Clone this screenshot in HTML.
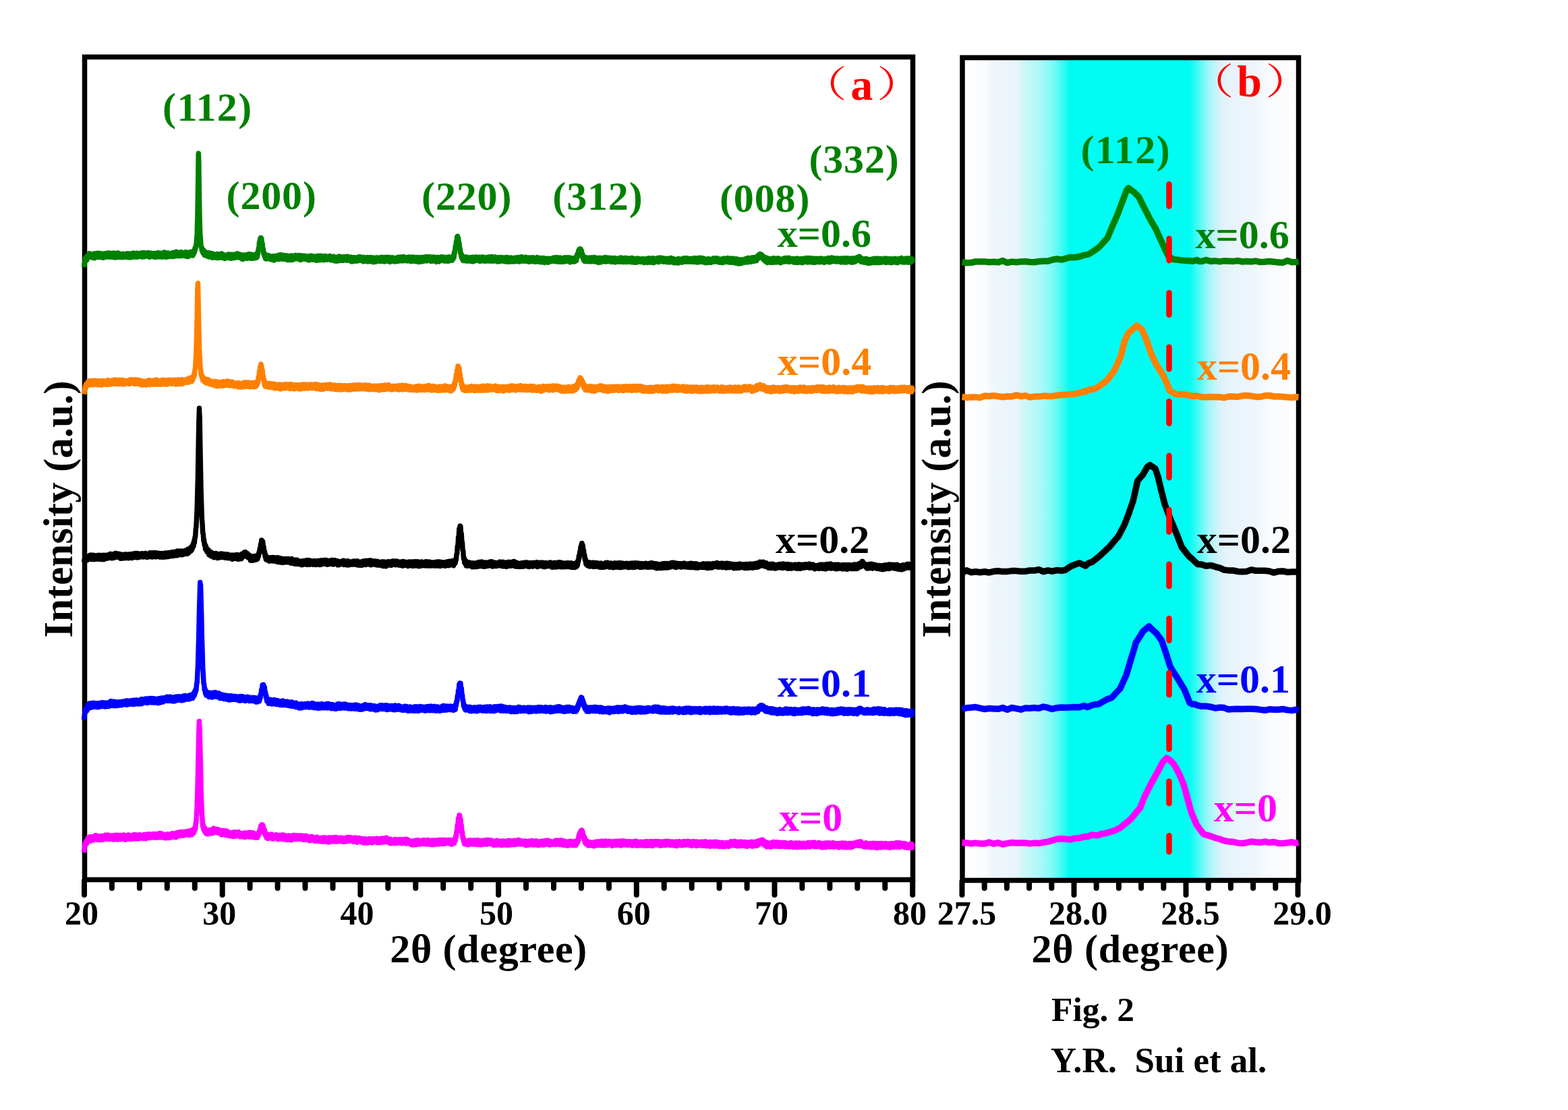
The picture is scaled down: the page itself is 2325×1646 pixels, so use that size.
<!DOCTYPE html>
<html><head><meta charset="utf-8"><title>Fig. 2</title>
<style>html,body{margin:0;padding:0;background:#fff;}svg{display:block;}</style>
</head><body>
<svg width="2325" height="1646" viewBox="0 0 2325 1646">
<defs><linearGradient id="cy" gradientUnits="userSpaceOnUse" x1="1430" y1="0" x2="1922" y2="0">
<stop offset="0.0000" stop-color="#ffffff"/>
<stop offset="0.0650" stop-color="#fafcfd"/>
<stop offset="0.0854" stop-color="#eff6fc"/>
<stop offset="0.1585" stop-color="#e8f4fb"/>
<stop offset="0.1707" stop-color="#d4f7f9"/>
<stop offset="0.2236" stop-color="#b0f9f9"/>
<stop offset="0.2642" stop-color="#80faf7"/>
<stop offset="0.2947" stop-color="#40fbf4"/>
<stop offset="0.3171" stop-color="#00fcf2"/>
<stop offset="0.6768" stop-color="#00fcf2"/>
<stop offset="0.7073" stop-color="#50faf5"/>
<stop offset="0.7358" stop-color="#a0f6f7"/>
<stop offset="0.7683" stop-color="#d8f2fa"/>
<stop offset="0.7927" stop-color="#e6f3fb"/>
<stop offset="0.8780" stop-color="#eff6fb"/>
<stop offset="0.9146" stop-color="#f8fafd"/>
<stop offset="1.0000" stop-color="#ffffff"/>
</linearGradient></defs>
<rect width="2325" height="1646" fill="#ffffff"/>
<rect x="1427" y="85.5" width="498.5" height="1220" fill="url(#cy)"/>
<g fill="none" stroke="#000" stroke-width="7.5">
<rect x="125.5" y="84.5" width="1228" height="1220"/>
<rect x="1427" y="85.5" width="498.5" height="1220"/>
</g>
<path d="M125 1306V1327M165.9 1306V1317M206.9 1306V1317M247.8 1306V1317M288.8 1306V1317M329.7 1306V1327M370.6 1306V1317M411.6 1306V1317M452.5 1306V1317M493.5 1306V1317M534.4 1306V1327M575.3 1306V1317M616.3 1306V1317M657.2 1306V1317M698.2 1306V1317M739.1 1306V1327M780 1306V1317M821 1306V1317M861.9 1306V1317M902.9 1306V1317M943.8 1306V1327M984.7 1306V1317M1025.7 1306V1317M1066.6 1306V1317M1107.6 1306V1317M1148.5 1306V1327M1189.4 1306V1317M1230.4 1306V1317M1271.3 1306V1317M1312.3 1306V1317M1353.2 1306V1327M1426.5 1307V1327M1459.7 1307V1317M1492.9 1307V1317M1526.1 1307V1317M1559.3 1307V1317M1592.5 1307V1327M1625.7 1307V1317M1658.9 1307V1317M1692.1 1307V1317M1725.3 1307V1317M1758.5 1307V1327M1791.7 1307V1317M1824.9 1307V1317M1858.1 1307V1317M1891.3 1307V1317M1924.5 1307V1327" stroke="#000" stroke-width="8" stroke-linecap="round" fill="none"/>
<g fill="none" stroke-linejoin="round" stroke-linecap="butt" stroke-width="7.5">
<path stroke="#008000" d="M124.5 396.1L125.2 390.3L125.8 388.3L126.5 382.3L127.1 387L127.8 381.6L128.4 386.2L129.1 380L129.7 384L130.4 379L131 382.5L131.7 376.3L132.3 380.9L133 375.9L133.6 381L134.3 376.5L134.9 381L135.6 376.9L136.2 381.3L136.9 377.3L137.5 382.3L138.2 377.3L138.8 381.8L139.5 376L140.1 382.7L140.8 376.7L141.4 381.9L142.1 377.4L142.7 380.9L143.4 375.5L144 381L144.7 376.7L145.3 381.3L146 375.4L146.6 381.2L147.3 375.4L147.9 380.1L148.6 376.1L149.2 381.2L149.9 377.2L150.5 381.8L151.2 376L151.8 381.7L152.5 377.1L153.1 382.3L153.8 376.9L154.4 381.6L155.1 375.9L155.7 380.7L156.4 375.8L157 381.2L157.7 375.7L158.3 380.5L159 375.2L159.6 380.1L160.3 376.1L160.9 381.1L161.6 374.9L162.2 381.2L162.9 375.7L163.5 380.3L164.2 376.7L164.8 381L165.5 375.4L166.1 381.2L166.8 376.4L167.4 380.2L168.1 375.4L168.7 381.5L169.4 375.3L170 380.4L170.7 376.2L171.3 382L172 376.5L172.6 381.2L173.3 376.7L173.9 381.1L174.6 375L175.2 381.3L175.9 375.2L176.5 381.1L177.2 376.3L177.8 381.4L178.5 376.7L179.1 381.5L179.8 377.1L180.4 381.7L181.1 376.7L181.7 380.5L182.4 376.3L183 381.5L183.7 376.9L184.3 381.3L185 377.6L185.6 381.2L186.3 376.7L186.9 380.8L187.6 376.6L188.2 381.1L188.9 375.9L189.5 381.5L190.2 376.3L190.8 381.7L191.5 375.9L192.1 381.9L192.8 376.5L193.4 381.1L194.1 376.3L194.7 381.7L195.4 376.2L196 380.5L196.7 376.8L197.3 380.2L198 375.1L198.6 381.1L199.3 376.5L199.9 380.6L200.6 376.1L201.2 381.1L201.9 375.5L202.5 380.8L203.2 375.2L203.8 381.2L204.5 375.8L205.1 380.4L205.8 375.7L206.4 379.8L207.1 376.3L207.7 380.3L208.4 375.9L209 380L209.7 375.1L210.3 381.1L211 374.8L211.6 381.1L212.3 375L212.9 380.6L213.6 374.8L214.2 380.8L214.9 375.5L215.5 379.8L216.2 375.5L216.8 379.6L217.5 375.8L218.1 380L218.8 374.8L219.4 379.7L220.1 374.7L220.7 380.3L221.4 376.1L222 381.3L222.7 375.7L223.3 380L224 375.4L224.6 380.2L225.3 375.5L225.9 380.2L226.6 376.2L227.2 380.7L227.9 376L228.5 381L229.2 375.4L229.8 381.5L230.5 375.7L231.1 381.1L231.8 376.4L232.4 380.7L233.1 375.2L233.7 380.1L234.4 374.8L235 381.1L235.7 376L236.3 380.9L237 375.6L237.6 380.1L238.3 375.3L238.9 379.5L239.6 375.5L240.2 381.2L240.9 375.5L241.5 380.2L242.2 375.1L242.8 379.3L243.5 374L244.1 378.9L244.8 375.4L245.4 381L246.1 375.9L246.7 381.3L247.4 375.1L248 381L248.7 375.3L249.3 380.3L250 375.1L250.6 379.5L251.3 375.8L251.9 380.5L252.6 375.7L253.2 379.9L253.9 376L254.5 380.4L255.2 375.4L255.8 380.4L256.5 374.6L257.1 380.6L257.8 374.3L258.4 379.7L259.1 374.9L259.7 379.9L260.4 375L261 378.6L261.7 373.4L262.3 379.4L263 373.9L263.6 379.5L264.3 374.2L264.9 378.4L265.6 375.1L266.2 379.8L266.9 374.3L267.5 378.9L268.2 373.8L268.8 378.8L269.5 374.9L270.1 379.1L270.8 374.4L271.4 379.4L272.1 375.6L272.7 378.8L273.4 375L274 379.1L274.7 374.5L275.3 379.3L276 373.6L276.6 380.4L277.3 374.2L277.9 380.2L278.6 374.4L279.2 380.5L279.9 375.7L280.5 378.8L281.2 374.5L281.8 378.2L282.5 373.6L283.1 378.7L283.8 374.5L284.4 378.5L285.1 374.4L285.7 379L286.4 372.5L287 377.1L287.7 371.8L288.3 374.6L289 368.1L289.6 370.8L290.3 364.4L290.9 364.3L291.6 354.4L292.2 346.2L292.9 319.3L293.5 283.2L294.2 228.5L294.4 227.4L294.8 238.7L295.5 294.9L296.1 325.9L296.8 348.5L297.4 354.2L298.1 366.6L298.7 365.4L299.4 371.7L300 369.2L300.7 374.6L301.3 370.2L302 376.3L302.6 372.9L303.3 378.5L303.9 373L304.6 377.9L305.2 374.3L305.9 378.9L306.5 375.2L307.2 379.9L307.8 374.9L308.5 379.3L309.1 374.7L309.8 380.8L310.4 375L311.1 381L311.7 375.7L312.4 380.7L313 377.3L313.7 380.6L314.3 375.6L315 382.3L315.6 376.4L316.3 381.8L316.9 376.7L317.6 381.1L318.2 377.6L318.9 381.7L319.5 377.3L320.2 382.3L320.8 377.3L321.5 381.8L322.1 376.6L322.8 382.6L323.4 376.8L324.1 382.6L324.7 377.8L325.4 381.6L326 376.7L326.7 381.7L327.3 377.2L328 381.7L328.6 376.1L329.3 382.2L329.9 376.8L330.6 381.4L331.2 378.1L331.9 381.8L332.5 378.2L333.2 383.6L333.8 378.5L334.5 382L335.1 378.1L335.8 382.4L336.4 378.3L337.1 381.6L337.7 378.2L338.4 381.8L339 377L339.7 382.9L340.3 377.7L341 382.3L341.6 377.2L342.3 383L342.9 378.3L343.6 383.2L344.2 377.2L344.9 382L345.5 377.7L346.2 382.3L346.8 378.4L347.5 382.4L348.1 377.7L348.8 382.4L349.4 377.1L350.1 381.7L350.7 376.3L351.4 381.1L352 375.9L352.7 381.8L353.3 377.3L354 381.2L354.6 377.3L355.3 382L355.9 377.1L356.6 382.3L357.2 378.5L357.9 383.3L358.5 379.1L359.2 384.3L359.8 378.1L360.5 384.4L361.1 378.5L361.8 383.2L362.4 378.8L363.1 383L363.7 378.1L364.4 382.8L365 377.7L365.7 382.4L366.3 378.4L367 383.4L367.6 378.5L368.3 382.4L368.9 376.8L369.6 382.8L370.2 377.2L370.9 382.6L371.5 377L372.2 383.2L372.8 377.2L373.5 382.6L374.1 378.5L374.8 383.2L375.4 378.3L376.1 382.8L376.7 378.7L377.4 382.7L378 377.7L378.7 382.7L379.3 376.9L380 382.2L380.6 377.3L381.3 381.4L381.9 374.2L382.6 376.1L383.2 368.6L383.9 369.9L384.5 359.2L385.2 361.4L385.8 353.8L386.5 357.4L386.8 352.5L387.1 356.6L387.8 353.5L388.4 361.5L389.1 361.1L389.7 370.4L390.4 369.1L391 376.8L391.7 375L392.3 380.4L393 377.8L393.6 383.6L394.3 377.8L394.9 384L395.6 379.2L396.2 383.8L396.9 378.6L397.5 383.5L398.2 378.6L398.8 383.5L399.5 379.3L400.1 384L400.8 380.1L401.4 384.8L402.1 380.5L402.7 384.6L403.4 380.6L404 385.3L404.7 379.8L405.3 385.6L406 380.1L406.6 386.1L407.3 380.7L407.9 384.1L408.6 379.8L409.2 383.6L409.9 379.2L410.5 384.2L411.2 380L411.8 384.5L412.5 379L413.1 383.8L413.8 378.1L414.4 384.4L415.1 379.1L415.7 383L416.4 377.8L417 382.9L417.7 378.1L418.3 383.5L419 379.6L419.6 384.3L420.3 378.5L420.9 383.1L421.6 379.9L422.2 384.6L422.9 379.6L423.5 384.1L424.2 378.8L424.8 384.1L425.5 379.3L426.1 385.5L426.8 379.4L427.4 385.3L428.1 379.7L428.7 385.4L429.4 380.4L430 385.2L430.7 379.5L431.3 385.5L432 379L432.6 385.4L433.3 380.3L433.9 384.1L434.6 379.6L435.2 385.1L435.9 379.4L436.5 383.6L437.2 380.1L437.8 383.6L438.5 378.4L439.1 382.9L439.8 379.6L440.4 383.8L441.1 379.3L441.7 384.1L442.4 378.7L443 383.7L443.7 379.5L444.3 384.9L445 378.8L445.6 385.4L446.3 380.5L446.9 385L447.6 379.2L448.2 384.5L448.9 380.6L449.5 383.9L450.2 379.2L450.8 383.9L451.5 380.3L452.1 384.3L452.8 379.4L453.4 384.5L454.1 380.6L454.7 384.7L455.4 380.3L456 385.4L456.7 380.5L457.3 385.6L458 380.1L458.6 385.9L459.3 379.5L459.9 384.8L460.6 379.8L461.2 384.6L461.9 379.2L462.5 384.3L463.2 380L463.8 385.2L464.5 380.2L465.1 385.3L465.8 380.3L466.4 385.2L467.1 380.1L467.7 385.1L468.4 380.4L469 386.2L469.7 381.2L470.3 385L471 379.5L471.6 386.1L472.3 379.4L472.9 384.6L473.6 379.7L474.2 385.8L474.9 379.3L475.5 385.2L476.2 379.5L476.8 385.1L477.5 379.8L478.1 385.4L478.8 379.7L479.4 384.4L480.1 381L480.7 385.7L481.4 379.7L482 384.2L482.7 379.5L483.3 384.7L484 380L484.6 385L485.3 381.1L485.9 385.1L486.6 381.4L487.2 384.5L487.9 381.1L488.5 384.5L489.2 379.5L489.8 385.3L490.5 381.4L491.1 385.6L491.8 380.7L492.4 385.7L493.1 381.5L493.7 385.9L494.4 380.3L495 385.6L495.7 380.9L496.3 386.9L497 381.9L497.6 386.8L498.3 381.7L498.9 387.2L499.6 381.9L500.2 386.5L500.9 381.7L501.5 386.9L502.2 380.3L502.8 386.1L503.5 380.2L504.1 386.3L504.8 380.4L505.4 386.4L506.1 381.2L506.7 386.5L507.4 380.9L508 385.6L508.7 381.3L509.3 386.4L510 380.8L510.6 385.8L511.3 380.8L511.9 385L512.6 380.7L513.2 385L513.9 381.8L514.5 386.2L515.2 380.2L515.8 385.6L516.5 381.8L517.1 385.8L517.8 381.8L518.4 386.3L519.1 381.3L519.7 386.8L520.4 381.3L521 387.8L521.7 381.4L522.3 387.9L523 381.9L523.6 387L524.3 382.7L524.9 386.1L525.6 381.7L526.2 387.2L526.9 381.8L527.5 385.6L528.2 382.5L528.8 387.2L529.5 382.1L530.1 385.7L530.8 381.9L531.4 386.8L532.1 380.8L532.7 385.7L533.4 380.9L534 386.3L534.7 381.6L535.3 386.6L536 381.1L536.6 386.3L537.3 382.2L537.9 386.3L538.6 382.2L539.2 387.9L539.9 381.4L540.5 387.1L541.2 382.4L541.8 386.9L542.5 382.3L543.1 386.4L543.8 382L544.4 387.7L545.1 381.5L545.7 388L546.4 382.4L547 386.6L547.7 382.8L548.3 386.9L549 381.7L549.6 386.7L550.3 381.7L550.9 388L551.6 383.5L552.2 387.8L552.9 382.3L553.5 388.7L554.2 383.2L554.8 388L555.5 382.3L556.1 387.2L556.8 383.3L557.4 388.4L558.1 382.5L558.7 386.8L559.4 381.9L560 386.6L560.7 382.3L561.3 387L562 382.6L562.6 387.5L563.3 382.1L563.9 387.3L564.6 381.8L565.2 387.6L565.9 381.3L566.5 386.9L567.2 381.9L567.8 387.3L568.5 382.7L569.1 387.7L569.8 381.5L570.4 387.9L571.1 382.6L571.7 386.4L572.4 381.6L573 387.3L573.7 381.2L574.3 386.1L575 381.6L575.6 387L576.3 382.7L576.9 387L577.6 381.5L578.2 388.4L578.9 383.3L579.5 387.1L580.2 382.1L580.8 386.4L581.5 383.3L582.1 386.5L582.8 381.9L583.4 387.3L584.1 383.2L584.7 388.1L585.4 382.8L586 387.9L586.7 382.6L587.3 386.8L588 382.2L588.6 386.3L589.3 382.6L589.9 387.5L590.6 381.3L591.2 386.6L591.9 381.4L592.5 387.1L593.2 381.8L593.8 386.8L594.5 381L595.1 385.6L595.8 381.9L596.4 386.9L597.1 381L597.7 385.7L598.4 380.6L599 386.7L599.7 381.2L600.3 385.7L601 381.9L601.6 386.2L602.3 382.4L602.9 386.6L603.6 381.5L604.2 386.9L604.9 382.5L605.5 386.6L606.2 381L606.8 385.9L607.5 381.2L608.1 387.2L608.8 382.4L609.4 387.7L610.1 381.2L610.7 387.3L611.4 380.9L612 386L612.7 381.3L613.3 387.2L614 382.3L614.6 387.3L615.3 382.4L615.9 387.5L616.6 381.6L617.2 387.8L617.9 382.4L618.5 386.9L619.2 381.4L619.8 386.3L620.5 383.2L621.1 388.6L621.8 381.9L622.4 386.9L623.1 381.7L623.7 386.9L624.4 381.5L625 388L625.7 383L626.3 386L627 382.2L627.6 387.6L628.3 381.4L628.9 386.4L629.6 380.9L630.2 386.1L630.9 381.6L631.5 385.7L632.2 380.7L632.8 387.1L633.5 381.7L634.1 386L634.8 380.7L635.4 386.2L636.1 382.1L636.7 386.3L637.4 380.8L638 386.9L638.7 382.3L639.3 387.6L640 381.4L640.6 385.8L641.3 381.2L641.9 387.2L642.6 380.9L643.2 385.6L643.9 381.9L644.5 387.1L645.2 381.6L645.8 387.3L646.5 383.2L647.1 388.4L647.8 381.4L648.4 387.2L649.1 382.9L649.7 387.5L650.4 381.6L651 387.9L651.7 383.1L652.3 386.8L653 382.4L653.6 386L654.3 380.9L654.9 386.1L655.6 382.3L656.2 385.6L656.9 381L657.5 386.8L658.2 382.2L658.8 387.1L659.5 382.5L660.1 387.2L660.8 381.5L661.4 385.7L662.1 381.7L662.7 387L663.4 381.4L664 387.3L664.7 381L665.3 387.2L666 381.1L666.6 386.5L667.3 382.7L667.9 386L668.6 382.1L669.2 385.7L669.9 382L670.5 386.2L671.2 381.4L671.8 384.4L672.5 378L673.1 382L673.8 373.4L674.4 375.2L675.1 366L675.7 367.9L676.4 358.6L677 358.6L677.7 351.2L678.3 354.4L678.5 350.3L679 355L679.6 352.9L680.3 359.7L680.9 360L681.6 368.1L682.2 368.4L682.9 376L683.5 375.4L684.2 381.7L684.8 378L685.5 384.4L686.1 379.8L686.8 386.6L687.4 382L688.1 385.9L688.7 381.4L689.4 386.3L690 382.3L690.7 386.9L691.3 380.9L692 386.6L692.6 382.1L693.3 387.2L693.9 381.8L694.6 386.7L695.2 381.9L695.9 387L696.5 381.9L697.2 386.1L697.8 382.6L698.5 387.6L699.1 381.4L699.8 387.4L700.4 381.3L701.1 387.9L701.7 382.1L702.4 387.2L703 381.7L703.7 387.2L704.3 381.8L705 386.6L705.6 381.1L706.3 386.6L706.9 382.8L707.6 386L708.2 381.8L708.9 386.3L709.5 381.2L710.2 386.3L710.8 382.1L711.5 387.4L712.1 381.9L712.8 387.4L713.4 381.3L714.1 385.8L714.7 382.4L715.4 386.7L716 381.1L716.7 386.4L717.3 382.1L718 387L718.6 382.5L719.3 387.4L719.9 382.6L720.6 386.2L721.2 381.4L721.9 387.1L722.5 381.8L723.2 386.5L723.8 382.9L724.5 387L725.1 381.1L725.8 387L726.4 381.6L727.1 387.3L727.7 380.8L728.4 387.2L729 380.6L729.7 386.8L730.3 381.9L731 386.8L731.6 381.9L732.3 387.4L732.9 382.4L733.6 386.5L734.2 381.1L734.9 386.7L735.5 381.8L736.2 386.4L736.8 382.7L737.5 388L738.1 382.1L738.8 387.1L739.4 382.3L740.1 387.6L740.7 381.6L741.4 387.7L742 382.3L742.7 386.6L743.3 381.7L744 386.8L744.6 381.7L745.3 386.5L745.9 382.3L746.6 387.5L747.2 382.1L747.9 387.3L748.5 382.8L749.2 387.9L749.8 382.8L750.5 387.2L751.1 381.6L751.8 387.1L752.4 383.1L753.1 388.4L753.7 382L754.4 387.8L755 383.6L755.7 388.1L756.3 383.3L757 387.4L757.6 382L758.3 388L758.9 382.8L759.6 386.7L760.2 382.7L760.9 388.1L761.5 382.7L762.2 386.8L762.8 382.3L763.5 387.1L764.1 382.3L764.8 387.9L765.4 382.6L766.1 386.9L766.7 381.8L767.4 386.8L768 382.6L768.7 386.4L769.3 382L770 388L770.6 382.8L771.3 387.6L771.9 381.1L772.6 386.9L773.2 380.8L773.9 387.2L774.5 381.4L775.2 386.2L775.8 381.8L776.5 387.1L777.1 382.5L777.8 387.3L778.4 381.9L779.1 387.4L779.7 381.3L780.4 386.9L781 382.5L781.7 386.8L782.3 383.2L783 387.6L783.6 382L784.3 388.3L784.9 382.5L785.6 387.6L786.2 382.1L786.9 386.7L787.5 382.7L788.2 387.6L788.8 382.8L789.5 387.1L790.1 381.7L790.8 387.1L791.4 383.1L792.1 388.3L792.7 383.3L793.4 388.3L794 383.1L794.7 387L795.3 382.4L796 387.4L796.6 381.4L797.3 388.1L797.9 382.8L798.6 387.9L799.2 383.1L799.9 388.5L800.5 383L801.2 388.6L801.8 382.6L802.5 388.7L803.1 383.2L803.8 387.8L804.4 383.5L805.1 388.8L805.7 382.4L806.4 389.1L807 383.9L807.7 389.5L808.3 383.3L809 388.6L809.6 384.5L810.3 388.2L810.9 383.3L811.6 388L812.2 383.8L812.9 389.3L813.5 383.3L814.2 388.5L814.8 383.8L815.5 387.9L816.1 384L816.8 387.1L817.4 383.3L818.1 387.8L818.7 382.9L819.4 386.8L820 382.6L820.7 387.3L821.3 381.9L822 387.6L822.6 383.2L823.3 387.4L823.9 382.9L824.6 388L825.2 381.5L825.9 387.7L826.5 382.2L827.2 388L827.8 382.2L828.5 387.2L829.1 383.5L829.8 388.5L830.4 381.9L831.1 387.3L831.7 382.7L832.4 388L833 383.2L833.7 388.4L834.3 383.5L835 387.7L835.6 382.6L836.3 388.2L836.9 382.1L837.6 387.7L838.2 381.7L838.9 386.9L839.5 382.2L840.2 386.3L840.8 382.9L841.5 387.5L842.1 381.7L842.8 387.4L843.4 382.2L844.1 387.9L844.7 381.9L845.4 388.9L846 382.6L846.7 388L847.3 383L848 388L848.6 382.8L849.3 388L849.9 382.7L850.6 388L851.2 384L851.9 388.1L852.5 383.2L853.2 387.3L853.8 382.7L854.5 386.7L855.1 378.8L855.8 382.4L856.4 376.3L857.1 379L857.7 371.8L858.4 376.2L859 369.9L859.7 375L860 369.1L860.3 373.7L861 369.1L861.6 375.9L862.3 371.8L862.9 379.4L863.6 376.3L864.2 382.9L864.9 379L865.5 385.6L866.2 381.5L866.8 387.3L867.5 383.2L868.1 387.8L868.8 381.7L869.4 387L870.1 383.6L870.7 387.6L871.4 382.6L872 387.3L872.7 382.6L873.3 387.8L874 382L874.6 386.5L875.3 382.9L875.9 387.7L876.6 383.2L877.2 388L877.9 381.7L878.5 387.2L879.2 382.5L879.8 386.5L880.5 382.9L881.1 387.5L881.8 381.5L882.4 388.2L883.1 383.8L883.7 387L884.4 383L885 387.9L885.7 382.8L886.3 389L887 382.6L887.6 389.4L888.3 383.7L888.9 388.2L889.6 382.3L890.2 388.9L890.9 384.1L891.5 388.7L892.2 382.7L892.8 387.1L893.5 382.9L894.1 387.6L894.8 382.4L895.4 387.5L896.1 382.1L896.7 387.6L897.4 381.6L898 388.2L898.7 383.2L899.3 386.8L900 382.1L900.6 387.8L901.3 382.1L901.9 387.8L902.6 383.8L903.2 387.3L903.9 382.4L904.5 387L905.2 382.6L905.8 388L906.5 382.7L907.1 388.6L907.8 383.2L908.4 387.9L909.1 382.6L909.7 387.3L910.4 384.2L911 387.6L911.7 382.6L912.3 389L913 383.9L913.6 387.6L914.3 383.4L914.9 388.3L915.6 384.2L916.2 387.7L916.9 383.7L917.5 388.1L918.2 382.5L918.8 388.3L919.5 382.3L920.1 388.5L920.8 382.1L921.4 387.7L922.1 382.6L922.7 388.1L923.4 384.1L924 388.6L924.7 383.2L925.3 387.7L926 382.5L926.6 388.4L927.3 382.9L927.9 388.3L928.6 382.5L929.2 388.5L929.9 382.8L930.5 388.4L931.2 383.6L931.8 387.6L932.5 383.4L933.1 387L933.8 383.6L934.4 388.6L935.1 383.1L935.7 387.9L936.4 382.5L937 388.8L937.7 382.7L938.3 388.2L939 382.9L939.6 389.1L940.3 384.4L940.9 388.7L941.6 384.6L942.2 389L942.9 383.9L943.5 389.3L944.2 383.9L944.8 388.2L945.5 383L946.1 388.5L946.8 384.2L947.4 388L948.1 383.8L948.7 387.6L949.4 384.3L950 388.4L950.7 384L951.3 388.6L952 384.1L952.6 388.5L953.3 383.8L953.9 388.6L954.6 383.7L955.2 389.6L955.9 384.9L956.5 388.2L957.2 384.6L957.8 388.7L958.5 384.3L959.1 389.3L959.8 383.3L960.4 389.4L961.1 383.4L961.7 388.9L962.4 382.8L963 388.9L963.7 383.6L964.3 387.7L965 384.4L965.6 389.2L966.3 383.3L966.9 388.4L967.6 382.8L968.2 389.1L968.9 383.9L969.5 389.7L970.2 383.2L970.8 388.7L971.5 383.6L972.1 387.9L972.8 384.3L973.4 388.2L974.1 383.8L974.7 387.1L975.4 382.5L976 388.6L976.7 382.7L977.3 388.7L978 382.2L978.6 387.8L979.3 382.3L979.9 386.9L980.6 382.4L981.2 387.1L981.9 383.3L982.5 387.6L983.2 382.7L983.8 388.3L984.5 383L985.1 388.1L985.8 384.4L986.4 387.7L987.1 383.7L987.7 388.1L988.4 383.4L989 388.8L989.7 383.9L990.3 388.2L991 384.6L991.6 388.8L992.3 383L992.9 389L993.6 382.7L994.2 387.8L994.9 382.4L995.5 388.5L996.2 384L996.8 387.9L997.5 384.8L998.1 389.3L998.8 383.8L999.4 389.8L1000.1 384.2L1000.7 389.1L1001.4 384.8L1002 389.5L1002.7 385.5L1003.3 389.9L1004 385.1L1004.6 388.7L1005.3 383.8L1005.9 390.1L1006.6 383.7L1007.2 388.4L1007.9 384.1L1008.5 388.5L1009.2 384.3L1009.8 387.8L1010.5 384.3L1011.1 389.2L1011.8 383.8L1012.4 387.7L1013.1 383.3L1013.7 388.1L1014.4 382.8L1015 388.2L1015.7 383.9L1016.3 387.6L1017 382.9L1017.6 388.2L1018.3 382.7L1018.9 387.4L1019.6 383.7L1020.2 388.3L1020.9 383.6L1021.5 388.2L1022.2 383.2L1022.8 387.7L1023.5 384.3L1024.1 388.1L1024.8 384.4L1025.4 388.3L1026.1 383.4L1026.7 387.9L1027.4 383.8L1028 388.5L1028.7 383.1L1029.3 387.2L1030 382.6L1030.6 388.5L1031.3 383.7L1031.9 388.3L1032.6 382.9L1033.2 388.9L1033.9 384.1L1034.5 389.1L1035.2 383.6L1035.8 388.9L1036.5 382.2L1037.1 387.6L1037.8 383.3L1038.4 388.3L1039.1 382.5L1039.7 387.8L1040.4 383.3L1041 388.5L1041.7 382.6L1042.3 387.4L1043 383.2L1043.6 388.1L1044.3 383.5L1044.9 389.5L1045.6 384.8L1046.2 389.4L1046.9 384.7L1047.5 389.8L1048.2 384.2L1048.8 389.2L1049.5 384.7L1050.1 389.3L1050.8 383.6L1051.4 388.7L1052.1 384.4L1052.7 388.5L1053.4 384.7L1054 389.6L1054.7 384.3L1055.3 389L1056 384.4L1056.6 388.4L1057.3 383.6L1057.9 387.9L1058.6 382.9L1059.2 388L1059.9 383.6L1060.5 388.1L1061.2 383L1061.8 388L1062.5 384.1L1063.1 387.6L1063.8 382.9L1064.4 387.9L1065.1 383.9L1065.7 389L1066.4 384.2L1067 388.6L1067.7 384L1068.3 389.3L1069 384.6L1069.6 388.1L1070.3 385L1070.9 389.3L1071.6 383.7L1072.2 389.5L1072.9 383.2L1073.5 388.7L1074.2 383.2L1074.8 388.6L1075.5 383.9L1076.1 388.1L1076.8 383.3L1077.4 388.5L1078.1 383.7L1078.7 388.4L1079.4 382.6L1080 387.7L1080.7 383.3L1081.3 389L1082 384.2L1082.6 389.2L1083.3 383.8L1083.9 388.1L1084.6 383.1L1085.2 388.9L1085.9 384L1086.5 389.4L1087.2 383.2L1087.8 388.5L1088.5 385L1089.1 389.6L1089.8 384L1090.4 389.1L1091.1 384L1091.7 390.4L1092.4 384.1L1093 390L1093.7 384.3L1094.3 391L1095 384.9L1095.6 389.8L1096.3 385.8L1096.9 391L1097.6 385.1L1098.2 390.5L1098.9 385L1099.5 390.6L1100.2 385.9L1100.8 389.5L1101.5 386L1102.1 388.8L1102.8 384.8L1103.4 388.6L1104.1 384.3L1104.7 389.2L1105.4 384L1106 387.4L1106.7 383.2L1107.3 387.2L1108 384L1108.6 389L1109.3 382.6L1109.9 387.2L1110.6 382.6L1111.2 386.9L1111.9 383L1112.5 388.2L1113.2 382.7L1113.8 388.4L1114.5 382.3L1115.1 386.9L1115.8 381.9L1116.4 387.3L1117.1 382.8L1117.7 387.6L1118.4 381.8L1119 386.5L1119.7 382.7L1120.3 386.7L1121 381.3L1121.6 386.7L1122.3 380.9L1122.9 384.7L1123.6 379.3L1124.2 383.7L1124.9 378.4L1125.5 382.4L1126.2 376.9L1126.8 382L1127.5 376.6L1127.6 381.9L1128.1 377.6L1128.8 381L1129.4 377.5L1130.1 382.4L1130.7 379.3L1131.4 383.7L1132 380.1L1132.7 385.5L1133.3 381.1L1134 386L1134.6 381.5L1135.3 387.8L1135.9 383.5L1136.6 388.3L1137.2 382.6L1137.9 389.6L1138.5 383.4L1139.2 388.4L1139.8 383.3L1140.5 388.6L1141.1 384.4L1141.8 388.2L1142.4 384L1143.1 389.6L1143.7 383.8L1144.4 387.9L1145 383.2L1145.7 388.6L1146.3 383.6L1147 389.4L1147.6 382.8L1148.3 388.4L1148.9 383.1L1149.6 387.7L1150.2 383.7L1150.9 389L1151.5 383.2L1152.2 388.4L1152.8 383.1L1153.5 388.3L1154.1 382.9L1154.8 388.3L1155.4 384.3L1156.1 389.1L1156.7 384.6L1157.4 389.8L1158 383.9L1158.7 388.5L1159.3 384.7L1160 388.7L1160.6 384.5L1161.3 387.6L1161.9 383.8L1162.6 388.1L1163.2 382.7L1163.9 387.7L1164.5 382.6L1165.2 388L1165.8 382.5L1166.5 387.6L1167.1 384.1L1167.8 387.8L1168.4 383.5L1169.1 387.7L1169.7 382.2L1170.4 388.6L1171 384.1L1171.7 388L1172.3 383.9L1173 387.8L1173.6 383.5L1174.3 387.5L1174.9 384L1175.6 387.6L1176.2 383.5L1176.9 389.1L1177.5 384.2L1178.2 389.3L1178.8 384.3L1179.5 389.4L1180.1 383.4L1180.8 389.1L1181.4 383.2L1182.1 389.3L1182.7 383.2L1183.4 389.6L1184 384.5L1184.7 388.7L1185.3 384.8L1186 388.9L1186.6 384.7L1187.3 388.5L1187.9 383.6L1188.6 389.5L1189.2 384.2L1189.9 389.7L1190.5 383.8L1191.2 388.9L1191.8 383.3L1192.5 388.8L1193.1 384.2L1193.8 388L1194.4 383.3L1195.1 387.7L1195.7 382.5L1196.4 387.4L1197 382.9L1197.7 389.1L1198.3 383L1199 387.5L1199.6 382.6L1200.3 388.4L1200.9 382.8L1201.6 387.5L1202.2 383.6L1202.9 388.9L1203.5 384.3L1204.2 387.5L1204.8 383L1205.5 389.2L1206.1 383.9L1206.8 388.2L1207.4 383.5L1208.1 389.2L1208.7 383.9L1209.4 389.1L1210 383.2L1210.7 388.4L1211.3 384L1212 388.5L1212.6 384.2L1213.3 388.4L1213.9 383.3L1214.6 388.9L1215.2 383.8L1215.9 388.8L1216.5 383.6L1217.2 388.6L1217.8 383.7L1218.5 387.9L1219.1 383.1L1219.8 387.2L1220.4 384.4L1221.1 388.8L1221.7 384.2L1222.4 389.4L1223 384.6L1223.7 388.3L1224.3 383.4L1225 388.1L1225.6 383.9L1226.3 388.4L1226.9 383.8L1227.6 387.8L1228.2 382.4L1228.9 388.1L1229.5 384.2L1230.2 389L1230.8 383.6L1231.5 388.4L1232.1 382.4L1232.8 388.1L1233.4 382.1L1234.1 387.2L1234.7 383.9L1235.4 387.8L1236 383L1236.7 387.6L1237.3 382.8L1238 387.3L1238.6 383L1239.3 387.8L1239.9 383.5L1240.6 388.2L1241.2 382.9L1241.9 387.6L1242.5 383.5L1243.2 387.6L1243.8 383.1L1244.5 388.1L1245.1 384L1245.8 387.9L1246.4 383.3L1247.1 389.1L1247.7 383.3L1248.4 388.7L1249 383.6L1249.7 388.6L1250.3 382.9L1251 388.8L1251.6 382.8L1252.3 388.9L1252.9 382.9L1253.6 388.8L1254.2 383.1L1254.9 389.1L1255.5 384L1256.2 388.1L1256.8 382.8L1257.5 388L1258.1 383.2L1258.8 388.2L1259.4 383.9L1260.1 388.4L1260.7 384L1261.4 388.2L1262 382.9L1262.7 389.2L1263.3 383.6L1264 388.7L1264.6 383L1265.3 389L1265.9 384.5L1266.6 388L1267.2 383L1267.9 388.3L1268.5 382.6L1269.2 387L1269.8 383.1L1270.5 386.4L1271.1 382L1271.8 386.2L1272.4 381L1273 386L1273.1 381.1L1273.7 385.9L1274.4 380.2L1275 385.4L1275.7 381.6L1276.3 387.5L1277 383.1L1277.6 388.6L1278.3 383.7L1278.9 388.6L1279.6 383.8L1280.2 388.3L1280.9 384.4L1281.5 389.4L1282.2 384L1282.8 388.2L1283.5 383.6L1284.1 389.1L1284.8 383.6L1285.4 388.7L1286.1 384.7L1286.7 390.3L1287.4 384.4L1288 389.8L1288.7 384.9L1289.3 390.5L1290 385.6L1290.6 389.9L1291.3 384.4L1291.9 389.8L1292.6 384.2L1293.2 389.7L1293.9 385.2L1294.5 389L1295.2 383.5L1295.8 389.6L1296.5 383.7L1297.1 387.8L1297.8 383.4L1298.4 389.4L1299.1 384.5L1299.7 388.1L1300.4 384L1301 388.4L1301.7 383.1L1302.3 389.7L1303 383.5L1303.6 389.3L1304.3 384.1L1304.9 388L1305.6 383.6L1306.2 389.3L1306.9 383.5L1307.5 387.7L1308.2 384.2L1308.8 388.9L1309.5 384.6L1310.1 388.5L1310.8 383.7L1311.4 388.3L1312.1 383.1L1312.7 388.4L1313.4 383.8L1314 389.6L1314.7 383.5L1315.3 388.4L1316 383.4L1316.6 388.3L1317.3 385.1L1317.9 388.3L1318.6 383.8L1319.2 389.3L1319.9 383.7L1320.5 389.3L1321.2 383.8L1321.8 389.7L1322.5 384.2L1323.1 388.2L1323.8 384.5L1324.4 388.8L1325.1 383.9L1325.7 388.9L1326.4 384.3L1327 388.4L1327.7 383.4L1328.3 389.2L1329 384L1329.6 389L1330.3 384.2L1330.9 389.7L1331.6 384.1L1332.2 388.7L1332.9 383.6L1333.5 388L1334.2 383.9L1334.8 387.7L1335.5 383.4L1336.1 388.4L1336.8 382.5L1337.4 387.9L1338.1 384.6L1338.7 389L1339.4 384.5L1340 388.9L1340.7 384.2L1341.3 389.1L1342 384.4L1342.6 388.6L1343.3 383.1L1343.9 389.1L1344.6 384L1345.2 388.8L1345.9 383.1L1346.5 388.3L1347.2 383.3L1347.8 389.2L1348.5 383L1349.1 388.7L1349.8 384L1350.4 388.9L1351.1 384.2L1351.7 388.2L1352.4 383.9L1353 388.8"/>
<path stroke="#ff8000" d="M124.5 584.5L125.2 580.4L125.8 578L126.5 572.4L127.1 576L127.8 569.5L128.4 573.5L129.1 569.2L129.7 571.9L130.4 566.2L131 570.5L131.7 565.5L132.3 569.7L133 564.7L133.6 569.9L134.3 564.8L134.9 570.8L135.6 564.6L136.2 569.6L136.9 565.4L137.5 569.5L138.2 564.6L138.8 570.5L139.5 564.4L140.1 569.6L140.8 564.4L141.4 570.2L142.1 565L142.7 569.4L143.4 566.1L144 569.8L144.7 564.8L145.3 570.8L146 564.8L146.6 570.4L147.3 565.5L147.9 570.5L148.6 565.2L149.2 570.7L149.9 565.3L150.5 571L151.2 564.8L151.8 570.2L152.5 564.6L153.1 569.8L153.8 564.9L154.4 569.7L155.1 565.2L155.7 568.9L156.4 565.8L157 570.2L157.7 564.8L158.3 570.4L159 564.4L159.6 569.7L160.3 563.7L160.9 570.1L161.6 564.7L162.2 570L162.9 565.8L163.5 569.1L164.2 565.3L164.8 569.9L165.5 565.5L166.1 568.6L166.8 563.8L167.4 568.5L168.1 564.3L168.7 569L169.4 563.6L170 568.9L170.7 563L171.3 569.3L172 563.7L172.6 568.9L173.3 563.7L173.9 569.6L174.6 564.2L175.2 568.9L175.9 563.5L176.5 567.9L177.2 564.5L177.8 569.6L178.5 563.4L179.1 568.2L179.8 564.1L180.4 567.8L181.1 563.3L181.7 568.3L182.4 564.9L183 570.1L183.7 564.2L184.3 568.7L185 565.1L185.6 569.1L186.3 564.4L186.9 569.1L187.6 565L188.2 568.3L188.9 564.5L189.5 568.8L190.2 564.4L190.8 568.9L191.5 564.2L192.1 569.6L192.8 563L193.4 567.9L194.1 564.2L194.7 568.3L195.4 562.9L196 567.6L196.7 564.1L197.3 568.4L198 563.2L198.6 569.2L199.3 562.9L199.9 569.1L200.6 564.4L201.2 569.3L201.9 562.9L202.5 567.5L203.2 564.2L203.8 568.9L204.5 564.2L205.1 568.9L205.8 563.4L206.4 569.4L207.1 564.1L207.7 569.7L208.4 564.6L209 570.6L209.7 564.7L210.3 570.9L211 566.1L211.6 570.9L212.3 565.2L212.9 570.7L213.6 566.2L214.2 570.5L214.9 565.7L215.5 569.6L216.2 566.3L216.8 571L217.5 565L218.1 569.5L218.8 565.3L219.4 569.4L220.1 563.9L220.7 568.8L221.4 563.8L222 570.7L222.7 565L223.3 569.3L224 564.7L224.6 569.6L225.3 565L225.9 569.3L226.6 564.2L227.2 569.5L227.9 564.1L228.5 570.3L229.2 565.3L229.8 569.1L230.5 564.8L231.1 569.5L231.8 563.1L232.4 569.5L233.1 563.8L233.7 570.1L234.4 564.9L235 569L235.7 564.6L236.3 568.9L237 564.2L237.6 570.2L238.3 564.9L238.9 569.1L239.6 564.1L240.2 568.9L240.9 563.5L241.5 569.7L242.2 563.6L242.8 568.5L243.5 564.7L244.1 568.5L244.8 563.6L245.4 569.9L246.1 565.2L246.7 569.7L247.4 563.7L248 569.9L248.7 564.5L249.3 569.2L250 564.6L250.6 567.8L251.3 563.3L251.9 567.9L252.6 563.6L253.2 568.5L253.9 563.8L254.5 569.3L255.2 563.9L255.8 568.2L256.5 563.6L257.1 567.8L257.8 563.8L258.4 568.4L259.1 563.3L259.7 569.1L260.4 564.8L261 570L261.7 564.3L262.3 569L263 563.3L263.6 567.9L264.3 564.5L264.9 569.5L265.6 563L266.2 568.3L266.9 564.5L267.5 568.6L268.2 563.3L268.8 569.3L269.5 562.7L270.1 569.6L270.8 564L271.4 568.6L272.1 563.8L272.7 568.1L273.4 564.4L274 567.6L274.7 563.3L275.3 567L276 563L276.6 566.6L277.3 562.2L277.9 567.1L278.6 562.4L279.2 566.8L279.9 561.7L280.5 566.9L281.2 560.6L281.8 565.7L282.5 560.7L283.1 565.2L283.8 559.7L284.4 565.4L285.1 560.3L285.7 563.5L286.4 558.4L287 560.6L287.7 554.8L288.3 557.2L289 547.9L289.6 546.3L290.3 533.3L290.9 524.1L291.6 497.5L292.2 468.5L292.9 428.3L293.3 421.7L293.5 419.9L294.2 454.9L294.8 486.9L295.5 516.9L296.1 529.3L296.8 544.5L297.4 546.2L298.1 555.8L298.7 554.3L299.4 559.9L300 557.8L300.7 564.2L301.3 559.4L302 565.1L302.6 560.6L303.3 565.9L303.9 562.1L304.6 567L305.2 563.2L305.9 567.9L306.5 562.9L307.2 568.2L307.8 562.6L308.5 567.9L309.1 564.1L309.8 569.2L310.4 563.9L311.1 569.1L311.7 564.6L312.4 568.9L313 565.1L313.7 570.3L314.3 565.8L315 570L315.6 565.7L316.3 569.6L316.9 566.4L317.6 571.5L318.2 565.6L318.9 570.9L319.5 566.6L320.2 572L320.8 566.4L321.5 572.8L322.1 566.1L322.8 572L323.4 566.9L324.1 572.2L324.7 567.5L325.4 571.9L326 566.7L326.7 571.9L327.3 566.8L328 572L328.6 566.2L329.3 572.3L329.9 567.4L330.6 572.2L331.2 565.7L331.9 572L332.5 566.8L333.2 571.1L333.8 566.6L334.5 570L335.1 565.8L335.8 571.4L336.4 565.2L337.1 570.8L337.7 565L338.4 571.2L339 566.4L339.7 571.5L340.3 566.3L341 571.9L341.6 566.7L342.3 570.7L342.9 566.2L343.6 571.1L344.2 566.3L344.9 572L345.5 566.7L346.2 571.5L346.8 567.6L347.5 572.9L348.1 568.3L348.8 572.8L349.4 568.5L350.1 572.3L350.7 568.1L351.4 573L352 568.6L352.7 572.4L353.3 567.7L354 573.9L354.6 568.7L355.3 573.1L355.9 568.2L356.6 573.2L357.2 569L357.9 574.2L358.5 569.2L359.2 573.9L359.8 568.3L360.5 573.4L361.1 567.8L361.8 573.4L362.4 567.1L363.1 573.5L363.7 568.3L364.4 572.2L365 567.2L365.7 572.2L366.3 568.3L367 573.2L367.6 566.9L368.3 573.3L368.9 567.9L369.6 572.7L370.2 567.5L370.9 573.8L371.5 568.1L372.2 572.3L372.8 568.8L373.5 572.1L374.1 567.4L374.8 572.8L375.4 569.1L376.1 573.8L376.7 568.9L377.4 573.3L378 567.3L378.7 573.4L379.3 568L380 572.7L380.6 566.6L381.3 570.7L381.9 564.6L382.6 567.8L383.2 559.3L383.9 560.5L384.5 550.8L385.2 552.2L385.8 544L386.5 546.2L387 539.9L387.1 545.9L387.8 542.5L388.4 548.7L389.1 548.7L389.7 558.1L390.4 557.7L391 564.7L391.7 563.6L392.3 571.4L393 567.2L393.6 573.1L394.3 569L394.9 573.3L395.6 569L396.2 573.4L396.9 569.3L397.5 573.6L398.2 568.3L398.8 574.6L399.5 570.2L400.1 573.6L400.8 568.7L401.4 574L402.1 569.8L402.7 573.5L403.4 569.3L404 574.7L404.7 569.2L405.3 574.3L406 569.3L406.6 575.2L407.3 569.4L407.9 575.9L408.6 570.6L409.2 574.5L409.9 570.2L410.5 574.5L411.2 571.4L411.8 575.7L412.5 571.5L413.1 575.5L413.8 569.9L414.4 575.2L415.1 570.3L415.7 577L416.4 572L417 575.7L417.7 570.2L418.3 575.8L419 570.9L419.6 576L420.3 570.7L420.9 574.7L421.6 570.4L422.2 575.7L422.9 569.8L423.5 575.4L424.2 570.7L424.8 575L425.5 570.2L426.1 575.2L426.8 570.8L427.4 575.5L428.1 569.9L428.7 574.8L429.4 571.4L430 576.5L430.7 569.9L431.3 574.7L432 569.6L432.6 575.1L433.3 570.8L433.9 575.6L434.6 570.9L435.2 576.5L435.9 570.9L436.5 576.8L437.2 570.7L437.8 576.5L438.5 570.6L439.1 575.9L439.8 570.7L440.4 575.1L441.1 570.9L441.7 575.7L442.4 570.8L443 575.5L443.7 571L444.3 577.1L445 571.3L445.6 575.4L446.3 570.7L446.9 575.7L447.6 571.5L448.2 576.5L448.9 570.1L449.5 574.9L450.2 570.9L450.8 575.9L451.5 571.1L452.1 576.1L452.8 570.1L453.4 574.5L454.1 570.8L454.7 574.6L455.4 570.4L456 575.9L456.7 571L457.3 574.5L458 570.9L458.6 575.2L459.3 570.1L459.9 574.7L460.6 570.4L461.2 575.3L461.9 570.1L462.5 575.7L463.2 571L463.8 574.8L464.5 570.3L465.1 575.6L465.8 569.9L466.4 575.6L467.1 571.3L467.7 575.7L468.4 569.8L469 576.4L469.7 570.1L470.3 576.3L471 571.6L471.6 575.6L472.3 570.8L472.9 576.7L473.6 571.1L474.2 576.9L474.9 571.8L475.5 577.6L476.2 571.3L476.8 576.2L477.5 571.8L478.1 577L478.8 572.1L479.4 577.3L480.1 570.9L480.7 575.6L481.4 572L482 575.4L482.7 570.8L483.3 575.8L484 570.7L484.6 576.1L485.3 571.7L485.9 575.4L486.6 571.2L487.2 576.1L487.9 571.1L488.5 575.2L489.2 570L489.8 575.7L490.5 571.6L491.1 576.7L491.8 570.7L492.4 576L493.1 571.9L493.7 576.7L494.4 572L495 577L495.7 570.9L496.3 577.2L497 571.3L497.6 577.5L498.3 572.2L498.9 577.6L499.6 573.1L500.2 577.5L500.9 571.6L501.5 576.5L502.2 572.7L502.8 577.7L503.5 571.3L504.1 576.2L504.8 571.9L505.4 576.4L506.1 572.6L506.7 578L507.4 571.8L508 577.4L508.7 572.4L509.3 577.2L510 571.7L510.6 576.7L511.3 571.9L511.9 576.4L512.6 571.9L513.2 576.3L513.9 572.4L514.5 577.9L515.2 571.9L515.8 577.1L516.5 572.8L517.1 577.8L517.8 572.1L518.4 578.1L519.1 571.6L519.7 578L520.4 572L521 577.6L521.7 572.7L522.3 575.9L523 571.2L523.6 576.9L524.3 570.9L524.9 576.3L525.6 571.9L526.2 577.1L526.9 571.3L527.5 576.9L528.2 571.7L528.8 577L529.5 570.6L530.1 577.1L530.8 571.6L531.4 577.1L532.1 571.7L532.7 576.4L533.4 570.7L534 576.6L534.7 571.1L535.3 576.2L536 571.5L536.6 576.4L537.3 571.4L537.9 576.6L538.6 572.2L539.2 576.3L539.9 571L540.5 576.8L541.2 572.4L541.8 576.5L542.5 571.7L543.1 576.2L543.8 571.1L544.4 577.2L545.1 571.6L545.7 577.2L546.4 572.7L547 577.8L547.7 571.2L548.3 576.4L549 572.2L549.6 577.5L550.3 573.1L550.9 577.2L551.6 572.9L552.2 577.6L552.9 572.6L553.5 576.5L554.2 572.5L554.8 576.6L555.5 572.4L556.1 577.5L556.8 572.6L557.4 577.8L558.1 572L558.7 576.6L559.4 573L560 578L560.7 572.8L561.3 577.1L562 572.3L562.6 578.8L563.3 573.6L563.9 577.5L564.6 571.8L565.2 576.5L565.9 573.1L566.5 577.8L567.2 571.7L567.8 576.7L568.5 572.5L569.1 577.4L569.8 572L570.4 577.1L571.1 570.9L571.7 577.6L572.4 572.2L573 576.2L573.7 572.2L574.3 576.1L575 572.5L575.6 576.7L576.3 570.7L576.9 576.4L577.6 572.6L578.2 577.3L578.9 572.3L579.5 576.1L580.2 573.1L580.8 578.1L581.5 573.4L582.1 577.6L582.8 572.6L583.4 577.6L584.1 572.3L584.7 576.7L585.4 573L586 576.6L586.7 572.5L587.3 576.3L588 572.5L588.6 577.4L589.3 572.4L589.9 576.2L590.6 572.3L591.2 578.1L591.9 571.7L592.5 577.2L593.2 573.4L593.8 577L594.5 573.1L595.1 576.6L595.8 571.4L596.4 577.9L597.1 572.4L597.7 577.2L598.4 571.8L599 577.2L599.7 571.8L600.3 577.5L601 571.9L601.6 576.1L602.3 571.6L602.9 577L603.6 573L604.2 576.7L604.9 572.6L605.5 577.8L606.2 572.7L606.8 577.5L607.5 572.8L608.1 578.4L608.8 573.9L609.4 577.7L610.1 574L610.7 578.2L611.4 574.7L612 578.4L612.7 574L613.3 578.5L614 573.7L614.6 578.6L615.3 574L615.9 578.1L616.6 573.3L617.2 578L617.9 572.8L618.5 578.9L619.2 572.8L619.8 578.5L620.5 573.6L621.1 577.9L621.8 572.3L622.4 578.2L623.1 573.2L623.7 577.5L624.4 573.7L625 577.8L625.7 573.2L626.3 578.5L627 573.7L627.6 577.6L628.3 573.5L628.9 577.4L629.6 572.8L630.2 578.4L630.9 573.4L631.5 577.3L632.2 572.6L632.8 577.8L633.5 573.5L634.1 577.8L634.8 571.7L635.4 577.9L636.1 571.8L636.7 578.1L637.4 573.3L638 578.4L638.7 572.6L639.3 577.1L640 573.3L640.6 578.9L641.3 572.7L641.9 577.5L642.6 572.5L643.2 578.3L643.9 574.2L644.5 578.6L645.2 573.3L645.8 578L646.5 573.9L647.1 578L647.8 574.2L648.4 579.1L649.1 574L649.7 579.2L650.4 573.4L651 578.9L651.7 574.5L652.3 578.6L653 573.1L653.6 578.9L654.3 574.5L654.9 578.3L655.6 573.3L656.2 577.9L656.9 573.4L657.5 578.7L658.2 573.3L658.8 578.8L659.5 572.1L660.1 578.7L660.8 572.5L661.4 577.3L662.1 574.3L662.7 577.7L663.4 573.1L664 577.7L664.7 573.8L665.3 578.8L666 573.6L666.6 578L667.3 573.6L667.9 579.5L668.6 573.2L669.2 579.7L669.9 574.3L670.5 578.9L671.2 573.4L671.8 577.3L672.5 572L673.1 575.6L673.8 568.5L674.4 571.4L675.1 564.1L675.7 565.4L676.4 556.1L677 557.5L677.7 549.3L678.3 550.9L679 543.1L679.5 547.3L679.6 543.1L680.3 549.7L680.9 545.8L681.6 554.6L682.2 554.4L682.9 564.2L683.5 561.7L684.2 570.7L684.8 568.2L685.5 575.8L686.1 572.2L686.8 578.1L687.4 572.8L688.1 578.7L688.7 574L689.4 579.2L690 574.1L690.7 578.4L691.3 574.2L692 579.2L692.6 574.1L693.3 578.6L693.9 573.7L694.6 578.9L695.2 573.9L695.9 578.1L696.5 574L697.2 579.1L697.8 573.9L698.5 578.7L699.1 572.6L699.8 577.2L700.4 573.4L701.1 577.9L701.7 573.5L702.4 579L703 573.5L703.7 579.5L704.3 573.3L705 578.5L705.6 574.7L706.3 579L706.9 574.2L707.6 578.3L708.2 573.3L708.9 579L709.5 574.3L710.2 578.7L710.8 573.5L711.5 579L712.1 573.9L712.8 578.7L713.4 574.2L714.1 579.1L714.7 572.5L715.4 577L716 572.5L716.7 578.8L717.3 572.3L718 578.4L718.6 573.5L719.3 579.1L719.9 573.5L720.6 578.7L721.2 572.6L721.9 578.1L722.5 572.1L723.2 578.8L723.8 573.2L724.5 578L725.1 572.6L725.8 578.2L726.4 572.2L727.1 577.3L727.7 573.4L728.4 577.7L729 573.3L729.7 577.9L730.3 573.6L731 577.5L731.6 573.5L732.3 577.7L732.9 573.6L733.6 577.8L734.2 572.3L734.9 578L735.5 573L736.2 579.2L736.8 573.5L737.5 578L738.1 573.3L738.8 579.2L739.4 574.3L740.1 579.4L740.7 573.9L741.4 578.8L742 573.5L742.7 578.8L743.3 574.6L744 578.4L744.6 574.5L745.3 579.6L745.9 573.6L746.6 579.9L747.2 574.4L747.9 579L748.5 573.7L749.2 577.8L749.8 573.6L750.5 578.8L751.1 573.8L751.8 578.3L752.4 573.8L753.1 577.4L753.7 573L754.4 577.7L755 574.1L755.7 579.1L756.3 572.4L757 577.4L757.6 572.8L758.3 577.1L758.9 572L759.6 577.4L760.2 572.2L760.9 578.3L761.5 573.8L762.2 577.1L762.8 573.2L763.5 577.4L764.1 572.4L764.8 578.9L765.4 573L766.1 577.7L766.7 574L767.4 577.5L768 573L768.7 577.1L769.3 573.2L770 578L770.6 572L771.3 577.9L771.9 571.8L772.6 578.1L773.2 572.6L773.9 577.3L774.5 573.3L775.2 578.1L775.8 572.7L776.5 578.4L777.1 572.9L777.8 578.6L778.4 572.6L779.1 578.2L779.7 572.8L780.4 578.5L781 574L781.7 578.6L782.3 573.9L783 578.1L783.6 572.9L784.3 578.3L784.9 573.5L785.6 578.3L786.2 572.4L786.9 577.6L787.5 572.9L788.2 577.9L788.8 572.7L789.5 579.1L790.1 573.2L790.8 577.2L791.4 572.6L792.1 578.4L792.7 574.1L793.4 579L794 574L794.7 578.2L795.3 574.3L796 579.1L796.6 574.4L797.3 578.3L797.9 575.1L798.6 578.9L799.2 573.6L799.9 579L800.5 574.7L801.2 579.8L801.8 574.1L802.5 580.2L803.1 573.6L803.8 579.6L804.4 573.7L805.1 579.1L805.7 572.5L806.4 577.4L807 573.5L807.7 578.6L808.3 573.7L809 577.3L809.6 573L810.3 577.2L810.9 574L811.6 577.2L812.2 572.7L812.9 577.5L813.5 572.7L814.2 578.7L814.8 573.7L815.5 577.9L816.1 573.6L816.8 577.7L817.4 572.6L818.1 578.2L818.7 574L819.4 578.8L820 572L820.7 578.6L821.3 573.2L822 577.7L822.6 572.4L823.3 577.1L823.9 572.9L824.6 577.4L825.2 572.3L825.9 577.4L826.5 572.8L827.2 577.6L827.8 572.6L828.5 578.3L829.1 574.4L829.8 578.5L830.4 573.5L831.1 578.9L831.7 573.8L832.4 580L833 574.9L833.7 579.7L834.3 574.6L835 580.2L835.6 574.8L836.3 579L836.9 574.1L837.6 578.9L838.2 575.3L838.9 580.4L839.5 574.9L840.2 579.8L840.8 574L841.5 579.3L842.1 573.8L842.8 578.8L843.4 573.4L844.1 579.6L844.7 574.1L845.4 580.1L846 574.2L846.7 579.4L847.3 574.5L848 579L848.6 574.2L849.3 580L849.9 573.1L850.6 578.4L851.2 572.7L851.9 578.7L852.5 573.8L853.2 578.3L853.8 572.8L854.5 576.9L855.1 570.2L855.8 575.4L856.4 569.3L857.1 572.5L857.7 564.9L858.4 569.2L859 562.2L859.7 566.3L860.3 560.1L860.8 564.5L861 560.9L861.6 566.1L862.3 562.4L862.9 567.9L863.6 564.9L864.2 571L864.9 567.9L865.5 573.8L866.2 570L866.8 576.5L867.5 571.9L868.1 578.5L868.8 573.6L869.4 578L870.1 574L870.7 578L871.4 573.5L872 578.8L872.7 573.7L873.3 578.7L874 572.8L874.6 578.2L875.3 572.6L875.9 578L876.6 572.9L877.2 579.6L877.9 574.1L878.5 579.8L879.2 573.6L879.8 579.4L880.5 574.3L881.1 580.1L881.8 573.7L882.4 580.1L883.1 573.5L883.7 579L884.4 574.9L885 578.1L885.7 574L886.3 577.8L887 573.3L887.6 577.4L888.3 573.8L888.9 577.8L889.6 572.1L890.2 577.6L890.9 573.4L891.5 578.3L892.2 571.9L892.8 578L893.5 574L894.1 578.7L894.8 574.1L895.4 579.5L896.1 573.2L896.7 579.6L897.4 575.1L898 578.9L898.7 575L899.3 579.9L900 575.1L900.6 579.1L901.3 573.8L901.9 580.3L902.6 574.8L903.2 578.7L903.9 573.9L904.5 578.6L905.2 573.9L905.8 577.8L906.5 573.8L907.1 579.3L907.8 573.3L908.4 578.9L909.1 573.4L909.7 577.8L910.4 574L911 579.1L911.7 573.8L912.3 578.1L913 573.3L913.6 578.3L914.3 573.8L914.9 577.3L915.6 573.2L916.2 578L916.9 573L917.5 579.3L918.2 574.2L918.8 578.2L919.5 574.3L920.1 578.3L920.8 574.1L921.4 578.8L922.1 574.3L922.7 578.8L923.4 573L924 579.4L924.7 574.2L925.3 578.2L926 573.3L926.6 578.1L927.3 573.9L927.9 578.6L928.6 572.6L929.2 578.3L929.9 574.2L930.5 578.8L931.2 574.3L931.8 577.6L932.5 573.4L933.1 578.6L933.8 572.8L934.4 578.2L935.1 574.2L935.7 578.3L936.4 573.2L937 579.3L937.7 574.6L938.3 577.9L939 572.5L939.6 578.7L940.3 573.9L940.9 578L941.6 574.1L942.2 577.4L942.9 572.6L943.5 578.9L944.2 573L944.8 578.6L945.5 574L946.1 577.5L946.8 572.8L947.4 578.3L948.1 572.9L948.7 577.5L949.4 572.5L950 577.8L950.7 573.2L951.3 579L952 574.4L952.6 578.8L953.3 573.8L953.9 580.3L954.6 574.2L955.2 579.4L955.9 574.5L956.5 579.8L957.2 575.9L957.8 579.4L958.5 574.7L959.1 580.2L959.8 574.9L960.4 579L961.1 575.6L961.7 580.1L962.4 575.6L963 580.4L963.7 574.2L964.3 580.4L965 574.7L965.6 578.8L966.3 574.4L966.9 580.4L967.6 575.1L968.2 580.3L968.9 574.5L969.5 580L970.2 574.2L970.8 578.8L971.5 574.3L972.1 578.3L972.8 574.6L973.4 578.6L974.1 573.6L974.7 578.7L975.4 573.4L976 579.5L976.7 573.7L977.3 579.7L978 574.5L978.6 578.7L979.3 574.7L979.9 579.3L980.6 575.4L981.2 578.9L981.9 573.5L982.5 580.2L983.2 574.8L983.8 578.8L984.5 575L985.1 579.7L985.8 573.8L986.4 578.6L987.1 574.2L987.7 580.3L988.4 573.3L989 579.5L989.7 574.3L990.3 579.9L991 575.7L991.6 579.1L992.3 573.6L992.9 578.4L993.6 574.5L994.2 579L994.9 573L995.5 578L996.2 573.2L996.8 579.1L997.5 572.6L998.1 577.2L998.8 572.7L999.4 577.3L1000.1 572.4L1000.7 578.8L1001.4 572.9L1002 578.6L1002.7 574.7L1003.3 578.4L1004 574.6L1004.6 579.1L1005.3 573L1005.9 578.6L1006.6 573.2L1007.2 578.2L1007.9 574.2L1008.5 578.8L1009.2 574.2L1009.8 578.1L1010.5 574.3L1011.1 578L1011.8 573.5L1012.4 578.6L1013.1 572.9L1013.7 579.3L1014.4 575L1015 578.7L1015.7 574.1L1016.3 580.1L1017 575.3L1017.6 579.4L1018.3 573.6L1018.9 580.1L1019.6 575.3L1020.2 579.7L1020.9 573.9L1021.5 579.7L1022.2 575.7L1022.8 579.4L1023.5 575.2L1024.1 579.2L1024.8 573.9L1025.4 580.3L1026.1 573.9L1026.7 580.5L1027.4 574.2L1028 579.9L1028.7 574.2L1029.3 579.6L1030 574.2L1030.6 579.2L1031.3 574.1L1031.9 579.5L1032.6 574L1033.2 579.5L1033.9 575.5L1034.5 580.2L1035.2 574.5L1035.8 580.4L1036.5 575.4L1037.1 580L1037.8 574.4L1038.4 580.7L1039.1 574.6L1039.7 579.7L1040.4 574.3L1041 579.9L1041.7 574.5L1042.3 580.5L1043 574.4L1043.6 578.7L1044.3 575.1L1044.9 580L1045.6 574.5L1046.2 580.1L1046.9 573.9L1047.5 579.9L1048.2 573.8L1048.8 580.4L1049.5 574.9L1050.1 580L1050.8 573.9L1051.4 578.9L1052.1 574.7L1052.7 579.6L1053.4 574.5L1054 580.1L1054.7 575.3L1055.3 578.6L1056 574.2L1056.6 579.2L1057.3 574.5L1057.9 578.6L1058.6 573.8L1059.2 579.7L1059.9 575.3L1060.5 579.9L1061.2 574.4L1061.8 579L1062.5 575.3L1063.1 578.5L1063.8 573.9L1064.4 578.7L1065.1 575L1065.7 579.7L1066.4 575.7L1067 580.3L1067.7 574.7L1068.3 579.7L1069 574.5L1069.6 578.8L1070.3 573.8L1070.9 580.2L1071.6 574.1L1072.2 580.3L1072.9 575.5L1073.5 580L1074.2 575.3L1074.8 579.3L1075.5 575.4L1076.1 580.3L1076.8 574.9L1077.4 579.1L1078.1 574.8L1078.7 579.6L1079.4 574.6L1080 579.3L1080.7 575.7L1081.3 579.5L1082 573.9L1082.6 579.9L1083.3 574.1L1083.9 579.6L1084.6 575.3L1085.2 579.7L1085.9 574.6L1086.5 578.8L1087.2 574.9L1087.8 580L1088.5 574.3L1089.1 579.7L1089.8 573.9L1090.4 579.6L1091.1 574.6L1091.7 580.1L1092.4 574.5L1093 579.9L1093.7 575.2L1094.3 579.4L1095 574.1L1095.6 580.1L1096.3 574.1L1096.9 579.1L1097.6 575.4L1098.2 580L1098.9 575.1L1099.5 580.1L1100.2 575.2L1100.8 578.2L1101.5 574.8L1102.1 578.4L1102.8 573.6L1103.4 577.8L1104.1 573.8L1104.7 578.4L1105.4 573.1L1106 578.6L1106.7 573.1L1107.3 577.3L1108 574.1L1108.6 578.5L1109.3 573.5L1109.9 577.4L1110.6 573.8L1111.2 577.7L1111.9 572.9L1112.5 578L1113.2 573.8L1113.8 579L1114.5 574.3L1115.1 580.4L1115.8 574.6L1116.4 579L1117.1 574.4L1117.7 579L1118.4 574.9L1119 579.4L1119.7 574.2L1120.3 577.9L1121 573.2L1121.6 578.3L1122.3 571.8L1122.9 576.6L1123.6 572.4L1124.2 575.1L1124.9 571.5L1125.5 576.6L1126.2 570.7L1126.8 575.5L1126.8 570.2L1127.5 575.4L1128.1 571.6L1128.8 576.7L1129.4 572L1130.1 576.3L1130.7 572.4L1131.4 577.2L1132 571.8L1132.7 577.5L1133.3 574.1L1134 578.2L1134.6 574.2L1135.3 578.3L1135.9 574.1L1136.6 579.9L1137.2 574.9L1137.9 579.8L1138.5 575L1139.2 580.1L1139.8 575.3L1140.5 579.6L1141.1 574.7L1141.8 580.1L1142.4 575L1143.1 581.1L1143.7 575.2L1144.4 580.3L1145 575L1145.7 580.4L1146.3 573.9L1147 578.6L1147.6 574L1148.3 579L1148.9 575.2L1149.6 580.1L1150.2 575.1L1150.9 579.6L1151.5 575.4L1152.2 578.6L1152.8 574.8L1153.5 579.5L1154.1 574.4L1154.8 579.1L1155.4 575.8L1156.1 580.7L1156.7 575.4L1157.4 580.1L1158 575.6L1158.7 580L1159.3 574.5L1160 580.4L1160.6 574.3L1161.3 579.8L1161.9 574.6L1162.6 579.6L1163.2 573.9L1163.9 579L1164.5 574L1165.2 578.6L1165.8 573.4L1166.5 579.4L1167.1 574.6L1167.8 578.6L1168.4 574.5L1169.1 578.5L1169.7 574.3L1170.4 579.5L1171 574.9L1171.7 579.9L1172.3 575.7L1173 580.4L1173.6 575.2L1174.3 579.1L1174.9 574.4L1175.6 579.3L1176.2 574.8L1176.9 580.5L1177.5 574.6L1178.2 581L1178.8 575.5L1179.5 580.2L1180.1 575.7L1180.8 579.9L1181.4 575.2L1182.1 579.7L1182.7 575.2L1183.4 580.6L1184 574.6L1184.7 580.4L1185.3 574.8L1186 579.4L1186.6 573.9L1187.3 579.3L1187.9 576L1188.6 579.5L1189.2 574.9L1189.9 580L1190.5 574.6L1191.2 580.3L1191.8 574.1L1192.5 579.2L1193.1 574.2L1193.8 579.2L1194.4 575.1L1195.1 580.7L1195.7 575.4L1196.4 580.4L1197 575.5L1197.7 579.3L1198.3 575.2L1199 579L1199.6 575.7L1200.3 579.8L1200.9 575.1L1201.6 580.4L1202.2 574.9L1202.9 579.4L1203.5 575.4L1204.2 580.5L1204.8 574.4L1205.5 579.9L1206.1 575L1206.8 579.4L1207.4 575.2L1208.1 578.5L1208.7 574.9L1209.4 578.8L1210 575.1L1210.7 579.5L1211.3 573.7L1212 578.5L1212.6 573.6L1213.3 578.3L1213.9 574.1L1214.6 578.7L1215.2 573.4L1215.9 579.3L1216.5 574.4L1217.2 578.7L1217.8 575.1L1218.5 578.7L1219.1 573.7L1219.8 580.3L1220.4 573.8L1221.1 580.3L1221.7 574.3L1222.4 580.6L1223 575L1223.7 579.5L1224.3 576L1225 579.6L1225.6 574.9L1226.3 580.3L1226.9 575.2L1227.6 579.3L1228.2 575.5L1228.9 580.4L1229.5 574L1230.2 579.7L1230.8 574.4L1231.5 579.7L1232.1 574.8L1232.8 578.7L1233.4 574.5L1234.1 579.7L1234.7 574.3L1235.4 578.8L1236 573.7L1236.7 580L1237.3 574.6L1238 579.5L1238.6 575.1L1239.3 580.3L1239.9 576.1L1240.6 580.9L1241.2 575.3L1241.9 580.8L1242.5 575.4L1243.2 580.6L1243.8 574.2L1244.5 580.4L1245.1 576.3L1245.8 579.8L1246.4 575.8L1247.1 580.3L1247.7 574.9L1248.4 580L1249 575.5L1249.7 579.3L1250.3 574.5L1251 580.2L1251.6 574.4L1252.3 580.9L1252.9 574.7L1253.6 580.8L1254.2 576.1L1254.9 580L1255.5 575.4L1256.2 579.8L1256.8 576.3L1257.5 581.1L1258.1 575.1L1258.8 579.7L1259.4 576.1L1260.1 580.5L1260.7 574.9L1261.4 579.4L1262 575.9L1262.7 579.5L1263.3 575.1L1264 581.3L1264.6 575L1265.3 579.5L1265.9 575.6L1266.6 580.1L1267.2 574.8L1267.9 579.3L1268.5 574.9L1269.2 579.5L1269.8 573.9L1270.5 579.2L1271.1 573.6L1271.8 577.3L1272.4 573.7L1272.6 577.8L1273.1 573.2L1273.7 578.6L1274.4 573.6L1275 578.8L1275.7 574L1276.3 579L1277 573.4L1277.6 579.8L1278.3 573.8L1278.9 579.9L1279.6 573.6L1280.2 578.9L1280.9 574.3L1281.5 578.8L1282.2 575.3L1282.8 580.2L1283.5 575.1L1284.1 579.2L1284.8 575.5L1285.4 580.4L1286.1 575.7L1286.7 580.2L1287.4 575.7L1288 580.9L1288.7 576L1289.3 580.7L1290 574.9L1290.6 581L1291.3 575.7L1291.9 581.2L1292.6 576L1293.2 580.1L1293.9 575.3L1294.5 581.2L1295.2 576.1L1295.8 580.1L1296.5 574.8L1297.1 579.9L1297.8 575.6L1298.4 579.7L1299.1 575.4L1299.7 580.6L1300.4 574.8L1301 580.3L1301.7 574.5L1302.3 580.6L1303 574.9L1303.6 580.8L1304.3 575.9L1304.9 579.3L1305.6 575.7L1306.2 579.9L1306.9 574.7L1307.5 580.8L1308.2 574.4L1308.8 581.1L1309.5 575.2L1310.1 579.9L1310.8 575.1L1311.4 579.3L1312.1 575.3L1312.7 580.4L1313.4 575.8L1314 579.8L1314.7 576.1L1315.3 579.7L1316 575.9L1316.6 580.3L1317.3 576.3L1317.9 580.6L1318.6 574.9L1319.2 580.9L1319.9 574.6L1320.5 578.7L1321.2 575L1321.8 580.1L1322.5 575.3L1323.1 579.2L1323.8 574.6L1324.4 580.1L1325.1 574.5L1325.7 578.7L1326.4 575.1L1327 580.5L1327.7 575.5L1328.3 580.4L1329 575.5L1329.6 579.5L1330.3 575.9L1330.9 580.4L1331.6 574.9L1332.2 580L1332.9 574.9L1333.5 579.6L1334.2 575.5L1334.8 580.1L1335.5 574.3L1336.1 579.4L1336.8 575.1L1337.4 578.7L1338.1 574.9L1338.7 579.9L1339.4 574.2L1340 579.3L1340.7 574L1341.3 579.2L1342 574.6L1342.6 579.5L1343.3 575L1343.9 579.8L1344.6 575.8L1345.2 579.7L1345.9 576.2L1346.5 580.5L1347.2 574.5L1347.8 580L1348.5 574.7L1349.1 580.6L1349.8 575.9L1350.4 579.7L1351.1 575.7L1351.7 581.1L1352.4 575.1L1353 581"/>
<path stroke="#000" d="M124.5 833.8L125.2 830L125.8 832.8L126.5 826.8L127.1 831L127.8 826.7L128.4 831.1L129.1 826.5L129.7 830.7L130.4 826.1L131 829.6L131.7 824.5L132.3 828.8L133 823.6L133.6 829L134.3 823L134.9 828.4L135.6 824.1L136.2 829.5L136.9 824.3L137.5 827.9L138.2 823.1L138.8 828.6L139.5 824.2L140.1 829.5L140.8 824L141.4 829L142.1 823.7L142.7 828.4L143.4 824.1L144 829L144.7 825L145.3 829.2L146 823.2L146.6 828.5L147.3 823.9L147.9 828.6L148.6 823.5L149.2 829.5L149.9 824.6L150.5 829.4L151.2 823.5L151.8 829.4L152.5 823.5L153.1 828.8L153.8 823.3L154.4 829.4L155.1 824.1L155.7 828.8L156.4 823.3L157 827.7L157.7 823.5L158.3 827.9L159 823.2L159.6 828.1L160.3 823L160.9 827.6L161.6 822.4L162.2 827.4L162.9 822.8L163.5 826.3L164.2 821.4L164.8 827.2L165.5 821.8L166.1 827.8L166.8 822.7L167.4 827.5L168.1 822.5L168.7 827.4L169.4 821.4L170 826.5L170.7 820.4L171.3 826.6L172 820.5L172.6 825.1L173.3 821.7L173.9 825.7L174.6 822.4L175.2 826.2L175.9 821.1L176.5 826.1L177.2 822.5L177.8 827.2L178.5 821.7L179.1 828.3L179.8 822.1L180.4 826.9L181.1 822.4L181.7 828L182.4 823.5L183 827.7L183.7 822.4L184.3 827.3L185 822L185.6 827.7L186.3 822L186.9 826.9L187.6 822.9L188.2 827.3L188.9 822.9L189.5 827.3L190.2 821.9L190.8 827.8L191.5 822.3L192.1 826L192.8 822.1L193.4 826.6L194.1 821.6L194.7 826.7L195.4 822L196 827.6L196.7 822.1L197.3 825.8L198 821.1L198.6 825.8L199.3 821.8L199.9 826.4L200.6 820.4L201.2 826.2L201.9 820.8L202.5 826.7L203.2 820.6L203.8 826.7L204.5 820.7L205.1 826.7L205.8 821.5L206.4 826.2L207.1 821.7L207.7 826L208.4 821.2L209 825.6L209.7 820.7L210.3 825.8L211 821.6L211.6 825.7L212.3 821L212.9 826L213.6 821.5L214.2 824.8L214.9 820.5L215.5 825.5L216.2 820.4L216.8 825.2L217.5 821.4L218.1 826.5L218.8 821.4L219.4 825.1L220.1 821.4L220.7 825.6L221.4 821.3L222 825.6L222.7 819.6L223.3 824.6L224 820.6L224.6 825.7L225.3 819.7L225.9 826.1L226.6 821L227.2 825.2L227.9 819.6L228.5 824.4L229.2 820.1L229.8 824.6L230.5 819.6L231.1 825.9L231.8 820.4L232.4 824.5L233.1 821.3L233.7 825.3L234.4 820.1L235 825.4L235.7 820.5L236.3 825.7L237 821.4L237.6 826.3L238.3 821.3L238.9 825.7L239.6 820.6L240.2 826.1L240.9 820.7L241.5 826.2L242.2 821.8L242.8 826.1L243.5 820.5L244.1 826.1L244.8 820L245.4 824.7L246.1 820.8L246.7 825.9L247.4 820L248 825.1L248.7 819.8L249.3 825.6L250 819.4L250.6 825L251.3 819.7L251.9 824.9L252.6 819.7L253.2 824.5L253.9 819L254.5 824.4L255.2 819L255.8 823L256.5 818.6L257.1 824.4L257.8 818.6L258.4 823.9L259.1 818.7L259.7 823.2L260.4 817.9L261 822.5L261.7 817.8L262.3 823.8L263 816.9L263.6 821.8L264.3 818.1L264.9 823L265.6 817.3L266.2 821.8L266.9 817.3L267.5 822.4L268.2 817.9L268.8 822.3L269.5 817.1L270.1 822.8L270.8 818.4L271.4 822.6L272.1 817.3L272.7 822L273.4 817.1L274 821.5L274.7 816.2L275.3 821.1L276 816.5L276.6 820.7L277.3 815.7L277.9 821.3L278.6 814.2L279.2 818.8L279.9 814L280.5 819.2L281.2 813.8L281.8 817.7L282.5 812.2L283.1 817.1L283.8 811.4L284.4 815.7L285.1 809.2L285.7 812.7L286.4 806.3L287 810L287.7 802.3L288.3 805.2L289 796.7L289.6 796.4L290.3 784.9L290.9 781.5L291.6 766.7L292.2 754.1L292.9 727.3L293.5 703.6L294.2 660.3L294.8 627.2L295.5 605.3L295.5 609.6L296.1 618.1L296.8 659.1L297.4 692.5L298.1 729.2L298.7 747.3L299.4 769.7L300 775.7L300.7 790.3L301.3 791.5L302 802L302.6 800.6L303.3 808.4L303.9 806.5L304.6 814.2L305.2 809.7L305.9 816L306.5 812.8L307.2 818.6L307.8 815.3L308.5 819.5L309.1 815.4L309.8 822.6L310.4 817.8L311.1 822.7L311.7 818.3L312.4 824.3L313 818.7L313.7 823.6L314.3 820.5L315 825.6L315.6 820.5L316.3 826.1L316.9 820.6L317.6 826.7L318.2 821.1L318.9 826.5L319.5 821.9L320.2 825.6L320.8 820.6L321.5 825.8L322.1 821.6L322.8 827.6L323.4 822.5L324.1 826.1L324.7 822.4L325.4 826.6L326 822L326.7 826.7L327.3 821L328 826.2L328.6 821.2L329.3 826.2L329.9 821.2L330.6 826.6L331.2 821.4L331.9 825.6L332.5 821.8L333.2 827.1L333.8 821.7L334.5 827.3L335.1 822.7L335.8 827.1L336.4 822.3L337.1 826.5L337.7 822L338.4 827.7L339 823.4L339.7 827.6L340.3 823L341 827.5L341.6 823.9L342.3 827.9L342.9 823.9L343.6 828.7L344.2 823.1L344.9 829.2L345.5 823.2L346.2 828.1L346.8 824.1L347.5 827.6L348.1 823.6L348.8 828.2L349.4 822.8L350.1 827.6L350.7 823.2L351.4 828.9L352 822.6L352.7 827.7L353.3 824.5L354 829.2L354.6 823.5L355.3 828.2L355.9 823.1L356.6 828.5L357.2 824.1L357.9 828.7L358.5 821.5L359.2 826.8L359.8 821.7L360.5 825.8L361.1 820.1L361.8 824L362.4 819L363.1 824.2L363.7 818.5L364 824.3L364.4 819.4L365 824.8L365.7 820.3L366.3 824.5L367 820.6L367.6 826.5L368.3 822.9L368.9 827L369.6 823L370.2 828.3L370.9 825.7L371.5 831L372.2 825L372.8 830.5L373.5 826.4L374.1 831.4L374.8 825.1L375.4 831.1L376.1 825.5L376.7 830.6L377.4 824.6L378 830.5L378.7 826L379.3 829L380 824.4L380.6 829.7L381.3 823.8L381.9 828.9L382.6 823L383.2 825.7L383.9 819.3L384.5 821.2L385.2 813.7L385.8 815.6L386.5 807L387.1 807.7L387.8 801L388.4 805.6L388.5 801.5L389.1 807.7L389.7 803.3L390.4 811.2L391 810.8L391.7 818.8L392.3 817.2L393 825.1L393.6 822.1L394.3 829.4L394.9 824.4L395.6 830.3L396.2 826.1L396.9 830.8L397.5 827.8L398.2 831L398.8 827.6L399.5 832.1L400.1 827L400.8 831.9L401.4 827L402.1 831.4L402.7 827.8L403.4 831.6L404 826.4L404.7 832L405.3 827.4L406 831.9L406.6 826.8L407.3 832.1L407.9 827.2L408.6 832.1L409.2 827.3L409.9 832.8L410.5 827.5L411.2 832.7L411.8 826.8L412.5 833.6L413.1 828.7L413.8 832.8L414.4 829.2L415.1 833.1L415.7 827.8L416.4 833.9L417 828.8L417.7 833L418.3 828.5L419 834.4L419.6 829.2L420.3 834.3L420.9 829.9L421.6 833.5L422.2 828.5L422.9 833.4L423.5 829.8L424.2 833.8L424.8 828.7L425.5 833.9L426.1 829.5L426.8 833.3L427.4 828.4L428.1 833.3L428.7 829.3L429.4 833.1L430 829.6L430.7 835.1L431.3 830.2L432 834.6L432.6 828.6L433.3 835.2L433.9 830.6L434.6 835.4L435.2 831.2L435.9 835.7L436.5 831L437.2 836.3L437.8 830.3L438.5 836.2L439.1 830.9L439.8 836.4L440.4 830.2L441.1 835.8L441.7 831.3L442.4 835.7L443 832L443.7 836.7L444.3 832.3L445 836.7L445.6 832.5L446.3 837.1L446.9 831.9L447.6 837.8L448.2 832.7L448.9 837.2L449.5 832.3L450.2 837.1L450.8 831.4L451.5 836L452.1 832.4L452.8 836L453.4 832.3L454.1 837L454.7 830.8L455.4 837.4L456 832.2L456.7 836L457.3 830.8L458 836.6L458.6 831.9L459.3 837.3L459.9 831.3L460.6 836.1L461.2 831.6L461.9 835.6L462.5 832L463.2 836.4L463.8 832.3L464.5 837.3L465.1 831.8L465.8 836.2L466.4 831.6L467.1 836.2L467.7 832.4L468.4 837.5L469 832.4L469.7 835.9L470.3 831.9L471 836.1L471.6 831.6L472.3 836.3L472.9 832.8L473.6 837.5L474.2 831.7L474.9 837.5L475.5 830.9L476.2 837.3L476.8 832.7L477.5 836.8L478.1 832.3L478.8 835.6L479.4 830.7L480.1 835.9L480.7 830.8L481.4 836.2L482 830.7L482.7 836.5L483.3 830.5L484 836.3L484.6 830.9L485.3 837.2L485.9 831.2L486.6 836.4L487.2 831.7L487.9 836.8L488.5 831.9L489.2 836.5L489.8 831.3L490.5 835.8L491.1 831.6L491.8 835.3L492.4 830.5L493.1 836.7L493.7 830.8L494.4 836.9L495 831.4L495.7 835.6L496.3 830.8L497 836.3L497.6 831.4L498.3 836.1L498.9 831.6L499.6 836.4L500.2 831.7L500.9 837.8L501.5 832.4L502.2 837.9L502.8 833.4L503.5 837.2L504.1 833L504.8 836.8L505.4 832.8L506.1 836.4L506.7 832.3L507.4 836L508 832.9L508.7 836.5L509.3 831.2L510 837.4L510.6 832.3L511.3 836.6L511.9 833.1L512.6 836.9L513.2 832.1L513.9 837.8L514.5 832.1L515.2 837.7L515.8 831.8L516.5 838.1L517.1 832.9L517.8 837.5L518.4 833L519.1 837.4L519.7 833.2L520.4 837.3L521 833.1L521.7 836.9L522.3 833L523 836.2L523.6 832.3L524.3 837.1L524.9 832.1L525.6 836.3L526.2 832.2L526.9 836.7L527.5 832.8L528.2 837.3L528.8 831.9L529.5 836.8L530.1 832L530.8 838.1L531.4 834L532.1 837.2L532.7 833.4L533.4 838.3L534 833.2L534.7 838.2L535.3 833.8L536 837.4L536.6 833.6L537.3 838.2L537.9 832.3L538.6 837.3L539.2 831.9L539.9 836.3L540.5 832.9L541.2 836.5L541.8 831.6L542.5 837.5L543.1 831.6L543.8 836L544.4 831.7L545.1 836.1L545.7 831.5L546.4 836.4L547 832.5L547.7 836L548.3 831L549 837.5L549.6 832.8L550.3 837.8L550.9 831.3L551.6 836.6L552.2 833L552.9 836.5L553.5 832.3L554.2 836.6L554.8 833L555.5 837L556.1 832.1L556.8 836.9L557.4 832.1L558.1 837.8L558.7 832.5L559.4 837.9L560 832.4L560.7 837.6L561.3 833.7L562 838.1L562.6 833.5L563.3 838L563.9 833.7L564.6 837.5L565.2 833.2L565.9 838.8L566.5 832.9L567.2 838.5L567.8 833.1L568.5 839.6L569.1 834.1L569.8 837.9L570.4 833.1L571.1 839.6L571.7 833.8L572.4 839.8L573 834L573.7 838.9L574.3 834.3L575 838.4L575.6 832.8L576.3 837.7L576.9 833.7L577.6 836.8L578.2 833.1L578.9 838.1L579.5 832.9L580.2 838.4L580.8 832.6L581.5 837.8L582.1 832.1L582.8 837.3L583.4 833.2L584.1 836.8L584.7 832.1L585.4 836.6L586 832.4L586.7 837.7L587.3 832.1L588 837L588.6 833.3L589.3 836.9L589.9 832.4L590.6 837.9L591.2 833.5L591.9 837.7L592.5 833.7L593.2 838.1L593.8 833.3L594.5 838.6L595.1 833.5L595.8 838.3L596.4 832.9L597.1 839.2L597.7 832.6L598.4 838.5L599 832.9L599.7 837.1L600.3 833.4L601 838.3L601.6 833.2L602.3 838.3L602.9 834.2L603.6 839L604.2 833.8L604.9 839.6L605.5 834.6L606.2 838.3L606.8 833.1L607.5 838.6L608.1 833.9L608.8 838.4L609.4 834.8L610.1 838.4L610.7 833.1L611.4 839.2L612 834.1L612.7 838.8L613.3 833L614 839.3L614.6 834.3L615.3 837.7L615.9 832.7L616.6 837.9L617.2 832.9L617.9 838.8L618.5 833L619.2 837.7L619.8 832.9L620.5 839.7L621.1 834L621.8 839.3L622.4 834.8L623.1 839.5L623.7 833.7L624.4 839.1L625 833.1L625.7 837.8L626.3 833.2L627 838.1L627.6 834.4L628.3 838.7L628.9 834.1L629.6 838.7L630.2 833.8L630.9 838.7L631.5 832.8L632.2 839L632.8 833.3L633.5 838L634.1 833.6L634.8 839L635.4 832.9L636.1 839L636.7 834L637.4 838.4L638 833.4L638.7 839.1L639.3 834.8L640 838.6L640.6 834.4L641.3 838.9L641.9 834.3L642.6 838.2L643.2 833.7L643.9 838.8L644.5 834L645.2 839.3L645.8 834.5L646.5 837.7L647.1 833.2L647.8 838.4L648.4 832.9L649.1 839.2L649.7 833.5L650.4 839L651 832.9L651.7 838L652.3 833.3L653 839.4L653.6 833.7L654.3 838.4L654.9 833.5L655.6 838.2L656.2 834.1L656.9 838.6L657.5 834.6L658.2 838.4L658.8 833.9L659.5 838.9L660.1 833.9L660.8 839.4L661.4 835.3L662.1 838.7L662.7 833.1L663.4 838.4L664 832.9L664.7 838.3L665.3 833.2L666 838.7L666.6 832.2L667.3 837.1L667.9 833.9L668.6 837.3L669.2 833.5L669.9 836.9L670.5 831.7L671.2 837.2L671.8 833L672.5 838.8L673.1 832.9L673.8 836.8L674.4 832L675.1 835.2L675.7 828.7L676.4 830.6L677 822.1L677.7 821L678.3 810L679 809.9L679.6 797L680.3 794.6L680.9 783.9L681.6 785.7L682.2 780L682.2 784.4L682.9 780.5L683.5 790.5L684.2 791.1L684.8 802.1L685.5 804.8L686.1 815.8L686.8 817L687.4 828L688.1 827L688.7 834.3L689.4 830.1L690 836.3L690.7 831.8L691.3 838.9L692 833.2L692.6 838L693.3 833.9L693.9 839.3L694.6 833.9L695.2 838.3L695.9 834L696.5 839L697.2 834.6L697.8 838.9L698.5 834.8L699.1 838.8L699.8 835.4L700.4 840.8L701.1 835.5L701.7 839.3L702.4 834.9L703 839.6L703.7 835.2L704.3 840.6L705 835.2L705.6 840.2L706.3 834.7L706.9 840.5L707.6 835L708.2 838.9L708.9 834.1L709.5 838.8L710.2 833.5L710.8 839.8L711.5 834.7L712.1 838.7L712.8 834L713.4 839.5L714.1 833.1L714.7 838.7L715.4 834.2L716 839.8L716.7 835.2L717.3 840.2L718 834L718.6 839L719.3 834.2L719.9 840L720.6 834.2L721.2 838.5L721.9 835.4L722.5 838.7L723.2 835.2L723.8 839.2L724.5 833.8L725.1 839L725.8 833.3L726.4 838.7L727.1 833.6L727.7 837.6L728.4 832.8L729 839.2L729.7 833.1L730.3 840L731 835.1L731.6 839L732.3 834.1L732.9 839.3L733.6 835.2L734.2 839.5L734.9 834.2L735.5 838.8L736.2 834.9L736.8 839.6L737.5 835.4L738.1 838.8L738.8 834.8L739.4 838.3L740.1 833.8L740.7 838.3L741.4 833.1L742 838.9L742.7 833.9L743.3 838.9L744 833.6L744.6 838.8L745.3 833.2L745.9 839.8L746.6 833.9L747.2 839.7L747.9 833.9L748.5 839L749.2 834.4L749.8 839.8L750.5 835.1L751.1 840.4L751.8 834.8L752.4 839.6L753.1 833.6L753.7 839.4L754.4 833.5L755 839.3L755.7 833.5L756.3 839.1L757 834L757.6 839.3L758.3 834.1L758.9 837.7L759.6 833.7L760.2 837.8L760.9 832.7L761.5 838.7L762.2 832.6L762.8 838.8L763.5 834.6L764.1 839.9L764.8 833.7L765.4 838.7L766.1 834.4L766.7 840.1L767.4 836L768 840.3L768.7 835.4L769.3 840.1L770 835.5L770.6 840.4L771.3 835.5L771.9 840.2L772.6 835L773.2 840.3L773.9 834.7L774.5 840.3L775.2 835.3L775.8 840L776.5 834.6L777.1 839.8L777.8 834.2L778.4 838.3L779.1 834.1L779.7 839.1L780.4 834L781 839.4L781.7 834.2L782.3 839.2L783 835.9L783.6 840.2L784.3 834.8L784.9 840.4L785.6 835.2L786.2 839.8L786.9 834.6L787.5 839.5L788.2 834.7L788.8 839.8L789.5 834.4L790.1 840L790.8 834.4L791.4 838.7L792.1 835L792.7 839.1L793.4 835.1L794 839.2L794.7 834.1L795.3 839.4L796 833.7L796.6 840.5L797.3 834.1L797.9 840.1L798.6 834.9L799.2 839.9L799.9 835.5L800.5 838.6L801.2 835.3L801.8 839L802.5 834.1L803.1 838.8L803.8 835.1L804.4 839.9L805.1 834.3L805.7 840.4L806.4 835.5L807 839.3L807.7 835.2L808.3 840.6L809 834.5L809.6 840.2L810.3 836L810.9 839.6L811.6 836.2L812.2 839.5L812.9 835L813.5 839.3L814.2 834.7L814.8 839.5L815.5 834.1L816.1 839.8L816.8 834.3L817.4 839.4L818.1 835.2L818.7 841.2L819.4 836.2L820 840.7L820.7 834.8L821.3 841L822 835.4L822.6 839.6L823.3 834.4L823.9 840.4L824.6 835.1L825.2 841L825.9 835.9L826.5 840.2L827.2 834.7L827.8 840.3L828.5 833.8L829.1 839.3L829.8 835.1L830.4 840.4L831.1 834L831.7 840.5L832.4 834.5L833 840.8L833.7 834.8L834.3 839.5L835 835.5L835.6 839.5L836.3 835.5L836.9 840.7L837.6 835.1L838.2 840.6L838.9 834.9L839.5 839.7L840.2 835.3L840.8 839.8L841.5 834.8L842.1 840.5L842.8 834.7L843.4 839.7L844.1 835.4L844.7 840.4L845.4 836.2L846 840.6L846.7 834.8L847.3 841.3L848 836.1L848.6 841.3L849.3 836.5L849.9 841.3L850.6 836.2L851.2 841.4L851.9 835.5L852.5 841.5L853.2 836.5L853.8 839.9L854.5 834.8L855.1 840.2L855.8 833.6L856.4 838.2L857.1 831.1L857.7 832.5L858.4 824.3L859 827.5L859.7 818.5L860.3 820.4L861 811.2L861.6 814.1L862.3 807L862.8 812L862.9 805.5L863.6 811.8L864.2 808.8L864.9 817.5L865.5 815.8L866.2 823.5L866.8 823.1L867.5 830.9L868.1 828.4L868.8 836.1L869.4 832.4L870.1 837.5L870.7 834.4L871.4 838.6L872 834.2L872.7 838.7L873.3 833.8L874 839.9L874.6 835.3L875.3 839.8L875.9 835L876.6 839.2L877.2 834.7L877.9 838.5L878.5 834.2L879.2 840.2L879.8 835.2L880.5 839L881.1 834.5L881.8 840.4L882.4 834.9L883.1 840.2L883.7 834.5L884.4 839.6L885 834.7L885.7 839.2L886.3 835L887 839.1L887.6 835.3L888.3 841.1L888.9 836.1L889.6 839.5L890.2 835.2L890.9 841.3L891.5 835.2L892.2 841.1L892.8 836.1L893.5 841.4L894.1 836.1L894.8 840.9L895.4 836.1L896.1 841.1L896.7 836.4L897.4 839.8L898 834.4L898.7 840.6L899.3 835.2L900 839.9L900.6 834.3L901.3 839.7L901.9 836.1L902.6 839.4L903.2 835L903.9 841.2L904.5 836L905.2 840.6L905.8 835.1L906.5 840.1L907.1 836.2L907.8 841.2L908.4 836.9L909.1 841.7L909.7 836.5L910.4 839.8L911 835L911.7 840.4L912.3 835.1L913 841.1L913.6 836.7L914.3 841.1L914.9 835.1L915.6 840.3L916.2 836.2L916.9 841.1L917.5 836.4L918.2 840.2L918.8 834.6L919.5 841.5L920.1 836.9L920.8 840.5L921.4 836.1L922.1 841.4L922.7 835.1L923.4 839.9L924 835.5L924.7 840.2L925.3 835.8L926 840.7L926.6 835.6L927.3 840.5L927.9 835.4L928.6 840.4L929.2 835.2L929.9 840.9L930.5 836.1L931.2 839.8L931.8 836.7L932.5 841.6L933.1 835.6L933.8 841.2L934.4 837L935.1 840.6L935.7 835.3L936.4 840.7L937 835.9L937.7 841.6L938.3 834.9L939 840.6L939.6 835.4L940.3 841L940.9 834.9L941.6 841.2L942.2 834.8L942.9 839.5L943.5 836.1L944.2 839.8L944.8 835.4L945.5 840.6L946.1 835L946.8 840.2L947.4 836.4L948.1 839.9L948.7 836.2L949.4 841.4L950 835.6L950.7 840.4L951.3 836L952 841.2L952.6 836.2L953.3 839.9L953.9 835.6L954.6 840.9L955.2 836.5L955.9 840.5L956.5 836.3L957.2 840.3L957.8 835.3L958.5 841.1L959.1 836.3L959.8 841.2L960.4 836.3L961.1 841L961.7 836.5L962.4 841.1L963 835.6L963.7 840.8L964.3 834.9L965 841.1L965.6 834.8L966.3 840.2L966.9 834.8L967.6 841.1L968.2 836.3L968.9 839.8L969.5 836.4L970.2 840.8L970.8 835.8L971.5 841.7L972.1 835.8L972.8 842.3L973.4 836.1L974.1 842.8L974.7 836.2L975.4 842.5L976 837.6L976.7 841.9L977.3 836.8L978 842.1L978.6 837.3L979.3 842.6L979.9 837.2L980.6 841.3L981.2 837.3L981.9 842.2L982.5 835.8L983.2 842.2L983.8 836.7L984.5 840.7L985.1 835.4L985.8 842L986.4 837.1L987.1 841.3L987.7 837.1L988.4 841.8L989 835.5L989.7 842.1L990.3 835.8L991 840.6L991.6 835.9L992.3 840.8L992.9 835.6L993.6 841.2L994.2 835.7L994.9 840.3L995.5 834.4L996.2 839.9L996.8 835.6L997.5 839.3L998.1 834.3L998.8 840.2L999.4 835.2L1000.1 840.9L1000.7 834.7L1001.4 839.9L1002 836.3L1002.7 841.5L1003.3 835.2L1004 840.8L1004.6 835.4L1005.3 839.8L1005.9 835.7L1006.6 839.9L1007.2 836.5L1007.9 839.9L1008.5 835.6L1009.2 840.9L1009.8 835.7L1010.5 841L1011.1 836.3L1011.8 840.2L1012.4 836.5L1013.1 840.5L1013.7 835.3L1014.4 840.3L1015 835.3L1015.7 840.9L1016.3 836.9L1017 840.8L1017.6 836L1018.3 840.4L1018.9 836.5L1019.6 841L1020.2 836.1L1020.9 841.4L1021.5 837.3L1022.2 840.5L1022.8 835.5L1023.5 841.3L1024.1 835.2L1024.8 841.6L1025.4 835.5L1026.1 841.6L1026.7 836.2L1027.4 840.7L1028 835.6L1028.7 841L1029.3 836.8L1030 841.6L1030.6 836.8L1031.3 842.1L1031.9 835.8L1032.6 842.1L1033.2 836.2L1033.9 841.9L1034.5 837.9L1035.2 842.1L1035.8 837L1036.5 841.3L1037.1 837.7L1037.8 841.2L1038.4 837.2L1039.1 841.1L1039.7 837.3L1040.4 841L1041 836.6L1041.7 841.5L1042.3 835.9L1043 840.5L1043.6 836L1044.3 841.6L1044.9 836.9L1045.6 841.2L1046.2 836.9L1046.9 840.4L1047.5 836L1048.2 842.3L1048.8 837.2L1049.5 842.6L1050.1 836.1L1050.8 842.2L1051.4 837.1L1052.1 840.7L1052.7 836L1053.4 842.1L1054 837.2L1054.7 841.2L1055.3 836.8L1056 841.9L1056.6 836.5L1057.3 840.4L1057.9 835.4L1058.6 840.5L1059.2 836.4L1059.9 839.8L1060.5 836.2L1061.2 840.2L1061.8 835.8L1062.5 840.4L1063.1 834.6L1063.8 839.9L1064.4 836.8L1065.1 841.1L1065.7 835.4L1066.4 841.1L1067 835.7L1067.7 840.2L1068.3 835.4L1069 839.5L1069.6 835.6L1070.3 841L1070.9 835.3L1071.6 841.6L1072.2 836.8L1072.9 841.2L1073.5 836.8L1074.2 840.5L1074.8 835.4L1075.5 840.2L1076.1 835.4L1076.8 842.1L1077.4 836.5L1078.1 841.4L1078.7 835.3L1079.4 841.4L1080 835.6L1080.7 841.3L1081.3 837L1082 841.6L1082.6 835.9L1083.3 841L1083.9 837L1084.6 841.3L1085.2 836.5L1085.9 841.4L1086.5 836.7L1087.2 841.6L1087.8 836.6L1088.5 842.8L1089.1 838L1089.8 842.2L1090.4 836.8L1091.1 841.2L1091.7 837.2L1092.4 842.6L1093 836.7L1093.7 841.8L1094.3 837.1L1095 840.7L1095.6 836.7L1096.3 842.2L1096.9 835.9L1097.6 841.9L1098.2 836.8L1098.9 841.2L1099.5 837.3L1100.2 840.9L1100.8 837.4L1101.5 840.8L1102.1 836.8L1102.8 842.1L1103.4 837L1104.1 842.5L1104.7 837.1L1105.4 842.6L1106 836.4L1106.7 841.7L1107.3 837.6L1108 841.7L1108.6 838L1109.3 842.5L1109.9 838.4L1110.6 842.1L1111.2 836.2L1111.9 841.9L1112.5 836.5L1113.2 841.3L1113.8 836.2L1114.5 842L1115.1 836.4L1115.8 842.2L1116.4 836.3L1117.1 841.3L1117.7 836.8L1118.4 841.7L1119 836.1L1119.7 840.8L1120.3 835.5L1121 840L1121.6 835.7L1122.3 841.3L1122.9 835L1123.6 839.5L1124.2 835L1124.9 840.5L1125.5 835.1L1126.2 837.8L1126.8 833.3L1127.5 839.1L1128.1 833.5L1128.8 838.7L1129.4 833.8L1130 838.4L1130.1 834.3L1130.7 838.3L1131.4 833.2L1132 839.2L1132.7 835.2L1133.3 838.6L1134 834.3L1134.6 839.9L1135.3 836.1L1135.9 840.1L1136.6 834.9L1137.2 840.6L1137.9 836.7L1138.5 840.6L1139.2 836.9L1139.8 842.3L1140.5 837L1141.1 841.6L1141.8 837.5L1142.4 841.4L1143.1 836.2L1143.7 842.6L1144.4 837.1L1145 841.4L1145.7 836.2L1146.3 841.8L1147 837.6L1147.6 841.3L1148.3 837.1L1148.9 842.9L1149.6 837.5L1150.2 842.8L1150.9 837.8L1151.5 842.6L1152.2 837.9L1152.8 842.4L1153.5 837.8L1154.1 841.8L1154.8 836.9L1155.4 841.4L1156.1 837.1L1156.7 841.8L1157.4 836.4L1158 841.6L1158.7 837.4L1159.3 842.2L1160 837.3L1160.6 842.4L1161.3 836.1L1161.9 841.9L1162.6 837L1163.2 840.9L1163.9 836.7L1164.5 841.7L1165.2 837.1L1165.8 841.8L1166.5 837.3L1167.1 842.5L1167.8 836.5L1168.4 843.2L1169.1 837.5L1169.7 841.9L1170.4 838L1171 842.7L1171.7 836.9L1172.3 843L1173 837.2L1173.6 843L1174.3 837.8L1174.9 842.8L1175.6 838L1176.2 842.3L1176.9 837.5L1177.5 842.3L1178.2 838.2L1178.8 841.2L1179.5 837.1L1180.1 842.1L1180.8 837.8L1181.4 843.2L1182.1 838.4L1182.7 843.1L1183.4 836.9L1184 841.7L1184.7 837L1185.3 842.9L1186 838.4L1186.6 843.3L1187.3 837.3L1187.9 842.2L1188.6 838.7L1189.2 842.6L1189.9 837.4L1190.5 842.3L1191.2 838.7L1191.8 842L1192.5 837.1L1193.1 842L1193.8 836.7L1194.4 841.5L1195.1 837.5L1195.7 841.4L1196.4 837.6L1197 841.3L1197.7 836.7L1198.3 841.1L1199 836.6L1199.6 842.1L1200.3 836.3L1200.9 840.7L1201.6 837.2L1202.2 842L1202.9 837.3L1203.5 841.2L1204.2 837.9L1204.8 841.6L1205.5 837L1206.1 842.4L1206.8 838.2L1207.4 842.1L1208.1 838.4L1208.7 843.8L1209.4 839.2L1210 842.2L1210.7 838.7L1211.3 842.9L1212 838.7L1212.6 842.6L1213.3 838.3L1213.9 842.6L1214.6 837.8L1215.2 843.3L1215.9 838L1216.5 842L1217.2 837.1L1217.8 841.9L1218.5 838.3L1219.1 841.5L1219.8 837.3L1220.4 843.3L1221.1 837.7L1221.7 842.1L1222.4 837.3L1223 842L1223.7 837.6L1224.3 843.8L1225 838.1L1225.6 842.1L1226.3 836.5L1226.9 841.6L1227.6 838L1228.2 842.7L1228.9 837.1L1229.5 841.3L1230.2 837.3L1230.8 841.6L1231.5 836L1232.1 842.9L1232.8 837.8L1233.4 842.6L1234.1 837.4L1234.7 841.7L1235.4 837.5L1236 841.8L1236.7 837.2L1237.3 843L1238 838L1238.6 841.5L1239.3 837.2L1239.9 843.7L1240.6 838.7L1241.2 843.6L1241.9 837.4L1242.5 842L1243.2 837.1L1243.8 843.1L1244.5 838L1245.1 842.9L1245.8 838.2L1246.4 842.9L1247.1 838.3L1247.7 842.7L1248.4 837.7L1249 843.7L1249.7 837.9L1250.3 843.8L1251 837.6L1251.6 843.1L1252.3 837.8L1252.9 842.3L1253.6 838.8L1254.2 842.5L1254.9 837.6L1255.5 844.2L1256.2 839.1L1256.8 844.1L1257.5 837.4L1258.1 842.3L1258.8 838L1259.4 842.7L1260.1 837.8L1260.7 843L1261.4 838.4L1262 843.3L1262.7 838.5L1263.3 843.6L1264 837.9L1264.6 842.2L1265.3 837.6L1265.9 842.4L1266.6 836.9L1267.2 843.5L1267.9 838.7L1268.5 843.2L1269.2 837.3L1269.8 842.4L1270.5 838.3L1271.1 843.4L1271.8 837.1L1272.4 842.4L1273.1 836.1L1273.7 840.7L1274.4 836.2L1275 839.7L1275.7 835.6L1276.3 840.7L1277 834.3L1277.6 838.8L1278.3 832.5L1278.9 838.1L1279 832.6L1279.6 837.8L1280.2 834.3L1280.9 838.4L1281.5 835.4L1282.2 839.5L1282.8 836.8L1283.5 840.4L1284.1 837.2L1284.8 841.9L1285.4 837.4L1286.1 843.1L1286.7 837.4L1287.4 842.9L1288 836.8L1288.7 842.8L1289.3 836.5L1290 841.8L1290.6 837.5L1291.3 841.2L1291.9 836.3L1292.6 841.8L1293.2 836.5L1293.9 843.1L1294.5 837.3L1295.2 841.8L1295.8 837.1L1296.5 842.1L1297.1 837.5L1297.8 842L1298.4 837.5L1299.1 842.2L1299.7 838.9L1300.4 843.2L1301 839.4L1301.7 842.8L1302.3 838.9L1303 842.7L1303.6 838.4L1304.3 843.8L1304.9 838.7L1305.6 843.9L1306.2 839L1306.9 843.6L1307.5 838.7L1308.2 844.5L1308.8 838.7L1309.5 844.6L1310.1 839.2L1310.8 843.7L1311.4 838.1L1312.1 842.6L1312.7 837.7L1313.4 843.8L1314 838.7L1314.7 843.1L1315.3 837.9L1316 842L1316.6 838.4L1317.3 841.9L1317.9 836.9L1318.6 843.4L1319.2 837.3L1319.9 841.8L1320.5 837.2L1321.2 842.3L1321.8 838L1322.5 842.1L1323.1 837.3L1323.8 842.6L1324.4 837.4L1325.1 841.9L1325.7 838.3L1326.4 842.9L1327 837.4L1327.7 842.9L1328.3 837.9L1329 843.1L1329.6 837.2L1330.3 843.7L1330.9 837.6L1331.6 843L1332.2 838.5L1332.9 844.2L1333.5 839L1334.2 843.6L1334.8 839.5L1335.5 843.8L1336.1 839.7L1336.8 844.8L1337.4 838.2L1338.1 843.7L1338.7 838.2L1339.4 844.1L1340 837.7L1340.7 843.5L1341.3 838.5L1342 842.9L1342.6 838L1343.3 842.5L1343.9 838.4L1344.6 841.2L1345.2 836.4L1345.9 841.6L1346.5 836.5L1347.2 841.9L1347.8 837.6L1348.5 842.1L1349.1 836.7L1349.8 841.3L1350.4 836.8L1351.1 842.3L1351.7 837.4L1352.4 842.4L1353 838.7"/>
<path stroke="#0000ff" d="M124.5 1067.1L125.2 1061.4L125.8 1058.4L126.5 1052.4L127.1 1055.8L127.8 1050.1L128.4 1054.5L129.1 1048.5L129.7 1052.3L130.4 1045.6L131 1050.1L131.7 1043.8L132.3 1048.3L133 1042.9L133.6 1049.4L134.3 1044L134.9 1049.3L135.6 1042.9L136.2 1048.1L136.9 1043.2L137.5 1048.5L138.2 1042.2L138.8 1048.3L139.5 1043.8L140.1 1048L140.8 1043.5L141.4 1048.3L142.1 1042.8L142.7 1048.1L143.4 1043.8L144 1048.3L144.7 1043L145.3 1048.8L146 1042.9L146.6 1047.7L147.3 1042.5L147.9 1047.9L148.6 1042.8L149.2 1047.8L149.9 1043.3L150.5 1047.6L151.2 1041.8L151.8 1046.5L152.5 1042.6L153.1 1047.3L153.8 1043.4L154.4 1047.3L155.1 1042.1L155.7 1048.1L156.4 1042.6L157 1047.5L157.7 1043.2L158.3 1047.7L159 1042.1L159.6 1047.6L160.3 1042.6L160.9 1046.9L161.6 1042.3L162.2 1047.4L162.9 1041.3L163.5 1045.7L164.2 1039.7L164.8 1046.2L165.5 1041L166.1 1045.5L166.8 1040.3L167.4 1044.8L168.1 1041.1L168.7 1046.5L169.4 1040.3L170 1045.4L170.7 1041.7L171.3 1046.7L172 1041.1L172.6 1045.9L173.3 1041.6L173.9 1045.7L174.6 1041.1L175.2 1046.3L175.9 1040.9L176.5 1045.6L177.2 1041.1L177.8 1045.9L178.5 1041L179.1 1045.4L179.8 1040.8L180.4 1045.8L181.1 1040.3L181.7 1044.6L182.4 1040.8L183 1044.2L183.7 1040.3L184.3 1044.6L185 1040.5L185.6 1044.7L186.3 1039.3L186.9 1044.6L187.6 1039.2L188.2 1045.2L188.9 1039.1L189.5 1043.1L190.2 1039.7L190.8 1044.1L191.5 1039.3L192.1 1044.4L192.8 1039.2L193.4 1043.9L194.1 1039L194.7 1043.7L195.4 1039.5L196 1043.5L196.7 1038.9L197.3 1044.5L198 1038.2L198.6 1044.4L199.3 1038.6L199.9 1043.2L200.6 1039.5L201.2 1043.9L201.9 1037.9L202.5 1043L203.2 1038.2L203.8 1043.8L204.5 1038.4L205.1 1043.9L205.8 1038.5L206.4 1043.6L207.1 1038.2L207.7 1043.3L208.4 1039.2L209 1043.9L209.7 1036.8L210.3 1043.1L211 1038.1L211.6 1043L212.3 1037.3L212.9 1041.7L213.6 1036.9L214.2 1041.6L214.9 1036.5L215.5 1041.4L216.2 1036.1L216.8 1041.3L217.5 1037L218.1 1042.5L218.8 1036L219.4 1042.2L220.1 1036.4L220.7 1041.3L221.4 1036L222 1041L222.7 1035.4L223.3 1041.5L224 1036.5L224.6 1041.7L225.3 1037.3L225.9 1041.8L226.6 1035.8L227.2 1040.9L227.9 1036.1L228.5 1042L229.2 1035.9L229.8 1041.8L230.5 1036.6L231.1 1041.1L231.8 1036.9L232.4 1041.2L233.1 1037.2L233.7 1042.6L234.4 1036L235 1041.5L235.7 1035.9L236.3 1042.4L237 1035.8L237.6 1040L238.3 1035.2L238.9 1039.6L239.6 1035.3L240.2 1041.2L240.9 1035L241.5 1040.9L242.2 1035.8L242.8 1040.2L243.5 1034.8L244.1 1039.7L244.8 1034.5L245.4 1038.7L246.1 1034.4L246.7 1037.8L247.4 1033.2L248 1039.3L248.7 1034.5L249.3 1038.5L250 1033.6L250.6 1039.3L251.3 1034.2L251.9 1038.8L252.6 1033.1L253.2 1038.8L253.9 1033.7L254.5 1039.6L255.2 1033.9L255.8 1039.7L256.5 1034.6L257.1 1039.6L257.8 1034.1L258.4 1039.9L259.1 1034.1L259.7 1039.6L260.4 1033.2L261 1038.2L261.7 1033.2L262.3 1038.6L263 1033.3L263.6 1038.3L264.3 1033.8L264.9 1037.6L265.6 1032.8L266.2 1037.8L266.9 1033.4L267.5 1038.5L268.2 1033.1L268.8 1038.7L269.5 1033L270.1 1038.7L270.8 1032.4L271.4 1038.5L272.1 1031.9L272.7 1036.9L273.4 1032.1L274 1037.7L274.7 1031.4L275.3 1036.7L276 1032.9L276.6 1037L277.3 1032.5L277.9 1037.1L278.6 1032.1L279.2 1036.9L279.9 1031.7L280.5 1036.4L281.2 1031.1L281.8 1036.7L282.5 1032.7L283.1 1035.6L283.8 1030.4L284.4 1034.9L285.1 1030.7L285.7 1035.4L286.4 1029L287 1033L287.7 1027.1L288.3 1031.1L289 1024.7L289.6 1027.8L290.3 1022.1L290.9 1023.7L291.6 1013.8L292.2 1012.6L292.9 997.9L293.5 986.1L294.2 961.3L294.8 939.3L295.5 905.5L296.1 885L296.8 863.4L297 867.5L297.4 866.3L298.1 888.9L298.7 911.5L299.4 945.9L300 964.5L300.7 990.2L301.3 998.2L302 1013.5L302.6 1014L303.3 1023.3L303.9 1020.8L304.6 1028.3L305.2 1024.2L305.9 1031L306.5 1025.8L307.2 1031.1L307.8 1027.9L308.5 1031.9L309.1 1028.3L309.8 1033.6L310.4 1028L311.1 1033.4L311.7 1027.3L312.4 1033.6L313 1027.6L313.7 1033.1L314.3 1027.7L315 1034L315.6 1028.2L316.3 1033.4L316.9 1026.9L317.6 1032.3L318.2 1028.5L318.9 1032.6L319.5 1026.7L320.2 1032.3L320.5 1028.1L320.8 1033.4L321.5 1027.9L322.1 1032.7L322.8 1029.2L323.4 1033.4L324.1 1027.8L324.7 1033.8L325.4 1028.7L326 1035.4L326.7 1030.8L327.3 1035.4L328 1031.1L328.6 1035.5L329.3 1029.9L329.9 1035.2L330.6 1030.3L331.2 1035.2L331.9 1030.9L332.5 1036.6L333.2 1031.2L333.8 1036L334.5 1031L335.1 1035.7L335.8 1031.9L336.4 1037L337.1 1031.6L337.7 1035.7L338.4 1031.6L339 1037.8L339.7 1033.1L340.3 1037.9L341 1033L341.6 1037.9L342.3 1031.8L342.9 1036.5L343.6 1032.9L344.2 1037.1L344.9 1032.3L345.5 1037.2L346.2 1032.5L346.8 1036.9L347.5 1033.2L348.1 1037.1L348.8 1032.4L349.4 1037L350.1 1033L350.7 1037.6L351.4 1033.2L352 1038L352.7 1033.1L353.3 1038.4L354 1033.7L354.6 1038.9L355.3 1032.8L355.9 1038.7L356.6 1033.1L357.2 1038.9L357.9 1032.6L358.5 1037.5L359.2 1032.9L359.8 1038.6L360.5 1033L361.1 1037.8L361.8 1034.4L362.4 1039.1L363.1 1034L363.7 1039.4L364.4 1034.3L365 1038.5L365.7 1033.7L366.3 1038.4L367 1033.3L367.6 1038.6L368.3 1034.9L368.9 1039L369.6 1034.4L370.2 1039.6L370.9 1034.9L371.5 1039.1L372.2 1034.3L372.8 1039.1L373.5 1035.4L374.1 1039.4L374.8 1035.3L375.4 1038.9L376.1 1034.2L376.7 1039.5L377.4 1036L378 1039.3L378.7 1034.7L379.3 1040.9L380 1035L380.6 1041L381.3 1036.1L381.9 1040.9L382.6 1035.6L383.2 1040.2L383.9 1034.9L384.5 1039.9L385.2 1033.1L385.8 1036.2L386.5 1029.3L387.1 1030L387.8 1022.6L388.4 1023.5L389.1 1015.9L389.7 1020.6L390.3 1015.3L390.4 1019.6L391 1015.8L391.7 1022.2L392.3 1019L393 1027.2L393.6 1026.4L394.3 1033.8L394.9 1031.4L395.6 1039.3L396.2 1036.2L396.9 1040.7L397.5 1037.7L398.2 1043.4L398.8 1037.6L399.5 1043.3L400.1 1037.3L400.8 1042.6L401.4 1037.7L402.1 1042.7L402.7 1038.8L403.4 1044.1L404 1037.9L404.7 1043.7L405.3 1039.4L406 1043.2L406.6 1037.7L407.3 1043.5L407.9 1039.3L408.6 1042.8L409.2 1038.4L409.9 1044.6L410.5 1039.5L411.2 1043.9L411.8 1038.8L412.5 1044.2L413.1 1040.1L413.8 1044.9L414.4 1040L415.1 1045.6L415.7 1040.2L416.4 1045.5L417 1040.2L417.7 1045.6L418.3 1039.5L419 1044.2L419.6 1039.1L420.3 1045.7L420.9 1040.4L421.6 1044.2L422.2 1040.2L422.9 1045.3L423.5 1040.5L424.2 1044.5L424.8 1040.5L425.5 1046L426.1 1040.3L426.8 1046.1L427.4 1040.8L428.1 1046.6L428.7 1041.7L429.4 1046.5L430 1042.2L430.7 1047L431.3 1041.9L432 1046.8L432.6 1041.1L433.3 1047.3L433.9 1042.1L434.6 1047.5L435.2 1042.8L435.9 1046.7L436.5 1042.4L437.2 1047.9L437.8 1043L438.5 1048.5L439.1 1042.3L439.8 1048L440.4 1044.1L441.1 1048.6L441.7 1044L442.4 1049.1L443 1044.8L443.7 1050L444.3 1044.7L445 1050L445.6 1044.1L446.3 1048.6L446.9 1043.7L447.6 1049.7L448.2 1043.9L448.9 1048.9L449.5 1044.5L450.2 1048L450.8 1044.5L451.5 1048.7L452.1 1043.7L452.8 1047.8L453.4 1044.2L454.1 1048.6L454.7 1044.4L455.4 1047.7L456 1043.2L456.7 1047.5L457.3 1043.3L458 1049L458.6 1044L459.3 1048.1L459.9 1043.9L460.6 1048.8L461.2 1043.2L461.9 1047.6L462.5 1042.7L463.2 1049.1L463.8 1042.8L464.5 1048.2L465.1 1043.1L465.8 1049.5L466.4 1044.8L467.1 1049.1L467.7 1044.7L468.4 1048.8L469 1045.3L469.7 1050L470.3 1044.3L471 1050.1L471.6 1045L472.3 1050.5L472.9 1044.3L473.6 1049.3L474.2 1044.4L474.9 1050L475.5 1044.3L476.2 1049.3L476.8 1043.8L477.5 1048.6L478.1 1044L478.8 1049.8L479.4 1044.4L480.1 1049.8L480.7 1044.7L481.4 1049.2L482 1045.3L482.7 1049.1L483.3 1045.3L484 1049.7L484.6 1043.6L485.3 1049.9L485.9 1045L486.6 1049.2L487.2 1043.6L487.9 1049.2L488.5 1044.4L489.2 1050.1L489.8 1045.4L490.5 1049.3L491.1 1045.3L491.8 1050.9L492.4 1044.4L493.1 1049.9L493.7 1045.3L494.4 1049.9L495 1045.2L495.7 1049.7L496.3 1046.1L497 1051.2L497.6 1046.5L498.3 1050.8L498.9 1045.7L499.6 1051L500.2 1044.3L500.9 1049.4L501.5 1043.8L502.2 1049.9L502.8 1045.3L503.5 1049.3L504.1 1044.1L504.8 1050.5L505.4 1045.5L506.1 1049.8L506.7 1045.1L507.4 1049.8L508 1045.1L508.7 1049.8L509.3 1044.2L510 1049.6L510.6 1044.6L511.3 1050.1L511.9 1044L512.6 1049L513.2 1045.1L513.9 1049.3L514.5 1045.2L515.2 1050.3L515.8 1045.3L516.5 1050.9L517.1 1046.5L517.8 1050.1L518.4 1046.4L519.1 1050L519.7 1045.6L520.4 1050.9L521 1045.8L521.7 1051.1L522.3 1045.8L523 1050.7L523.6 1046.4L524.3 1050.2L524.9 1046.4L525.6 1050.9L526.2 1045.4L526.9 1051.3L527.5 1044.9L528.2 1050.8L528.8 1046.6L529.5 1050.7L530.1 1046L530.8 1051.6L531.4 1046L532.1 1050.7L532.7 1047.3L533.4 1052.1L534 1047.8L534.7 1051.8L535.3 1047.1L536 1052.2L536.6 1047.3L537.3 1051.8L537.9 1046.5L538.6 1051.4L539.2 1046.6L539.9 1051.1L540.5 1045L541.2 1050.9L541.8 1044.8L542.5 1050.2L543.1 1045.2L543.8 1050.1L544.4 1045.9L545.1 1050.5L545.7 1046.1L546.4 1050.3L547 1045.7L547.7 1050L548.3 1046.5L549 1051.7L549.6 1045.8L550.3 1051.5L550.9 1046.2L551.6 1051.5L552.2 1047L552.9 1051.7L553.5 1046.7L554.2 1051.1L554.8 1046.4L555.5 1051.2L556.1 1047.5L556.8 1052.9L557.4 1047.5L558.1 1051.7L558.7 1047.5L559.4 1052.7L560 1047.5L560.7 1051.4L561.3 1047.2L562 1051.3L562.6 1046.8L563.3 1051.4L563.9 1045.8L564.6 1051.2L565.2 1045.7L565.9 1050.1L566.5 1045.7L567.2 1051.6L567.8 1046.6L568.5 1051L569.1 1047.1L569.8 1050.8L570.4 1046.3L571.1 1051.6L571.7 1045.8L572.4 1051.8L573 1045.7L573.7 1052.4L574.3 1047.6L575 1052.4L575.6 1046.5L576.3 1051.2L576.9 1047.6L577.6 1051.6L578.2 1046.7L578.9 1051.8L579.5 1046.9L580.2 1051.8L580.8 1046.6L581.5 1051.7L582.1 1047.5L582.8 1052.5L583.4 1046.8L584.1 1051L584.7 1047.6L585.4 1052.8L586 1046.1L586.7 1051.8L587.3 1047.2L588 1051.8L588.6 1047.4L589.3 1052.1L589.9 1047.1L590.6 1051.4L591.2 1046.3L591.9 1051.7L592.5 1048.2L593.2 1052.3L593.8 1047.5L594.5 1052.8L595.1 1048.1L595.8 1052.6L596.4 1048.4L597.1 1053.1L597.7 1048.2L598.4 1053.3L599 1048L599.7 1052.4L600.3 1047.3L601 1053L601.6 1047.8L602.3 1052.8L602.9 1047.5L603.6 1052.6L604.2 1048.4L604.9 1054.3L605.5 1049.1L606.2 1052.8L606.8 1048.5L607.5 1054.2L608.1 1048.1L608.8 1053.7L609.4 1049.4L610.1 1053L610.7 1049.7L611.4 1053.4L612 1048.9L612.7 1054.2L613.3 1048.5L614 1053L614.6 1047.9L615.3 1054.2L615.9 1048.4L616.6 1054.2L617.2 1047.8L617.9 1053.5L618.5 1048.2L619.2 1053.6L619.8 1049.1L620.5 1054.4L621.1 1049.2L621.8 1053.1L622.4 1047.4L623.1 1053.1L623.7 1048.1L624.4 1053.2L625 1048.1L625.7 1052.8L626.3 1047.9L627 1052.2L627.6 1048.2L628.3 1053.3L628.9 1048.6L629.6 1053.9L630.2 1048.2L630.9 1054.1L631.5 1047.9L632.2 1053.5L632.8 1047.7L633.5 1052.7L634.1 1048.1L634.8 1053.5L635.4 1047.6L636.1 1052.3L636.7 1048.6L637.4 1053.7L638 1047.2L638.7 1052.6L639.3 1047.3L640 1052.2L640.6 1048.1L641.3 1053.7L641.9 1048.3L642.6 1052.9L643.2 1047.4L643.9 1053.6L644.5 1047.6L645.2 1052.6L645.8 1048.5L646.5 1054.4L647.1 1048.7L647.8 1053.6L648.4 1048.1L649.1 1053.7L649.7 1048.7L650.4 1053.4L651 1048.6L651.7 1054.4L652.3 1048.8L653 1053.9L653.6 1049.2L654.3 1053.9L654.9 1047.9L655.6 1052.8L656.2 1047.1L656.9 1053.3L657.5 1046.6L658.2 1053.1L658.8 1046.9L659.5 1052.1L660.1 1046.9L660.8 1053.2L661.4 1047.7L662.1 1052.5L662.7 1047.2L663.4 1052.7L664 1047.2L664.7 1051.8L665.3 1047.5L666 1052.1L666.6 1047.3L667.3 1052.4L667.9 1047L668.6 1052.3L669.2 1048.2L669.9 1052.6L670.5 1048.4L671.2 1053L671.8 1047.6L672.5 1053.3L673.1 1047.9L673.8 1051.8L674.4 1046.3L675.1 1052.3L675.7 1044.4L676.4 1046.7L677 1039.7L677.7 1040.5L678.3 1032L679 1032.2L679.6 1023.5L680.3 1023.3L680.9 1014.9L681.6 1017.3L682 1013.1L682.2 1017.5L682.9 1013.2L683.5 1022.3L684.2 1020L684.8 1029.3L685.5 1030.2L686.1 1038.3L686.8 1039L687.4 1047L688.1 1044.3L688.7 1050.2L689.4 1047.1L690 1052.5L690.7 1047.4L691.3 1053.1L692 1047.9L692.6 1052.7L693.3 1049.4L693.9 1052.8L694.6 1049.5L695.2 1052.9L695.9 1048.3L696.5 1054.5L697.2 1048.5L697.8 1053.8L698.5 1049.4L699.1 1054.7L699.8 1050.1L700.4 1054.3L701.1 1049.3L701.7 1054.4L702.4 1049.4L703 1053.6L703.7 1048.7L704.3 1053.7L705 1049.6L705.6 1054.5L706.3 1049.6L706.9 1054.7L707.6 1049.1L708.2 1054.3L708.9 1048.5L709.5 1052.9L710.2 1049.5L710.8 1053.7L711.5 1048.3L712.1 1053.1L712.8 1048.4L713.4 1053.5L714.1 1049.3L714.7 1053.1L715.4 1049.7L716 1054.3L716.7 1048.7L717.3 1053.4L718 1048.5L718.6 1054.1L719.3 1049.1L719.9 1054.1L720.6 1049.6L721.2 1054.6L721.9 1048.1L722.5 1053.3L723.2 1049.3L723.8 1053.2L724.5 1049.2L725.1 1053.8L725.8 1048L726.4 1054.2L727.1 1047.9L727.7 1054.4L728.4 1049.5L729 1054.3L729.7 1048.7L730.3 1053.3L731 1049.2L731.6 1054.4L732.3 1049.5L732.9 1054.4L733.6 1047.8L734.2 1054.3L734.9 1049.4L735.5 1053L736.2 1048.6L736.8 1052.3L737.5 1047.8L738.1 1052.8L738.8 1047.5L739.4 1053.1L740.1 1047.9L740.7 1053.2L741.4 1047.2L742 1054L742.7 1049L743.3 1052.6L744 1047.1L744.6 1053.6L745.3 1049.1L745.9 1054.3L746.6 1047.9L747.2 1054.1L747.9 1049.2L748.5 1054.1L749.2 1049.7L749.8 1053.9L750.5 1048.9L751.1 1054.5L751.8 1049.4L752.4 1054L753.1 1049.4L753.7 1053.7L754.4 1049.7L755 1054.3L755.7 1048.9L756.3 1053.7L757 1050.4L757.6 1055.5L758.3 1049.5L758.9 1054.2L759.6 1050L760.2 1054.3L760.9 1049.5L761.5 1055.2L762.2 1050.1L762.8 1055.5L763.5 1050.5L764.1 1054.1L764.8 1049.8L765.4 1054.7L766.1 1049.8L766.7 1055.4L767.4 1049.8L768 1053.8L768.7 1048.5L769.3 1054L770 1048.6L770.6 1053.7L771.3 1048.9L771.9 1054.5L772.6 1049.3L773.2 1054.2L773.9 1049.7L774.5 1054.6L775.2 1049.6L775.8 1054L776.5 1049.6L777.1 1054.2L777.8 1049.3L778.4 1054L779.1 1050.2L779.7 1054.1L780.4 1050.1L781 1054.3L781.7 1050L782.3 1054.5L783 1049.1L783.6 1055.3L784.3 1050.3L784.9 1055.7L785.6 1049.1L786.2 1053.9L786.9 1049.3L787.5 1055.3L788.2 1050.4L788.8 1053.4L789.5 1049.7L790.1 1054.7L790.8 1049.2L791.4 1053.4L792.1 1049.9L792.7 1053.5L793.4 1049.6L794 1053.9L794.7 1049.4L795.3 1055.1L796 1049.2L796.6 1054L797.3 1049.2L797.9 1054.3L798.6 1048.6L799.2 1054.3L799.9 1048.6L800.5 1054.6L801.2 1048.9L801.8 1054.3L802.5 1048.7L803.1 1054.1L803.8 1049.8L804.4 1054L805.1 1049.6L805.7 1054.5L806.4 1049.4L807 1054.3L807.7 1049L808.3 1053.8L809 1048.6L809.6 1055.1L810.3 1049.3L810.9 1054.6L811.6 1049.3L812.2 1053.6L812.9 1049.7L813.5 1054.7L814.2 1050.2L814.8 1054L815.5 1048.9L816.1 1055.8L816.8 1050.2L817.4 1053.9L818.1 1049.1L818.7 1055.3L819.4 1049.4L820 1054.9L820.7 1049.7L821.3 1054.7L822 1050L822.6 1054.8L823.3 1049L823.9 1054L824.6 1048.5L825.2 1053.4L825.9 1048.6L826.5 1052.5L827.2 1048.1L827.8 1054L828.5 1047.8L829.1 1052.9L829.8 1047.9L830.4 1054.1L831.1 1049.3L831.7 1053.5L832.4 1049L833 1054.3L833.7 1050.1L834.3 1054.2L835 1049.4L835.6 1055.1L836.3 1049.6L836.9 1055.3L837.6 1049.9L838.2 1054.7L838.9 1049.9L839.5 1054.8L840.2 1048.6L840.8 1054.8L841.5 1049.2L842.1 1054.4L842.8 1048.6L843.4 1054.5L844.1 1048.4L844.7 1053.5L845.4 1049.1L846 1054L846.7 1050.1L847.3 1054L848 1049.4L848.6 1054.1L849.3 1050.7L849.9 1055.3L850.6 1050.1L851.2 1054.8L851.9 1050.8L852.5 1054.1L853.2 1050.3L853.8 1055.3L854.5 1049.9L855.1 1053.9L855.8 1048.3L856.4 1051.3L857.1 1045.3L857.7 1048.1L858.4 1042L859 1044.4L859.7 1038.4L860.3 1040.3L861 1035.7L861.6 1039.6L861.8 1034.1L862.3 1039.7L862.9 1034.8L863.6 1042.4L864.2 1038.1L864.9 1044.9L865.5 1041.6L866.2 1048.2L866.8 1045.7L867.5 1051.3L868.1 1047.5L868.8 1052.6L869.4 1049.4L870.1 1055L870.7 1050.1L871.4 1055L872 1049.1L872.7 1054.2L873.3 1050.6L874 1055.3L874.6 1050.7L875.3 1053.9L875.9 1048.9L876.6 1054L877.2 1049.5L877.9 1053.6L878.5 1049.4L879.2 1054.5L879.8 1048.8L880.5 1053.9L881.1 1049.4L881.8 1052.9L882.4 1048.4L883.1 1054.7L883.7 1049.5L884.4 1053.8L885 1048.7L885.7 1054.4L886.3 1049.2L887 1054.5L887.6 1049.3L888.3 1054.9L888.9 1050.2L889.6 1055.5L890.2 1049.1L890.9 1054.9L891.5 1050.5L892.2 1054.4L892.8 1049.5L893.5 1055.7L894.1 1051.2L894.8 1055.2L895.4 1050.9L896.1 1055.6L896.7 1051.3L897.4 1055.1L898 1050.6L898.7 1055L899.3 1051.4L900 1055.6L900.6 1050.2L901.3 1055.9L901.9 1050.3L902.6 1055.9L903.2 1050.2L903.9 1056.8L904.5 1050.2L905.2 1056.2L905.8 1050.6L906.5 1055.1L907.1 1050.5L907.8 1054.7L908.4 1050.7L909.1 1054.3L909.7 1050.2L910.4 1055.6L911 1050.2L911.7 1055.4L912.3 1050.7L913 1054.5L913.6 1049.7L914.3 1053.9L914.9 1049L915.6 1054.2L916.2 1050.1L916.9 1055.5L917.5 1049L918.2 1055L918.8 1049.8L919.5 1054.8L920.1 1049.7L920.8 1053.8L921.4 1048.9L922.1 1054.5L922.7 1049.9L923.4 1054.9L924 1049.8L924.7 1054.5L925.3 1049.2L926 1052.9L926.6 1047.9L927.3 1053.8L927.9 1048.5L928.6 1053.9L929.2 1049.7L929.9 1053.6L930.5 1049.3L931.2 1055.2L931.8 1049.9L932.5 1054.6L933.1 1050.8L933.8 1054.8L934.4 1050.3L935.1 1055.1L935.7 1050.3L936.4 1056.3L937 1051.1L937.7 1055L938.3 1050.4L939 1056.2L939.6 1050.6L940.3 1054.9L940.9 1050.2L941.6 1055.1L942.2 1050.3L942.9 1056.2L943.5 1051.5L944.2 1055.7L944.8 1049.6L945.5 1055.6L946.1 1050.2L946.8 1054.6L947.4 1049.5L948.1 1054.4L948.7 1049.5L949.4 1055.9L950 1049.7L950.7 1054.3L951.3 1049.6L952 1056L952.6 1049.9L953.3 1055.3L953.9 1051.5L954.6 1055.1L955.2 1050.2L955.9 1056L956.5 1051L957.2 1054.7L957.8 1050.6L958.5 1054.7L959.1 1050.3L959.8 1055.4L960.4 1049.6L961.1 1054.5L961.7 1050.2L962.4 1054L963 1049.6L963.7 1053.7L964.3 1050.4L965 1054.3L965.6 1050.4L966.3 1054.2L966.9 1050.5L967.6 1055L968.2 1050.3L968.9 1053.9L969.5 1048.6L970.2 1053.7L970.8 1049.2L971.5 1054.6L972.1 1048.2L972.8 1054.2L973.4 1049.8L974.1 1054.7L974.7 1048.5L975.4 1054L976 1048.6L976.7 1055.1L977.3 1050.8L978 1055.8L978.6 1050.7L979.3 1054.8L979.9 1049.7L980.6 1056.1L981.2 1050.9L981.9 1055.2L982.5 1049.9L983.2 1055.9L983.8 1049.8L984.5 1055.5L985.1 1050L985.8 1055.7L986.4 1051L987.1 1056.2L987.7 1050.6L988.4 1054.6L989 1051.2L989.7 1055.9L990.3 1050.9L991 1055L991.6 1051.3L992.3 1056.3L992.9 1050.4L993.6 1055.4L994.2 1050.7L994.9 1055.3L995.5 1051L996.2 1055.1L996.8 1049.9L997.5 1056L998.1 1050.6L998.8 1054L999.4 1050.6L1000.1 1055.3L1000.7 1050.4L1001.4 1054.7L1002 1050.9L1002.7 1055.2L1003.3 1051.3L1004 1055.5L1004.6 1051.8L1005.3 1056.1L1005.9 1051L1006.6 1056.7L1007.2 1050.4L1007.9 1055.2L1008.5 1051.9L1009.2 1055.5L1009.8 1051.6L1010.5 1055.6L1011.1 1052.1L1011.8 1055.7L1012.4 1051.7L1013.1 1056.7L1013.7 1050.7L1014.4 1055.8L1015 1051L1015.7 1056.1L1016.3 1051.6L1017 1056.5L1017.6 1049.9L1018.3 1054.7L1018.9 1051.3L1019.6 1055.4L1020.2 1050.4L1020.9 1055.5L1021.5 1050.1L1022.2 1056.1L1022.8 1051.5L1023.5 1056.1L1024.1 1051.6L1024.8 1056.8L1025.4 1050.4L1026.1 1055.9L1026.7 1050.7L1027.4 1056L1028 1051.6L1028.7 1055.8L1029.3 1051.3L1030 1055.2L1030.6 1050.6L1031.3 1055.8L1031.9 1050.9L1032.6 1055.1L1033.2 1050.7L1033.9 1055.6L1034.5 1051.5L1035.2 1055.9L1035.8 1051.4L1036.5 1056.2L1037.1 1050.4L1037.8 1056.6L1038.4 1052L1039.1 1056.7L1039.7 1051.1L1040.4 1055.1L1041 1052L1041.7 1055.3L1042.3 1051.5L1043 1055.5L1043.6 1051L1044.3 1055.8L1044.9 1051L1045.6 1056.3L1046.2 1050.2L1046.9 1056.2L1047.5 1050.5L1048.2 1055.6L1048.8 1050.7L1049.5 1055.3L1050.1 1051.1L1050.8 1055.4L1051.4 1050.2L1052.1 1056.7L1052.7 1051.3L1053.4 1055.9L1054 1050.6L1054.7 1056.4L1055.3 1051.1L1056 1056.2L1056.6 1050.6L1057.3 1055.7L1057.9 1051.8L1058.6 1056.3L1059.2 1050L1059.9 1054.9L1060.5 1050.8L1061.2 1055.6L1061.8 1051.3L1062.5 1056.4L1063.1 1051.5L1063.8 1056L1064.4 1050.3L1065.1 1056.2L1065.7 1051.6L1066.4 1055.6L1067 1052L1067.7 1055.8L1068.3 1050.5L1069 1055.4L1069.6 1051.6L1070.3 1056.2L1070.9 1051.5L1071.6 1055.8L1072.2 1051.1L1072.9 1055.3L1073.5 1050.5L1074.2 1055.6L1074.8 1050.4L1075.5 1055.9L1076.1 1050.5L1076.8 1055.2L1077.4 1050L1078.1 1055.2L1078.7 1050.4L1079.4 1055.6L1080 1051L1080.7 1056.2L1081.3 1051.5L1082 1056.6L1082.6 1050.9L1083.3 1055.7L1083.9 1051L1084.6 1057.2L1085.2 1051.6L1085.9 1056.8L1086.5 1052.3L1087.2 1056.3L1087.8 1050.6L1088.5 1055.6L1089.1 1051.9L1089.8 1057L1090.4 1051.9L1091.1 1055.7L1091.7 1051.7L1092.4 1057L1093 1050.9L1093.7 1057.2L1094.3 1052.3L1095 1056.1L1095.6 1051.2L1096.3 1057.6L1096.9 1051.8L1097.6 1055.4L1098.2 1051.5L1098.9 1057.1L1099.5 1051.8L1100.2 1057.2L1100.8 1052.2L1101.5 1056.6L1102.1 1052.2L1102.8 1057L1103.4 1051.3L1104.1 1056.6L1104.7 1052L1105.4 1056.1L1106 1051.8L1106.7 1056.1L1107.3 1051.5L1108 1056.6L1108.6 1051.4L1109.3 1055.3L1109.9 1051.1L1110.6 1055.2L1111.2 1052L1111.9 1056.3L1112.5 1051.3L1113.2 1055.6L1113.8 1052.5L1114.5 1057.1L1115.1 1051.5L1115.8 1056.4L1116.4 1051.2L1117.1 1056.1L1117.7 1051.6L1118.4 1056.4L1119 1051.5L1119.7 1057.1L1120.3 1052.5L1121 1056.6L1121.6 1052.3L1122.3 1055.9L1122.9 1050.5L1123.6 1055.3L1124.2 1049.7L1124.9 1053.3L1125.5 1047.4L1126.2 1052L1126.8 1047.4L1127.5 1051.7L1128.1 1045.8L1128.8 1050.5L1129.4 1046.1L1130 1051.5L1130.1 1045.9L1130.7 1050L1131.4 1046.5L1132 1052.1L1132.7 1047.7L1133.3 1052.3L1134 1048.9L1134.6 1054.1L1135.3 1049.4L1135.9 1055.1L1136.6 1049.4L1137.2 1055.1L1137.9 1051.1L1138.5 1054.9L1139.2 1050.4L1139.8 1055.7L1140.5 1050.9L1141.1 1055L1141.8 1051.3L1142.4 1055.6L1143.1 1050.7L1143.7 1057L1144.4 1051.4L1145 1057.1L1145.7 1050.9L1146.3 1057.1L1147 1051.5L1147.6 1057.2L1148.3 1052.2L1148.9 1057.2L1149.6 1053L1150.2 1056.7L1150.9 1052.1L1151.5 1056.7L1152.2 1052.8L1152.8 1058.3L1153.5 1052.7L1154.1 1057.7L1154.8 1052.7L1155.4 1057.1L1156.1 1051.8L1156.7 1057.8L1157.4 1053.1L1158 1057.8L1158.7 1053.2L1159.3 1056.9L1160 1052.9L1160.6 1058.1L1161.3 1052.8L1161.9 1057.8L1162.6 1052.2L1163.2 1057.4L1163.9 1052.3L1164.5 1056.9L1165.2 1051L1165.8 1057.4L1166.5 1052.8L1167.1 1057.5L1167.8 1051.4L1168.4 1057.7L1169.1 1051.8L1169.7 1056.2L1170.4 1051.7L1171 1056.9L1171.7 1052.6L1172.3 1057L1173 1051.6L1173.6 1057.1L1174.3 1053.2L1174.9 1057.9L1175.6 1052.2L1176.2 1058.2L1176.9 1052.1L1177.5 1058.4L1178.2 1051.8L1178.8 1058.4L1179.5 1052L1180.1 1057.6L1180.8 1052.2L1181.4 1057.2L1182.1 1052.4L1182.7 1057.6L1183.4 1053.2L1184 1057.9L1184.7 1053.3L1185.3 1057L1186 1052.3L1186.6 1057.6L1187.3 1052L1187.9 1056.6L1188.6 1051.5L1189.2 1057.8L1189.9 1051.9L1190.5 1057.1L1191.2 1050.9L1191.8 1056.7L1192.5 1051.1L1193.1 1055.4L1193.8 1052L1194.4 1056.9L1195.1 1051.3L1195.7 1056.3L1196.4 1051.4L1197 1055.8L1197.7 1051.3L1198.3 1056.9L1199 1050.4L1199.6 1055.7L1200.3 1051.4L1200.9 1056.9L1201.6 1052.6L1202.2 1056.4L1202.9 1052.7L1203.5 1056.7L1204.2 1052.1L1204.8 1058.4L1205.5 1052.3L1206.1 1058.6L1206.8 1052L1207.4 1057.4L1208.1 1052.8L1208.7 1057.6L1209.4 1053.1L1210 1057.9L1210.7 1053L1211.3 1058.6L1212 1052.1L1212.6 1057.2L1213.3 1053.4L1213.9 1057.8L1214.6 1052.5L1215.2 1057.5L1215.9 1052.4L1216.5 1056.4L1217.2 1052.6L1217.8 1056.5L1218.5 1051.5L1219.1 1056.2L1219.8 1050.9L1220.4 1057.1L1221.1 1051.4L1221.7 1057L1222.4 1052.2L1223 1056L1223.7 1051.6L1224.3 1057.5L1225 1052.8L1225.6 1057L1226.3 1051.7L1226.9 1057.9L1227.6 1052.2L1228.2 1057.2L1228.9 1053.4L1229.5 1057.3L1230.2 1053.4L1230.8 1057.8L1231.5 1053.2L1232.1 1058.6L1232.8 1052.5L1233.4 1057.4L1234.1 1053.8L1234.7 1058.7L1235.4 1053.4L1236 1058.5L1236.7 1052.7L1237.3 1057.9L1238 1053.3L1238.6 1057.6L1239.3 1053.5L1239.9 1058.4L1240.6 1054.3L1241.2 1057.5L1241.9 1052L1242.5 1057.7L1243.2 1052.7L1243.8 1057.4L1244.5 1051.7L1245.1 1056.5L1245.8 1051.9L1246.4 1055.9L1247.1 1051.1L1247.7 1056.7L1248.4 1052.3L1249 1056.6L1249.7 1051.5L1250.3 1057.5L1251 1051.6L1251.6 1058.3L1252.3 1052.8L1252.9 1056.8L1253.6 1052.4L1254.2 1056.8L1254.9 1053.1L1255.5 1057.8L1256.2 1052.1L1256.8 1058L1257.5 1053.3L1258.1 1058.1L1258.8 1052L1259.4 1057.8L1260.1 1052.3L1260.7 1056.6L1261.4 1052L1262 1057.1L1262.7 1052.7L1263.3 1057.8L1264 1052.2L1264.6 1057.7L1265.3 1052.4L1265.9 1058.3L1266.6 1054L1267.2 1058.1L1267.9 1053.7L1268.5 1057.3L1269.2 1052.2L1269.8 1056.9L1270.5 1054.1L1271.1 1058.7L1271.8 1052.5L1272.4 1056.5L1273.1 1051L1273.7 1056.5L1274.4 1050.3L1275 1055.2L1275.7 1050.2L1276 1054.5L1276.3 1051.2L1277 1055.2L1277.6 1051.1L1278.3 1055.6L1278.9 1052.1L1279.6 1056.2L1280.2 1052.9L1280.9 1057.3L1281.5 1053L1282.2 1056.8L1282.8 1053.6L1283.5 1057.6L1284.1 1053L1284.8 1057L1285.4 1052.1L1286.1 1057.1L1286.7 1051.9L1287.4 1057.3L1288 1053.5L1288.7 1057.4L1289.3 1053.2L1290 1056.8L1290.6 1053.5L1291.3 1057.2L1291.9 1052.4L1292.6 1057.5L1293.2 1052.2L1293.9 1056.6L1294.5 1052.4L1295.2 1057.7L1295.8 1051.3L1296.5 1056.8L1297.1 1051.6L1297.8 1056.4L1298.4 1052.2L1299.1 1056.9L1299.7 1051.3L1300.4 1056.8L1301 1051.1L1301.7 1055.5L1302.3 1050.8L1303 1056.9L1303.6 1051.6L1304.3 1058L1304.9 1052.2L1305.6 1056.7L1306.2 1051.3L1306.9 1057.7L1307.5 1053.3L1308.2 1056.6L1308.8 1053.1L1309.5 1057.4L1310.1 1053.7L1310.8 1058.3L1311.4 1051.8L1312.1 1057.6L1312.7 1052.8L1313.4 1056.9L1314 1053.6L1314.7 1057.9L1315.3 1053.9L1316 1058.2L1316.6 1053.9L1317.3 1058.4L1317.9 1053.2L1318.6 1057.7L1319.2 1052.6L1319.9 1058.6L1320.5 1053.7L1321.2 1057.4L1321.8 1052.4L1322.5 1057.4L1323.1 1053.7L1323.8 1057.9L1324.4 1052.9L1325.1 1058.4L1325.7 1053.1L1326.4 1057.2L1327 1052.5L1327.7 1058.1L1328.3 1052.2L1329 1057.9L1329.6 1052.3L1330.3 1057.1L1330.9 1052.4L1331.6 1057.2L1332.2 1053.3L1332.9 1058.6L1333.5 1052.3L1334.2 1057.5L1334.8 1052.5L1335.5 1058.7L1336.1 1053.9L1336.8 1058L1337.4 1052.7L1338.1 1058.4L1338.7 1053.7L1339.4 1059.6L1340 1054.4L1340.7 1059.7L1341.3 1055.1L1342 1060.5L1342.6 1053.8L1343.3 1059.4L1343.9 1054.1L1344.6 1060.6L1345.2 1054.1L1345.9 1059.3L1346.5 1055L1347.2 1060.3L1347.8 1055.4L1348.5 1059.7L1349.1 1054.8L1349.8 1059.6L1350.4 1054.2L1351.1 1060L1351.7 1053.7L1352.4 1059.9L1353 1053.8"/>
<path stroke="#ff00ff" d="M124.5 1264.3L125.2 1258.5L125.8 1255.3L126.5 1249.7L127.1 1252.4L127.8 1247.5L128.4 1251.1L129.1 1246.3L129.7 1248.5L130.4 1242.5L131 1247.7L131.7 1242.4L132.3 1246.7L133 1241L133.6 1247.3L134.3 1240.7L134.9 1245.7L135.6 1240.9L136.2 1246.2L136.9 1241.6L137.5 1245.7L138.2 1240.8L138.8 1245.8L139.5 1240.9L140.1 1245.4L140.8 1239.2L141.4 1244L142.1 1238.8L142.7 1245.1L143.4 1240.6L144 1245.2L144.7 1240.8L145.3 1244.8L146 1240L146.6 1244.3L147.3 1240L147.9 1245.6L148.6 1240.5L149.2 1244.5L149.9 1239.8L150.5 1245.2L151.2 1239.5L151.8 1244.3L152.5 1240.4L153.1 1245.1L153.8 1239.6L154.4 1244.5L155.1 1239.9L155.7 1243.3L156.4 1238.3L157 1243.5L157.7 1238.7L158.3 1243.9L159 1238.2L159.6 1243.9L160.3 1238.2L160.9 1244.4L161.6 1240.1L162.2 1244.6L162.9 1239.1L163.5 1244.6L164.2 1239.4L164.8 1243.9L165.5 1239L166.1 1243.7L166.8 1238.9L167.4 1244.4L168.1 1239.8L168.7 1245L169.4 1239.8L170 1243.8L170.7 1238.5L171.3 1243.4L172 1238.6L172.6 1244.1L173.3 1238.3L173.9 1245L174.6 1238.5L175.2 1244.5L175.9 1239.6L176.5 1244.5L177.2 1238.4L177.8 1243.8L178.5 1239.2L179.1 1244.4L179.8 1238.5L180.4 1244L181.1 1239.7L181.7 1243.2L182.4 1239.4L183 1244L183.7 1238L184.3 1244.5L185 1239.3L185.6 1245.2L186.3 1239.6L186.9 1244.5L187.6 1239.7L188.2 1243.4L188.9 1239.4L189.5 1244.2L190.2 1238L190.8 1242.7L191.5 1238.6L192.1 1243.1L192.8 1239.1L193.4 1244.1L194.1 1239.8L194.7 1244.6L195.4 1238.7L196 1243.3L196.7 1239.4L197.3 1242.3L198 1239L198.6 1243L199.3 1237.6L199.9 1243.8L200.6 1238.6L201.2 1243.3L201.9 1237.9L202.5 1243.7L203.2 1238.4L203.8 1243.6L204.5 1238.5L205.1 1243.7L205.8 1238.2L206.4 1243.3L207.1 1237.8L207.7 1243.4L208.4 1239.3L209 1242.3L209.7 1239.1L210.3 1242.7L211 1238.9L211.6 1242.5L212.3 1238.8L212.9 1243.4L213.6 1237.5L214.2 1242.8L214.9 1238.4L215.5 1242.9L216.2 1237.9L216.8 1243.6L217.5 1237.3L218.1 1242.6L218.8 1237.3L219.4 1242.5L220.1 1237.2L220.7 1242.1L221.4 1236.9L222 1242.4L222.7 1237L223.3 1242.3L224 1237.4L224.6 1241.9L225.3 1237.8L225.9 1241L226.6 1237.1L227.2 1241.9L227.9 1236.4L228.5 1241.2L229.2 1236.8L229.8 1241.6L230.5 1236.7L231.1 1242.2L231.8 1236.8L232.4 1241.9L233.1 1237L233.7 1242L234.4 1237.2L235 1241.6L235.7 1235.9L236.3 1240.6L237 1235.5L237.6 1241.9L238.3 1235.8L238.9 1241.4L239.6 1236.9L240.2 1241.2L240.9 1237.4L241.5 1240.4L242.2 1237L242.8 1242.3L243.5 1237.5L244.1 1242.5L244.8 1238L245.4 1241.7L246.1 1238.3L246.7 1242.8L247.4 1237.5L248 1242.1L248.7 1236.8L249.3 1241.2L250 1236.9L250.6 1242.5L251.3 1237.6L251.9 1242.3L252.6 1237.3L253.2 1241.2L253.9 1237.1L254.5 1240.7L255.2 1235.8L255.8 1241.3L256.5 1237.4L257.1 1240.4L257.8 1237.5L258.4 1241.2L259.1 1236.9L259.7 1241.4L260.4 1235.5L261 1241.7L261.7 1236.5L262.3 1241.1L263 1234.7L263.6 1239.2L264.3 1234.3L264.9 1239.6L265.6 1234L266.2 1239L266.9 1234.1L267.5 1239.1L268.2 1234.5L268.8 1239.4L269.5 1233.4L270.1 1238.7L270.8 1233.9L271.4 1239.1L272.1 1233.6L272.7 1239.1L273.4 1233.5L274 1237.9L274.7 1233.4L275.3 1237.3L276 1233.1L276.6 1237.4L277.3 1233.6L277.9 1238L278.6 1232.9L279.2 1236.9L279.9 1233.4L280.5 1238.6L281.2 1233.6L281.8 1237.2L282.5 1231.5L283.1 1236.6L283.8 1232.3L284.4 1237.7L285.1 1232.7L285.7 1235.5L286.4 1229.9L287 1235.5L287.7 1229.7L288.3 1232.7L289 1226.4L289.6 1229.9L290.3 1219.9L290.9 1219.5L291.6 1206.1L292.2 1196.2L292.9 1171L293.5 1148.1L294.2 1110.4L294.8 1086.6L295.5 1069.4L295.5 1073.7L296.1 1078.8L296.8 1110.9L297.4 1137.4L298.1 1171.5L298.7 1188.7L299.4 1208.2L300 1214L300.7 1225.4L301.3 1222.9L302 1229.8L302.6 1226.4L303.3 1232.9L303.9 1228.3L304.6 1234.3L305.2 1230.7L305.9 1236.3L306.5 1230.8L307.2 1236.7L307.8 1231.7L308.5 1236.7L309.1 1231.4L309.8 1236.2L310.4 1230.7L311.1 1235.7L311.7 1231.4L312.4 1235.6L313 1231.1L313.7 1236L314.3 1230.3L315 1235.2L315.6 1230.4L316.3 1235.3L316.9 1228.3L317.6 1234.2L318 1229.9L318.2 1234.2L318.9 1229.7L319.5 1233.8L320.2 1230.2L320.8 1233.5L321.5 1230.4L322.1 1234.3L322.8 1229.6L323.4 1234.8L324.1 1230.3L324.7 1235.2L325.4 1232L326 1235.7L326.7 1231.1L327.3 1237.2L328 1233L328.6 1237.9L329.3 1232.7L329.9 1236.7L330.6 1232.3L331.2 1236.7L331.9 1231.5L332.5 1237.3L333.2 1233L333.8 1238.1L334.5 1233.5L335.1 1238.5L335.8 1232L336.4 1238L337.1 1234.1L337.7 1238.9L338.4 1233.5L339 1239L339.7 1234.3L340.3 1239.2L341 1235.2L341.6 1239.7L342.3 1235.7L342.9 1239.9L343.6 1235.5L344.2 1239.6L344.9 1234.3L345.5 1240.4L346.2 1235.9L346.8 1240.2L347.5 1233.9L348.1 1240.3L348.8 1233.8L349.4 1238.9L350.1 1234.1L350.7 1239.3L351.4 1235.3L352 1239.4L352.7 1234.1L353.3 1239.2L354 1233.8L354.6 1238.7L355.3 1235.1L355.9 1240.8L356.6 1235.6L357.2 1240.1L357.9 1236.6L358.5 1240.6L359.2 1235.8L359.8 1240L360.5 1236.2L361.1 1240.2L361.8 1236.8L362.4 1241.5L363.1 1235L363.7 1241.3L364.4 1235.5L365 1239.8L365.7 1235.8L366.3 1240.6L367 1235.6L367.6 1240.3L368.3 1234.4L368.9 1240.9L369.6 1235.4L370.2 1239.7L370.9 1234.4L371.5 1240.8L372.2 1236L372.8 1240L373.5 1235.6L374.1 1241.4L374.8 1234.8L375.4 1239.7L376.1 1236.3L376.7 1240.7L377.4 1236L378 1241.9L378.7 1236.4L379.3 1241.5L380 1237.2L380.6 1242L381.3 1236.5L381.9 1242L382.6 1236.3L383.2 1239.1L383.9 1234.1L384.5 1236.7L385.2 1230.4L385.8 1232.3L386.5 1225.3L387.1 1229.7L387.8 1223.7L388.4 1227.8L388.5 1222.8L389.1 1226.7L389.7 1223.5L390.4 1230L391 1227.9L391.7 1234.7L392.3 1230.6L393 1237.6L393.6 1235.4L394.3 1240.5L394.9 1236.8L395.6 1242.7L396.2 1236.8L396.9 1243.2L397.5 1238.2L398.2 1243.4L398.8 1238.6L399.5 1243L400.1 1238.6L400.8 1242L401.4 1237.7L402.1 1242.6L402.7 1237.1L403.4 1243L404 1237.9L404.7 1244L405.3 1238.5L406 1242.1L406.6 1238.8L407.3 1242.6L407.9 1238.7L408.6 1242.5L409.2 1237.8L409.9 1243.2L410.5 1239L411.2 1243.2L411.8 1238.4L412.5 1244.6L413.1 1239.3L413.8 1244.4L414.4 1238.4L415.1 1243.9L415.7 1238.7L416.4 1243.6L417 1239.5L417.7 1244L418.3 1238L419 1244.3L419.6 1239.2L420.3 1243.9L420.9 1238.3L421.6 1242.9L422.2 1239.5L422.9 1245.1L423.5 1239.2L424.2 1244.9L424.8 1239.7L425.5 1244.1L426.1 1240.1L426.8 1245.5L427.4 1240.6L428.1 1244.8L428.7 1239.1L429.4 1243.6L430 1240.4L430.7 1243.8L431.3 1239.6L432 1245.8L432.6 1240.6L433.3 1245L433.9 1239.8L434.6 1244.3L435.2 1238.6L435.9 1243.2L436.5 1238.7L437.2 1244.5L437.8 1239L438.5 1244.3L439.1 1239L439.8 1244.5L440.4 1239L441.1 1244.3L441.7 1239.4L442.4 1242.9L443 1239.1L443.7 1243.6L444.3 1239.1L445 1243.2L445.6 1239.1L446.3 1244.4L446.9 1239.1L447.6 1244.1L448.2 1239.2L448.9 1245.1L449.5 1239.9L450.2 1244.6L450.8 1240.2L451.5 1245.1L452.1 1240.2L452.8 1244.6L453.4 1239.2L454.1 1244.5L454.7 1240.8L455.4 1244.9L456 1240.5L456.7 1245.8L457.3 1240.9L458 1246L458.6 1241.8L459.3 1246.8L459.9 1241L460.6 1246L461.2 1241.4L461.9 1245.7L462.5 1240.5L463.2 1245.9L463.8 1242.1L464.5 1246L465.1 1241.6L465.8 1246.3L466.4 1242.4L467.1 1247.3L467.7 1242.1L468.4 1246.8L469 1241.5L469.7 1246.6L470.3 1241.3L471 1246L471.6 1242.3L472.3 1247.6L472.9 1243L473.6 1246.6L474.2 1243.6L474.9 1247.7L475.5 1242.9L476.2 1247.3L476.8 1243.1L477.5 1247.2L478.1 1242.1L478.8 1248.2L479.4 1242.2L480.1 1246.7L480.7 1242.8L481.4 1247.5L482 1242L482.7 1247.8L483.3 1242.4L484 1248.3L484.6 1243.8L485.3 1248.6L485.9 1242.6L486.6 1248.1L487.2 1243.6L487.9 1249L488.5 1242.1L489.2 1247.6L489.8 1243.1L490.5 1247.1L491.1 1242.3L491.8 1247.9L492.4 1243.1L493.1 1247.9L493.7 1242.2L494.4 1247.8L495 1241.8L495.7 1246.6L496.3 1243.1L497 1248L497.6 1243.2L498.3 1246.7L498.9 1241.6L499.6 1248L500.2 1242.9L500.9 1247.1L501.5 1243.2L502.2 1246.5L502.8 1243.4L503.5 1247.4L504.1 1242.2L504.8 1246.8L505.4 1242.1L506.1 1247.5L506.7 1242.4L507.4 1247.7L508 1243.3L508.7 1248.4L509.3 1243L510 1248L510.6 1243.9L511.3 1247.6L511.9 1243.1L512.6 1248.1L513.2 1242.9L513.9 1247.6L514.5 1241.8L515.2 1246.7L515.8 1242.8L516.5 1247.1L517.1 1241.5L517.8 1246.4L518.4 1242.2L519.1 1247.1L519.7 1241.7L520.4 1245.8L521 1242.1L521.7 1246.5L522.3 1243.4L523 1247.3L523.6 1243.4L524.3 1248.1L524.9 1242.5L525.6 1247.7L526.2 1242.1L526.9 1247.7L527.5 1242.5L528.2 1248.3L528.8 1242.9L529.5 1249.2L530.1 1242.9L530.8 1247.5L531.4 1242.5L532.1 1247.7L532.7 1243L533.4 1247.4L534 1243.9L534.7 1247.6L535.3 1243.2L536 1248.5L536.6 1243.8L537.3 1248.5L537.9 1244L538.6 1249.8L539.2 1244L539.9 1249.1L540.5 1243.8L541.2 1249.8L541.8 1244L542.5 1248L543.1 1244.8L543.8 1248.3L544.4 1244.6L545.1 1250L545.7 1244L546.4 1248.6L547 1244.9L547.7 1249.2L548.3 1243.5L549 1249.3L549.6 1244.2L550.3 1248.7L550.9 1244.6L551.6 1249.8L552.2 1244.8L552.9 1249.2L553.5 1243.8L554.2 1248.8L554.8 1244.1L555.5 1248.2L556.1 1244.6L556.8 1248.1L557.4 1245L558.1 1248.5L558.7 1243.3L559.4 1249.4L560 1244.1L560.7 1249.5L561.3 1244.6L562 1248.9L562.6 1244.1L563.3 1249.7L563.9 1243.7L564.6 1248L565.2 1244.4L565.9 1247.3L566.5 1243L567.2 1249.1L567.8 1243.8L568.5 1248.6L569.1 1244.3L569.8 1248.7L570.4 1242.9L571.1 1248.2L571.7 1243.1L572.4 1247.4L573 1242.2L573.7 1247.7L574.3 1243.9L575 1249.1L575.6 1244.1L576.3 1248.9L576.9 1244.1L577.6 1248.8L578.2 1245.7L578.9 1250.8L579.5 1244.5L580.2 1250L580.8 1245L581.5 1249.8L582.1 1245.9L582.8 1250.5L583.4 1246.3L584.1 1249.6L584.7 1245.8L585.4 1250.2L586 1244.4L586.7 1249.7L587.3 1245.1L588 1250.5L588.6 1245.2L589.3 1250L589.9 1245.2L590.6 1249.2L591.2 1245.8L591.9 1249.2L592.5 1244.7L593.2 1250.1L593.8 1244.8L594.5 1250.2L595.1 1245.1L595.8 1250.8L596.4 1245.5L597.1 1249.6L597.7 1244.8L598.4 1249.1L599 1245.1L599.7 1249.8L600.3 1245.1L601 1250.3L601.6 1244.3L602.3 1250.9L602.9 1244.5L603.6 1250.8L604.2 1244.7L604.9 1250.6L605.5 1246.4L606.2 1250.2L606.8 1246.5L607.5 1250.7L608.1 1247.2L608.8 1251.6L609.4 1247.1L610.1 1252.5L610.7 1247.2L611.4 1252.9L612 1248.4L612.7 1252.9L613.3 1246.8L614 1251L614.6 1247.2L615.3 1252.1L615.9 1247.6L616.6 1252.3L617.2 1245.9L617.9 1252.5L618.5 1246.5L619.2 1252.1L619.8 1245.7L620.5 1252.1L621.1 1246.5L621.8 1251.4L622.4 1247L623.1 1252L623.7 1247.3L624.4 1251.1L625 1246.4L625.7 1250.9L626.3 1246.2L627 1251L627.6 1245.8L628.3 1251.3L628.9 1245.7L629.6 1251.6L630.2 1246.1L630.9 1250.6L631.5 1246.2L632.2 1252L632.8 1247.2L633.5 1251.6L634.1 1245.5L634.8 1250.1L635.4 1246L636.1 1251.2L636.7 1246.6L637.4 1252.2L638 1246.5L638.7 1251.4L639.3 1246.2L640 1251.8L640.6 1247.7L641.3 1252.6L641.9 1247.6L642.6 1252.5L643.2 1246L643.9 1251.9L644.5 1247.7L645.2 1251.7L645.8 1246.5L646.5 1252.2L647.1 1245.9L647.8 1250.8L648.4 1247.2L649.1 1251.8L649.7 1246.7L650.4 1251.4L651 1245.4L651.7 1251.7L652.3 1246.2L653 1250.5L653.6 1245.8L654.3 1250.9L654.9 1245.6L655.6 1250.4L656.2 1245.9L656.9 1251.4L657.5 1245.5L658.2 1251.6L658.8 1245.4L659.5 1250.2L660.1 1245.7L660.8 1250.2L661.4 1246.5L662.1 1250.6L662.7 1246.3L663.4 1249.5L664 1245.7L664.7 1249.9L665.3 1245.4L666 1250.4L666.6 1246.5L667.3 1251.2L667.9 1246.1L668.6 1251.9L669.2 1245.7L669.9 1252L670.5 1247L671.2 1250.7L671.8 1246L672.5 1251.1L673.1 1246.8L673.8 1250.2L674.4 1244.4L675.1 1246.9L675.7 1239.5L676.4 1242.1L677 1233L677.7 1233L678.3 1223.3L679 1223.4L679.6 1213.6L680.3 1215L680.9 1208.8L681.2 1213.2L681.6 1209.1L682.2 1215.9L682.9 1214.3L683.5 1223.3L684.2 1223.5L684.8 1234.4L685.5 1232.9L686.1 1242.5L686.8 1241.6L687.4 1247.3L688.1 1244.6L688.7 1251.5L689.4 1247.5L690 1251.8L690.7 1247.4L691.3 1251.1L692 1246.9L692.6 1252.2L693.3 1247.3L693.9 1252.7L694.6 1246.8L695.2 1251.3L695.9 1245.9L696.5 1252.1L697.2 1246L697.8 1250.9L698.5 1246.5L699.1 1250.3L699.8 1246.8L700.4 1251L701.1 1246.3L701.7 1251.9L702.4 1246.1L703 1251.1L703.7 1246.1L704.3 1251.6L705 1246.9L705.6 1252.2L706.3 1246L706.9 1252.4L707.6 1245.8L708.2 1252.2L708.9 1247.4L709.5 1252.4L710.2 1246.3L710.8 1251.8L711.5 1247.7L712.1 1252.7L712.8 1247.5L713.4 1251.1L714.1 1246.6L714.7 1252.4L715.4 1247.1L716 1251.3L716.7 1246.4L717.3 1251.8L718 1246.5L718.6 1251.6L719.3 1246.1L719.9 1252L720.6 1247L721.2 1251L721.9 1245.4L722.5 1251.9L723.2 1246.2L723.8 1251L724.5 1245.6L725.1 1250.7L725.8 1246.1L726.4 1251.2L727.1 1245.7L727.7 1251.6L728.4 1245.9L729 1250.9L729.7 1247L730.3 1252.1L731 1247.1L731.6 1253.2L732.3 1248.4L732.9 1253.4L733.6 1247.3L734.2 1251.6L734.9 1247.9L735.5 1251.5L736.2 1246.5L736.8 1252.9L737.5 1246.6L738.1 1253L738.8 1247.5L739.4 1251.6L740.1 1247.3L740.7 1251.6L741.4 1247.7L742 1252.1L742.7 1247.2L743.3 1253.5L744 1247.2L744.6 1251.7L745.3 1248.1L745.9 1252.5L746.6 1246.9L747.2 1253.2L747.9 1247.6L748.5 1252.6L749.2 1248.6L749.8 1252.5L750.5 1247.3L751.1 1252L751.8 1247.8L752.4 1253.4L753.1 1246.6L753.7 1251.6L754.4 1248.1L755 1251.8L755.7 1246.5L756.3 1253.1L757 1248.1L757.6 1252.2L758.3 1247.1L758.9 1251.6L759.6 1248L760.2 1252.4L760.9 1247.3L761.5 1251.3L762.2 1246.4L762.8 1252.4L763.5 1246.5L764.1 1252.4L764.8 1247L765.4 1251.4L766.1 1246.4L766.7 1251.6L767.4 1245.9L768 1251.7L768.7 1245.6L769.3 1250.3L770 1246.8L770.6 1251.9L771.3 1246.2L771.9 1252L772.6 1247L773.2 1251L773.9 1247.3L774.5 1250.9L775.2 1247.6L775.8 1251.6L776.5 1247.8L777.1 1251.7L777.8 1247.1L778.4 1252.7L779.1 1247.3L779.7 1253.6L780.4 1248.2L781 1252.4L781.7 1248.2L782.3 1253.4L783 1247.5L783.6 1252.9L784.3 1248L784.9 1251.6L785.6 1247.2L786.2 1252.6L786.9 1247.5L787.5 1252.5L788.2 1246.5L788.8 1251.7L789.5 1246.9L790.1 1253L790.8 1247.6L791.4 1251.5L792.1 1247.4L792.7 1251.6L793.4 1247.6L794 1252.8L794.7 1246.8L795.3 1252.5L796 1247.5L796.6 1253.2L797.3 1248.3L797.9 1253.1L798.6 1248L799.2 1253.5L799.9 1248.3L800.5 1252.4L801.2 1248.9L801.8 1252.8L802.5 1247.7L803.1 1252.4L803.8 1246.9L804.4 1253L805.1 1248L805.7 1252.9L806.4 1247.6L807 1251.6L807.7 1247.2L808.3 1252.4L809 1246.5L809.6 1251.7L810.3 1247.6L810.9 1251.9L811.6 1246.2L812.2 1251.2L812.9 1247.6L813.5 1251.6L814.2 1246.6L814.8 1253L815.5 1248L816.1 1252.9L816.8 1247.8L817.4 1251.7L818.1 1248.6L818.7 1252.3L819.4 1248.5L820 1251.9L820.7 1248.2L821.3 1251.8L822 1248.2L822.6 1252.1L823.3 1246.5L823.9 1252.6L824.6 1246.7L825.2 1251L825.9 1246.1L826.5 1250.8L827.2 1247.5L827.8 1251.8L828.5 1246.2L829.1 1251.9L829.8 1247.3L830.4 1252.6L831.1 1246.1L831.7 1250.7L832.4 1245.9L833 1252.5L833.7 1246.4L834.3 1252.4L835 1247.2L835.6 1253.3L836.3 1247.1L836.9 1252.4L837.6 1248.7L838.2 1253.2L838.9 1248.4L839.5 1253.7L840.2 1248.2L840.8 1252.5L841.5 1248.6L842.1 1254.2L842.8 1248L843.4 1252.8L844.1 1248.8L844.7 1252.8L845.4 1247.3L846 1253.1L846.7 1248.7L847.3 1252.8L848 1248.9L848.6 1253.4L849.3 1248.8L849.9 1252.5L850.6 1247.7L851.2 1253.4L851.9 1247.9L852.5 1252.7L853.2 1248.1L853.8 1253.4L854.5 1248L855.1 1251.6L855.8 1246.8L856.4 1249.5L857.1 1243.7L857.7 1246.7L858.4 1238.2L859 1241.2L859.7 1235L860.3 1238.9L861 1232.6L861.6 1236.6L861.8 1231.6L862.3 1235.8L862.9 1231.1L863.6 1238.3L864.2 1234.3L864.9 1241.4L865.5 1239.1L866.2 1245.4L866.8 1241.7L867.5 1249.6L868.1 1245.3L868.8 1251.2L869.4 1246.4L870.1 1251.7L870.7 1247.6L871.4 1253.3L872 1248.7L872.7 1254.1L873.3 1248.5L874 1253.2L874.6 1248.6L875.3 1252.6L875.9 1249L876.6 1253.5L877.2 1249.6L877.9 1252.9L878.5 1249.7L879.2 1254.1L879.8 1249.9L880.5 1254.8L881.1 1248.6L881.8 1253.7L882.4 1249L883.1 1252.9L883.7 1248.7L884.4 1253.7L885 1248L885.7 1252L886.3 1247.9L887 1252.3L887.6 1248.5L888.3 1253.3L888.9 1248.3L889.6 1253.4L890.2 1247.4L890.9 1253.4L891.5 1247.5L892.2 1253.6L892.8 1247.2L893.5 1252L894.1 1248.6L894.8 1253.6L895.4 1248.2L896.1 1253.8L896.7 1248L897.4 1252.6L898 1247.1L898.7 1252.2L899.3 1248.1L900 1253.3L900.6 1247.9L901.3 1253.3L901.9 1248.8L902.6 1252.7L903.2 1247.3L903.9 1252.6L904.5 1249.1L905.2 1252.5L905.8 1249.5L906.5 1253.4L907.1 1248.5L907.8 1254.4L908.4 1247.8L909.1 1253.3L909.7 1248.3L910.4 1253L911 1247.9L911.7 1253.4L912.3 1248L913 1253.4L913.6 1247.2L914.3 1252.9L914.9 1248.3L915.6 1252L916.2 1247.5L916.9 1253.2L917.5 1247.3L918.2 1252.1L918.8 1247.1L919.5 1252.3L920.1 1247.3L920.8 1253.9L921.4 1248.3L922.1 1253.3L922.7 1248.1L923.4 1252.4L924 1246.8L924.7 1252.2L925.3 1247L926 1252.7L926.6 1248.1L927.3 1253L927.9 1247.7L928.6 1252.2L929.2 1247.8L929.9 1252.8L930.5 1248.1L931.2 1253.6L931.8 1248.3L932.5 1252.2L933.1 1247.6L933.8 1252.9L934.4 1248L935.1 1252.4L935.7 1248.2L936.4 1253.4L937 1248.1L937.7 1254.1L938.3 1249.3L939 1253.3L939.6 1248.7L940.3 1252.8L940.9 1247.6L941.6 1253.4L942.2 1248.3L942.9 1253.8L943.5 1247.3L944.2 1254L944.8 1248.5L945.5 1253.4L946.1 1248.5L946.8 1252.3L947.4 1248.7L948.1 1253.9L948.7 1248.9L949.4 1253.3L950 1248.2L950.7 1253.5L951.3 1248.5L952 1253.7L952.6 1249.3L953.3 1252.6L953.9 1248.5L954.6 1253.6L955.2 1248.4L955.9 1254.3L956.5 1249.4L957.2 1252.6L957.8 1247.7L958.5 1254L959.1 1247.7L959.8 1254.1L960.4 1248.5L961.1 1253.5L961.7 1248.1L962.4 1253.3L963 1248.5L963.7 1253.9L964.3 1247.8L965 1252.3L965.6 1247.6L966.3 1253L966.9 1247.8L967.6 1254.4L968.2 1248.1L968.9 1252.6L969.5 1248L970.2 1253L970.8 1248.7L971.5 1252.4L972.1 1247.5L972.8 1252.7L973.4 1247.8L974.1 1252.4L974.7 1247.8L975.4 1253.1L976 1247.7L976.7 1253.1L977.3 1248L978 1253.3L978.6 1249.4L979.3 1254.2L979.9 1248.2L980.6 1253.1L981.2 1248.3L981.9 1253.4L982.5 1248.6L983.2 1253.5L983.8 1247.9L984.5 1253.2L985.1 1247.8L985.8 1252.4L986.4 1248.6L987.1 1253.4L987.7 1247.6L988.4 1251.8L989 1247.7L989.7 1252.4L990.3 1247.3L991 1252.3L991.6 1248.9L992.3 1252.8L992.9 1248.2L993.6 1253.4L994.2 1248.1L994.9 1253.2L995.5 1248.6L996.2 1252.9L996.8 1248L997.5 1253.5L998.1 1248.7L998.8 1253.5L999.4 1249.6L1000.1 1253.6L1000.7 1249.4L1001.4 1253L1002 1248.1L1002.7 1254.3L1003.3 1248.1L1004 1254.4L1004.6 1249.2L1005.3 1253.1L1005.9 1249.2L1006.6 1253L1007.2 1247.7L1007.9 1253.2L1008.5 1248.6L1009.2 1253.5L1009.8 1249.3L1010.5 1253.7L1011.1 1249.1L1011.8 1253.4L1012.4 1248.4L1013.1 1253.5L1013.7 1247.5L1014.4 1252.4L1015 1248.2L1015.7 1251.9L1016.3 1248.2L1017 1253.2L1017.6 1247.8L1018.3 1252.7L1018.9 1247.9L1019.6 1252.5L1020.2 1247.3L1020.9 1252.5L1021.5 1247.7L1022.2 1253.4L1022.8 1248L1023.5 1252.9L1024.1 1248.3L1024.8 1253.1L1025.4 1248.8L1026.1 1254.4L1026.7 1247.8L1027.4 1252.8L1028 1247.8L1028.7 1253.1L1029.3 1248.5L1030 1253L1030.6 1248.1L1031.3 1252.7L1031.9 1247.9L1032.6 1254.4L1033.2 1249.4L1033.9 1254.1L1034.5 1248.5L1035.2 1253.7L1035.8 1248.5L1036.5 1253.4L1037.1 1249.6L1037.8 1253.2L1038.4 1249.7L1039.1 1253.6L1039.7 1248.2L1040.4 1253.2L1041 1248L1041.7 1254.3L1042.3 1248.6L1043 1252.7L1043.6 1248.8L1044.3 1252.6L1044.9 1248.1L1045.6 1253.9L1046.2 1247.7L1046.9 1253.6L1047.5 1249.1L1048.2 1254.7L1048.8 1250L1049.5 1254.1L1050.1 1249.6L1050.8 1254.2L1051.4 1249.4L1052.1 1253.7L1052.7 1248.6L1053.4 1255.2L1054 1248.6L1054.7 1253.8L1055.3 1249.6L1056 1253.7L1056.6 1249.3L1057.3 1254.3L1057.9 1248.6L1058.6 1254.9L1059.2 1248.6L1059.9 1254.5L1060.5 1249.2L1061.2 1253.6L1061.8 1248.3L1062.5 1254.1L1063.1 1248.5L1063.8 1254.8L1064.4 1249.8L1065.1 1254L1065.7 1249.5L1066.4 1255.2L1067 1249.4L1067.7 1254.4L1068.3 1249.9L1069 1255L1069.6 1249.4L1070.3 1255.3L1070.9 1249.2L1071.6 1255L1072.2 1250.2L1072.9 1254L1073.5 1250.1L1074.2 1255.6L1074.8 1250.4L1075.5 1253.3L1076.1 1249.9L1076.8 1254L1077.4 1249.8L1078.1 1254.3L1078.7 1249.7L1079.4 1255.1L1080 1249.7L1080.7 1255.2L1081.3 1249.7L1082 1254.8L1082.6 1249.1L1083.3 1253.9L1083.9 1247.8L1084.6 1253.1L1085.2 1248.1L1085.9 1252.7L1086.5 1248.6L1087.2 1253.4L1087.8 1249.2L1088.5 1253.5L1089.1 1247.6L1089.8 1253.8L1090.4 1248.8L1091.1 1253.9L1091.7 1248.5L1092.4 1254L1093 1248.3L1093.7 1254.7L1094.3 1249.2L1095 1254.5L1095.6 1249L1096.3 1253.5L1096.9 1248.8L1097.6 1254.4L1098.2 1248.1L1098.9 1253.6L1099.5 1248.2L1100.2 1254L1100.8 1248.5L1101.5 1253.6L1102.1 1248.7L1102.8 1253L1103.4 1249L1104.1 1253.8L1104.7 1248.5L1105.4 1254.8L1106 1250.3L1106.7 1254L1107.3 1250.4L1108 1255.2L1108.6 1248.9L1109.3 1253.7L1109.9 1249.9L1110.6 1253.9L1111.2 1249.6L1111.9 1253.9L1112.5 1250.4L1113.2 1254L1113.8 1248.3L1114.5 1253.4L1115.1 1248.9L1115.8 1255L1116.4 1248.6L1117.1 1254.6L1117.7 1249.2L1118.4 1254.5L1119 1248.4L1119.7 1253.8L1120.3 1248.9L1121 1253.7L1121.6 1249.8L1122.3 1254.2L1122.9 1247.6L1123.6 1253.5L1124.2 1248.1L1124.9 1251.3L1125.5 1246.6L1126.2 1250.5L1126.8 1246.3L1127.5 1249.5L1128.1 1246.2L1128.8 1249.6L1129 1245.6L1129.4 1251.3L1130.1 1246.7L1130.7 1249.9L1131.4 1245.4L1132 1250.6L1132.7 1247.8L1133.3 1253.3L1134 1248.3L1134.6 1253.4L1135.3 1248.4L1135.9 1254L1136.6 1249.9L1137.2 1255.8L1137.9 1249.6L1138.5 1254.5L1139.2 1250.2L1139.8 1254.7L1140.5 1250.8L1141.1 1254.6L1141.8 1251L1142.4 1256L1143.1 1250.4L1143.7 1254.6L1144.4 1249.4L1145 1255.4L1145.7 1248.9L1146.3 1254.7L1147 1248.6L1147.6 1254.1L1148.3 1248.7L1148.9 1253.4L1149.6 1249L1150.2 1254.8L1150.9 1248.9L1151.5 1255L1152.2 1248.7L1152.8 1253.9L1153.5 1250L1154.1 1254.5L1154.8 1250.1L1155.4 1255.3L1156.1 1249.3L1156.7 1254.6L1157.4 1250.4L1158 1254.2L1158.7 1249.9L1159.3 1255.3L1160 1249.5L1160.6 1254.9L1161.3 1249.9L1161.9 1254.4L1162.6 1249.3L1163.2 1254.2L1163.9 1250.3L1164.5 1255.5L1165.2 1249.7L1165.8 1255.1L1166.5 1250.3L1167.1 1254.7L1167.8 1251.2L1168.4 1255.9L1169.1 1250.8L1169.7 1255.1L1170.4 1250.4L1171 1255.7L1171.7 1250L1172.3 1254.5L1173 1249.5L1173.6 1254.4L1174.3 1250.6L1174.9 1254.4L1175.6 1250.6L1176.2 1256.2L1176.9 1250.6L1177.5 1255.7L1178.2 1250.8L1178.8 1254.9L1179.5 1250L1180.1 1256.3L1180.8 1251L1181.4 1255.6L1182.1 1250.6L1182.7 1256.5L1183.4 1251.8L1184 1255.5L1184.7 1250L1185.3 1255.7L1186 1250.4L1186.6 1255.2L1187.3 1250.6L1187.9 1254.9L1188.6 1250.5L1189.2 1256.2L1189.9 1251.1L1190.5 1255.4L1191.2 1250.3L1191.8 1254.6L1192.5 1251.1L1193.1 1255.3L1193.8 1250.6L1194.4 1256.2L1195.1 1250.7L1195.7 1255.2L1196.4 1250.4L1197 1255.5L1197.7 1250.7L1198.3 1254.6L1199 1249.4L1199.6 1255L1200.3 1250.4L1200.9 1255.8L1201.6 1250.1L1202.2 1254.2L1202.9 1250.5L1203.5 1254.4L1204.2 1249.4L1204.8 1254.5L1205.5 1249.3L1206.1 1254.3L1206.8 1250.2L1207.4 1255.4L1208.1 1249.2L1208.7 1255.4L1209.4 1250.4L1210 1254.9L1210.7 1250.9L1211.3 1254.6L1212 1251.1L1212.6 1255.5L1213.3 1250.8L1213.9 1253.9L1214.6 1249.4L1215.2 1254.2L1215.9 1250.1L1216.5 1254.6L1217.2 1250.5L1217.8 1256.4L1218.5 1251.3L1219.1 1256.8L1219.8 1250.7L1220.4 1256.3L1221.1 1251.2L1221.7 1255.8L1222.4 1250.9L1223 1255.1L1223.7 1250.1L1224.3 1256.6L1225 1250.9L1225.6 1254.9L1226.3 1249.9L1226.9 1254.7L1227.6 1251.1L1228.2 1254.2L1228.9 1249.9L1229.5 1255.7L1230.2 1250.2L1230.8 1254.2L1231.5 1250.1L1232.1 1255.8L1232.8 1250.9L1233.4 1254.7L1234.1 1250.2L1234.7 1255.1L1235.4 1249.6L1236 1256L1236.7 1250.3L1237.3 1254.7L1238 1251L1238.6 1255.3L1239.3 1250.6L1239.9 1255.3L1240.6 1250.7L1241.2 1255.7L1241.9 1250.7L1242.5 1255.5L1243.2 1251.5L1243.8 1256.7L1244.5 1250.5L1245.1 1254.9L1245.8 1251L1246.4 1255.8L1247.1 1250.7L1247.7 1255.1L1248.4 1250.1L1249 1255.4L1249.7 1250.1L1250.3 1256.4L1251 1250.2L1251.6 1255.1L1252.3 1250.5L1252.9 1255.4L1253.6 1250.3L1254.2 1256.6L1254.9 1251.3L1255.5 1255.8L1256.2 1252.1L1256.8 1256.6L1257.5 1251.7L1258.1 1256.2L1258.8 1250.4L1259.4 1255.7L1260.1 1251.6L1260.7 1255.7L1261.4 1250.7L1262 1256.7L1262.7 1251L1263.3 1255.6L1264 1250.5L1264.6 1254.5L1265.3 1250.9L1265.9 1255.3L1266.6 1250.3L1267.2 1254L1267.9 1250.1L1268.5 1253.8L1269.2 1250.1L1269.8 1253.7L1270.5 1248.7L1271.1 1253.5L1271.8 1249.2L1272.4 1254.1L1273.1 1248.7L1273.7 1253.8L1274.4 1248L1275 1252.6L1275 1248.2L1275.7 1254.2L1276.3 1248.1L1277 1254.1L1277.6 1249.5L1278.3 1254.4L1278.9 1251.1L1279.6 1255.1L1280.2 1252L1280.9 1255.3L1281.5 1251.6L1282.2 1255.7L1282.8 1251.7L1283.5 1254.9L1284.1 1249.8L1284.8 1256.1L1285.4 1251.2L1286.1 1255.4L1286.7 1251.7L1287.4 1255.8L1288 1252.2L1288.7 1256.2L1289.3 1251.6L1290 1255.4L1290.6 1250.6L1291.3 1256.5L1291.9 1250.9L1292.6 1256.7L1293.2 1251.3L1293.9 1255.7L1294.5 1250.2L1295.2 1256.3L1295.8 1252L1296.5 1255.3L1297.1 1251.1L1297.8 1256.5L1298.4 1250.5L1299.1 1257.1L1299.7 1251.1L1300.4 1257.1L1301 1251.1L1301.7 1257.2L1302.3 1250.5L1303 1256.3L1303.6 1251.7L1304.3 1256.3L1304.9 1251.1L1305.6 1255.3L1306.2 1250.5L1306.9 1256.7L1307.5 1251.7L1308.2 1255.4L1308.8 1250.6L1309.5 1254.7L1310.1 1251.6L1310.8 1256L1311.4 1251.1L1312.1 1256.1L1312.7 1250.4L1313.4 1255.8L1314 1251L1314.7 1256.2L1315.3 1251.1L1316 1256.1L1316.6 1250.9L1317.3 1256.8L1317.9 1251.6L1318.6 1256L1319.2 1251.3L1319.9 1257L1320.5 1251.9L1321.2 1256.7L1321.8 1250.5L1322.5 1255.3L1323.1 1251.6L1323.8 1255.7L1324.4 1251.4L1325.1 1256.2L1325.7 1250.5L1326.4 1255.4L1327 1251.6L1327.7 1255.6L1328.3 1250.4L1329 1255.8L1329.6 1249.5L1330.3 1256L1330.9 1250.5L1331.6 1255.7L1332.2 1250.8L1332.9 1255.9L1333.5 1249.8L1334.2 1256.4L1334.8 1251.5L1335.5 1255L1336.1 1250.1L1336.8 1254.8L1337.4 1250.7L1338.1 1254.8L1338.7 1251.3L1339.4 1255.2L1340 1250.5L1340.7 1256.1L1341.3 1251.2L1342 1256.7L1342.6 1251L1343.3 1256.1L1343.9 1252.5L1344.6 1255.9L1345.2 1252.7L1345.9 1257.1L1346.5 1252.8L1347.2 1257.3L1347.8 1252.8L1348.5 1257.1L1349.1 1252.2L1349.8 1256.3L1350.4 1251.1L1351.1 1257.1L1351.7 1251.2L1352.4 1257.3L1353 1250.7"/>
</g>
<g fill="none" stroke-linejoin="round" stroke-linecap="butt" stroke-width="9.5">
<path stroke="#008000" d="M1426.5 388.5L1433.2 389.7L1439.9 389.5L1446.6 388L1453.3 388.1L1460 387.9L1466.7 388.8L1473.4 388.2L1480.1 388.9L1486.8 386.6L1493.5 389.6L1500.2 388.1L1506.9 388.8L1513.6 388L1520.3 387.7L1527 388.5L1533.7 388.8L1540 387.8L1547.1 387.2L1553.8 387.3L1560.5 385.2L1567.2 384L1574 385.1L1580.6 383.3L1587.3 381.4L1593.3 381.7L1600.7 380.5L1607.4 378.4L1613.7 377.2L1620.8 372.9L1627.5 368.2L1630.7 365.3L1634.2 361.4L1642 353.1L1647.7 339.5L1656.7 318.9L1661 307.5L1664.7 297.7L1670.3 282.6L1673.2 278.7L1682.8 286.1L1688.5 291.8L1696.4 307.9L1701.2 316.9L1704.3 323.3L1707.9 329.5L1713.4 338.8L1721.3 356.3L1728.1 371.1L1732.7 379.8L1739.5 384.6L1748.1 385.5L1755.3 386.4L1761.5 386.5L1768.2 387.3L1774.9 385.6L1778 387.6L1781.6 387.6L1788.3 385.5L1795 387.4L1801.7 386.9L1808.4 387.9L1815.1 386.9L1821.8 387.3L1828.5 387.6L1835.2 386.6L1841.9 388L1848.6 387.4L1855.3 388L1862 387.1L1868.7 388.6L1875.4 388.2L1882.1 387.5L1888.8 388.3L1895.5 388.9L1902.2 389.5L1908.9 386.5L1915.6 388.7L1922.3 388.4L1925.5 387.9"/>
<path stroke="#ff8000" d="M1426.5 588.5L1433.2 589.4L1439.9 589L1446.6 588.9L1453.3 589.7L1460 587L1466.7 587.5L1473.4 586.8L1480.1 587.8L1486.8 588.7L1493.5 587.7L1500.2 588.1L1506.9 585.9L1513.6 587.7L1520.3 586.6L1527 589L1533.7 588.1L1540.4 588.1L1547.1 587.1L1553.8 587.6L1560 587.6L1567.2 586.2L1573.9 585.6L1580.6 585.5L1587.3 584.6L1594 584.2L1600.7 582.6L1607.4 580.4L1611 580.6L1614.1 577.7L1620.8 577.5L1628 574.1L1634.2 569.6L1641.6 563.9L1647.6 555.9L1653 548.3L1662 528.1L1667.7 505.2L1673.3 494L1680 487.7L1685.8 482.9L1693.7 489.3L1700.5 505.6L1707.3 525.7L1715.3 541.8L1723.2 554.2L1730 567.6L1734.5 579.5L1743.6 584.4L1748.1 585.2L1752.7 584.4L1761.5 586.2L1768.2 587.5L1775 587L1781.6 588.7L1788.3 589L1795 588.6L1801.7 588.7L1808.4 588.7L1815.1 589.8L1821.8 588L1828.5 587.9L1835.2 588.4L1841.9 587.1L1848.6 586.6L1855.3 587.2L1862 588.4L1868.7 588.5L1875.4 586.8L1882.1 586.5L1888.8 588L1895.5 588.1L1902.2 588.3L1908.9 589L1915.6 589.5L1922.3 588.7L1925.5 589"/>
<path stroke="#000" d="M1426.5 849.6L1433.2 845.9L1439.9 848.7L1446.6 847.8L1453.3 848.8L1460 847.8L1466.7 849L1473.4 847.3L1480.1 846.7L1486.8 847.6L1493.5 847.4L1500.2 846.6L1506.9 846.6L1513.6 847.3L1520.3 847.2L1527 846L1533.7 846.1L1540.4 844.7L1547.1 847.7L1553.8 845.9L1560 847.2L1567.2 845.6L1573.9 846.3L1579.6 845.3L1587.3 840L1596.6 836.1L1600.7 835L1609.7 839.1L1614.1 834.9L1618.8 833.7L1627.5 827L1632 823.1L1640.9 814.8L1645 811L1654.3 799.9L1658 795.8L1661 790.2L1667.2 778.4L1673.8 761.2L1680.3 742.2L1684.2 724.6L1686.8 712.9L1694.7 703.8L1701.2 692.4L1705.2 689.6L1713 694.9L1717 706.7L1722.2 728.6L1727.4 748.6L1736.5 772.4L1741.4 783.8L1745.7 794.4L1752.2 811.2L1762.7 824.6L1768.2 829.4L1775.8 836.6L1781.6 837.1L1788.3 839.2L1795.4 838.4L1801.7 840.3L1808.4 842.1L1815.1 845.1L1821.5 845.9L1828.5 846L1835.2 847.4L1841.9 847.8L1848.6 847.4L1855.3 845L1862 846.2L1868.7 846.2L1875.4 846.2L1882.1 847L1888.8 849.1L1895.5 847.3L1902.2 847L1908.9 848.4L1915.6 847.9L1922.3 848.1L1925.5 847.4"/>
<path stroke="#0000ff" d="M1426.5 1051.3L1433.2 1049.8L1439.9 1049.2L1446.6 1048.6L1453.3 1050.2L1460 1051.6L1466.7 1050.5L1473.4 1050.9L1480.1 1051.3L1486.8 1049.5L1493.5 1052.3L1500.2 1049.5L1506.9 1050.6L1513.6 1052.2L1520.3 1050L1527 1050.2L1533.7 1049.6L1540.4 1050.3L1547.1 1048.1L1553.8 1049.4L1560 1051.4L1567.2 1049.7L1573.9 1049L1580.6 1049.2L1586 1049L1594 1048.6L1600.7 1048.8L1607.4 1046.6L1612.3 1048.5L1620.8 1045.1L1629.3 1044L1634.2 1041.1L1640.9 1037.3L1649 1034.2L1654.3 1028L1660.7 1021.5L1669.8 1001.5L1674.4 986.5L1677.7 975.1L1681.1 964.2L1684.2 953.1L1687.8 947.7L1694.7 936.4L1703.8 928.6L1707.9 933.2L1714.3 938.7L1722.2 949.3L1728.7 967.9L1735.2 988.7L1741.4 998.8L1745.7 1005.2L1756.2 1022.6L1764 1042.1L1768.2 1044.3L1771.8 1044.2L1774.9 1045.9L1781.6 1047.3L1788.8 1047.2L1795 1048.2L1801.7 1050L1808.4 1049.1L1815.1 1049.6L1821.5 1052L1828.5 1051.6L1835.2 1051.2L1841.9 1051.6L1848.6 1051.3L1855.3 1051.3L1862 1051.5L1868.7 1052.4L1875.4 1053.3L1882.1 1051.8L1888.8 1052.3L1895.5 1052.3L1902.2 1051.5L1908.9 1052.9L1915.6 1053.6L1922.3 1052.2L1925.5 1053.7"/>
<path stroke="#ff00ff" d="M1426.5 1249.5L1433.2 1249.9L1439.9 1251L1446.6 1250.1L1453.3 1251L1460 1251.1L1466.7 1249L1473.4 1251.2L1480.1 1249.7L1486.8 1252L1493.5 1250.7L1500.2 1249.5L1506.9 1250.1L1513.6 1250L1520.3 1250L1527 1250.9L1533 1250.1L1540.4 1250.6L1547.1 1249.2L1553.8 1248.1L1560 1246.4L1567.2 1244.2L1573 1243.7L1580.6 1244.2L1587.3 1245L1592.7 1243.2L1600.7 1242.7L1607.4 1240.9L1614.1 1240.3L1618.8 1238L1627.5 1238.9L1634.2 1236.2L1638.5 1235.9L1647.6 1233.3L1654.3 1231L1658 1228.8L1661 1227.7L1667.7 1222L1674.4 1216.6L1677.7 1213.6L1681.1 1209.3L1690.8 1197.6L1697.3 1180.9L1701.2 1173.3L1706.5 1162.6L1717 1143.7L1721.3 1135.3L1724.8 1129.1L1730 1124.1L1734.7 1127.2L1740.5 1133L1748.3 1147.1L1754.8 1162.5L1760 1181.2L1766.6 1204.9L1774.5 1223.3L1781.6 1233L1785 1236.8L1788.3 1238.1L1795 1239.9L1802 1242.5L1808.4 1244.2L1815.1 1246.7L1821.8 1248.1L1828 1248.3L1835.2 1249.9L1841.9 1250.6L1848.6 1249.5L1855.3 1247.9L1862 1248.8L1868.7 1249.3L1875.4 1248L1882.1 1249.4L1888.8 1248.5L1895.5 1250.4L1902.2 1250.4L1908.9 1249.8L1915.6 1248.8L1922.3 1250.2L1925.5 1249.4"/>
</g>
<path d="M1733.5 273.3V1263" stroke="#ff0000" stroke-width="8.5" stroke-dasharray="32.5 48" stroke-linecap="round" fill="none"/>
<g font-family="Liberation Serif, serif" font-weight="bold">
<text x="120.9" y="1371.0" font-size="50" fill="#000" text-anchor="middle" >20</text>
<text x="325.2" y="1371.0" font-size="50" fill="#000" text-anchor="middle" >30</text>
<text x="529.5" y="1371.0" font-size="50" fill="#000" text-anchor="middle" >40</text>
<text x="736.0" y="1371.0" font-size="50" fill="#000" text-anchor="middle" >50</text>
<text x="939.7" y="1371.0" font-size="50" fill="#000" text-anchor="middle" >60</text>
<text x="1144.0" y="1371.0" font-size="50" fill="#000" text-anchor="middle" >70</text>
<text x="1349.0" y="1371.0" font-size="50" fill="#000" text-anchor="middle" >80</text>
<text x="1433.6" y="1371.0" font-size="50" fill="#000" text-anchor="middle" >27.5</text>
<text x="1598.8" y="1371.0" font-size="50" fill="#000" text-anchor="middle" >28.0</text>
<text x="1765.0" y="1371.0" font-size="50" fill="#000" text-anchor="middle" >28.5</text>
<text x="1931.0" y="1371.0" font-size="50" fill="#000" text-anchor="middle" >29.0</text>
<text x="578.2" y="1426.7" font-size="60" fill="#000" text-anchor="start" letter-spacing="0.7">2θ (degree)</text>
<text x="1529.6" y="1426.7" font-size="60" fill="#000" text-anchor="start" letter-spacing="0.7">2θ (degree)</text>
<text transform="translate(106.5 945.8) rotate(-90)" font-size="61">Intensity (a.u.)</text>
<text transform="translate(1409 945.8) rotate(-90)" font-size="61">Intensity (a.u.)</text>
<text x="241.0" y="179.4" font-size="60" fill="#008000" text-anchor="start" letter-spacing="1.4">(112)</text>
<text x="335.6" y="310.4" font-size="60" fill="#008000" text-anchor="start" letter-spacing="0.85">(200)</text>
<text x="625.1" y="310.6" font-size="60" fill="#008000" text-anchor="start" letter-spacing="0.85">(220)</text>
<text x="819.3" y="310.6" font-size="60" fill="#008000" text-anchor="start" letter-spacing="0.85">(312)</text>
<text x="1067.0" y="314.1" font-size="60" fill="#008000" text-anchor="start" letter-spacing="0.85">(008)</text>
<text x="1199.4" y="255.8" font-size="60" fill="#008000" text-anchor="start" letter-spacing="0.85">(332)</text>
<text x="1602.4" y="242.1" font-size="60" fill="#008000" text-anchor="start" letter-spacing="1.4">(112)</text>
<text x="1152.7" y="366.2" font-size="60" fill="#008000" text-anchor="start" >x=0.6</text>
<text x="1153.0" y="555.7" font-size="60" fill="#ff8000" text-anchor="start" >x=0.4</text>
<text x="1150.0" y="819.8" font-size="60" fill="#000" text-anchor="start" >x=0.2</text>
<text x="1152.7" y="1033.3" font-size="60" fill="#0000ff" text-anchor="start" >x=0.1</text>
<text x="1155.0" y="1231.6" font-size="60" fill="#ff00ff" text-anchor="start" >x=0</text>
<text x="1772.6" y="367.8" font-size="60" fill="#008000" text-anchor="start" >x=0.6</text>
<text x="1774.8" y="562.8" font-size="60" fill="#ff8000" text-anchor="start" >x=0.4</text>
<text x="1774.8" y="820.2" font-size="60" fill="#000" text-anchor="start" >x=0.2</text>
<text x="1773.7" y="1026.8" font-size="60" fill="#0000ff" text-anchor="start" >x=0.1</text>
<text x="1799.7" y="1217.8" font-size="60" fill="#ff00ff" text-anchor="start" >x=0</text>
<text x="1559.0" y="1513.8" font-size="51.5" fill="#000" text-anchor="start" >Fig. 2</text>
<text x="1557.8" y="1590.0" font-size="53" fill="#000" text-anchor="start" >Y.R.&#160; Sui et al.</text>
<text x="1261.2" y="148.0" font-size="66" fill="#ff0000" text-anchor="start" >a</text>
<text x="1834.3" y="143.2" font-size="66" fill="#ff0000" text-anchor="start" >b</text>
</g>
<text transform="translate(1187.0 144.0) scale(1.28 1)" font-family="Noto Serif CJK SC, serif" font-size="53.8" fill="#ff0000">（</text>
<text transform="translate(1299.9 144.0) scale(1.28 1)" font-family="Noto Serif CJK SC, serif" font-size="53.8" fill="#ff0000">）</text>
<text transform="translate(1760.7 139.5) scale(1.28 1)" font-family="Noto Serif CJK SC, serif" font-size="53.8" fill="#ff0000">（</text>
<text transform="translate(1876.3 139.5) scale(1.28 1)" font-family="Noto Serif CJK SC, serif" font-size="53.8" fill="#ff0000">）</text>
</svg>
</body></html>
